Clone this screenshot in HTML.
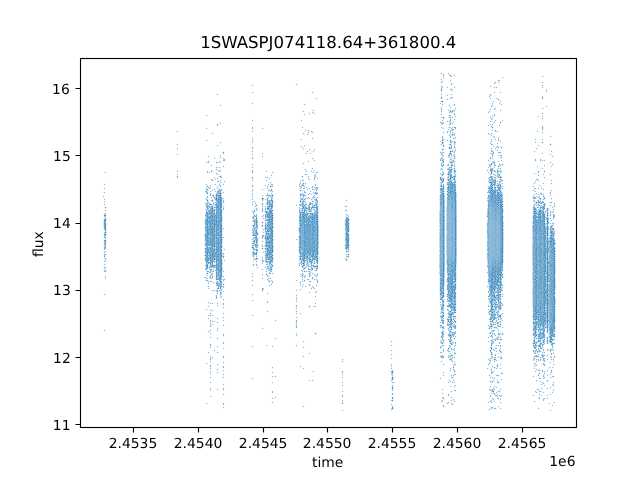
<!DOCTYPE html>
<html><head><meta charset="utf-8"><title>1SWASPJ074118.64+361800.4</title>
<style>html,body{margin:0;padding:0;background:#fff;overflow:hidden}svg{display:block}</style></head>
<body><svg width="640" height="480" viewBox="0 0 640 480">
<rect width="640" height="480" fill="#fff"/>
<g fill="none" stroke-width="1"><path stroke="#f4f8fb" d="M102.5 196v1M103.5 184v1M103.5 188v1M103.5 192v1M103.5 195v1M103.5 197v1M103.5 199v1M103.5 201v1M103.5 204v1M103.5 214v1M103.5 216v1M103.5 228v2M103.5 233v1M103.5 235v3M103.5 244v1M103.5 246v4M103.5 252v1M103.5 254v2M103.5 261v1M103.5 264v1M103.5 267v1M103.5 269v1M103.5 271v1M103.5 294v1M103.5 330v1M104.5 172v1M104.5 183v1M104.5 185v1M104.5 187v1M104.5 189v1M104.5 191v1M104.5 193v1M104.5 196v1M104.5 198v1M104.5 202v2M104.5 205v1M104.5 210v1M104.5 231v1M104.5 250v1M104.5 262v2M104.5 265v2M104.5 272v1M104.5 276v1M104.5 278v1M104.5 293v1M104.5 295v1M104.5 329v1M104.5 331v1M105.5 171v1M105.5 173v1M105.5 184v1M105.5 188v1M105.5 192v1M105.5 199v1M105.5 201v1M105.5 204v1M105.5 209v1M105.5 211v2M105.5 250v1M105.5 253v1M105.5 264v1M105.5 266v1M105.5 268v1M105.5 272v1M105.5 275v1M105.5 279v1M105.5 294v1M105.5 330v1M106.5 172v1M106.5 210v1M106.5 213v1M106.5 217v2M106.5 221v3M106.5 226v1M106.5 230v2M106.5 235v1M106.5 237v2M106.5 242v7M106.5 251v1M106.5 254v1M106.5 260v1M106.5 267v1M106.5 270v2M106.5 276v1M106.5 278v1M176.5 131v1M176.5 144v1M176.5 148v1M176.5 154v1M176.5 171v1M176.5 174v1M176.5 176v2M177.5 130v1M177.5 132v1M177.5 143v1M177.5 145v1M177.5 147v1M177.5 149v1M177.5 153v1M177.5 155v1M177.5 170v1M177.5 172v2M177.5 178v1M178.5 131v1M178.5 144v1M178.5 148v1M178.5 154v1M178.5 171v1M178.5 174v1M178.5 176v2M204.5 191v1M204.5 203v1M204.5 209v1M204.5 214v2M204.5 217v1M204.5 221v1M204.5 223v1M204.5 226v1M204.5 228v1M204.5 231v1M204.5 233v1M204.5 238v1M204.5 243v1M204.5 245v1M204.5 252v2M204.5 257v2M204.5 265v1M204.5 269v1M205.5 115v1M205.5 128v1M205.5 140v1M205.5 162v1M205.5 184v1M205.5 188v3M205.5 198v2M205.5 202v1M205.5 204v1M205.5 208v1M205.5 211v1M205.5 263v1M205.5 270v1M205.5 273v1M205.5 309v1M205.5 363v1M205.5 403v1M206.5 114v1M206.5 116v1M206.5 127v1M206.5 129v1M206.5 139v1M206.5 141v1M206.5 161v1M206.5 163v1M206.5 171v2M206.5 183v1M206.5 185v1M206.5 187v1M206.5 196v1M206.5 201v2M206.5 270v1M206.5 272v1M206.5 274v2M206.5 278v1M206.5 308v1M206.5 310v1M206.5 362v1M206.5 364v1M206.5 402v1M206.5 404v1M207.5 115v1M207.5 128v1M207.5 140v1M207.5 156v1M207.5 161v1M207.5 170v1M207.5 173v1M207.5 184v1M207.5 195v1M207.5 276v2M207.5 283v1M207.5 286v1M207.5 288v1M207.5 302v1M207.5 306v1M207.5 309v1M207.5 315v1M207.5 318v1M207.5 331v1M207.5 352v1M207.5 363v1M207.5 403v1M208.5 155v1M208.5 157v1M208.5 160v1M208.5 163v1M208.5 171v1M208.5 189v2M208.5 192v1M208.5 196v2M208.5 270v1M208.5 275v1M208.5 277v2M208.5 284v2M208.5 289v1M208.5 301v1M208.5 303v1M208.5 305v1M208.5 307v1M208.5 314v1M208.5 316v2M208.5 319v1M208.5 330v1M208.5 332v1M208.5 351v1M208.5 353v1M209.5 156v1M209.5 161v2M209.5 171v1M209.5 173v1M209.5 185v1M209.5 189v1M209.5 191v1M209.5 195v1M209.5 265v1M209.5 270v1M209.5 273v1M209.5 275v1M209.5 278v1M209.5 283v1M209.5 286v1M209.5 288v1M209.5 302v2M209.5 306v1M209.5 310v1M209.5 313v1M209.5 318v1M209.5 320v2M209.5 323v1M209.5 325v2M209.5 330v2M209.5 333v1M209.5 337v1M209.5 344v2M209.5 347v1M209.5 352v1M209.5 356v1M209.5 358v2M209.5 361v1M209.5 365v2M209.5 368v1M209.5 371v1M209.5 373v1M209.5 377v1M209.5 382v1M209.5 388v1M209.5 390v1M209.5 396v1M210.5 165v1M210.5 170v3M210.5 179v1M210.5 184v1M210.5 190v1M210.5 192v1M210.5 196v2M210.5 200v1M210.5 273v1M210.5 280v1M210.5 282v1M210.5 302v1M210.5 304v1M210.5 309v1M210.5 311v2M210.5 316v1M210.5 319v1M210.5 327v1M210.5 329v1M210.5 331v2M210.5 334v1M210.5 336v1M210.5 338v1M210.5 343v1M210.5 348v1M210.5 355v1M210.5 362v1M210.5 364v1M210.5 369v2M210.5 374v1M210.5 376v1M210.5 378v1M210.5 381v1M210.5 383v1M210.5 387v1M210.5 391v1M210.5 395v1M210.5 397v1M211.5 133v1M211.5 164v1M211.5 166v1M211.5 169v1M211.5 172v1M211.5 178v1M211.5 185v1M211.5 187v1M211.5 190v2M211.5 196v1M211.5 198v2M211.5 203v1M211.5 272v1M211.5 279v2M211.5 282v1M211.5 290v1M211.5 313v1M211.5 320v1M211.5 323v4M211.5 330v1M211.5 333v1M211.5 337v1M211.5 344v2M211.5 347v1M211.5 356v4M211.5 361v1M211.5 365v2M211.5 368v1M211.5 371v1M211.5 373v1M211.5 377v1M211.5 382v1M211.5 388v1M211.5 390v1M211.5 396v1M212.5 132v1M212.5 134v1M212.5 165v1M212.5 170v2M212.5 189v1M212.5 191v1M212.5 194v1M212.5 197v1M212.5 202v1M212.5 281v2M212.5 289v1M212.5 291v1M212.5 302v1M212.5 304v1M212.5 309v1M212.5 311v1M212.5 314v1M212.5 316v1M212.5 320v1M212.5 322v2M212.5 325v1M212.5 356v1M212.5 358v1M213.5 133v1M213.5 158v1M213.5 177v1M213.5 189v2M213.5 198v1M213.5 201v1M213.5 272v1M213.5 275v3M213.5 281v1M213.5 283v1M213.5 303v1M213.5 310v1M213.5 315v1M213.5 324v1M213.5 350v1M213.5 357v1M214.5 157v1M214.5 159v1M214.5 176v1M214.5 178v2M214.5 184v1M214.5 188v1M214.5 190v2M214.5 202v1M214.5 263v1M214.5 268v4M214.5 282v1M214.5 289v1M214.5 291v1M214.5 320v1M214.5 322v1M214.5 349v1M214.5 351v1M215.5 158v1M215.5 162v1M215.5 167v1M215.5 169v1M215.5 173v1M215.5 177v2M215.5 180v1M215.5 183v1M215.5 185v1M215.5 189v2M215.5 192v3M215.5 201v1M215.5 274v1M215.5 276v1M215.5 278v1M215.5 285v1M215.5 295v4M215.5 321v1M215.5 350v1M216.5 94v1M216.5 124v2M216.5 145v1M216.5 161v1M216.5 163v1M216.5 166v1M216.5 170v1M216.5 172v1M216.5 178v2M216.5 181v1M216.5 184v1M216.5 186v1M216.5 188v1M216.5 286v1M216.5 289v1M216.5 293v2M216.5 299v1M216.5 303v1M216.5 305v1M216.5 318v1M216.5 322v1M216.5 328v1M216.5 330v1M216.5 338v1M216.5 346v1M216.5 352v1M216.5 364v1M216.5 369v1M216.5 372v1M216.5 389v1M217.5 93v1M217.5 95v1M217.5 123v1M217.5 126v1M217.5 144v1M217.5 146v1M217.5 161v1M217.5 163v1M217.5 167v1M217.5 169v2M217.5 175v1M217.5 177v1M217.5 179v2M217.5 182v1M217.5 185v1M217.5 189v1M217.5 294v5M217.5 302v1M217.5 306v1M217.5 317v1M217.5 319v1M217.5 321v1M217.5 323v1M217.5 327v1M217.5 331v1M217.5 337v1M217.5 339v1M217.5 345v1M217.5 347v1M217.5 351v1M217.5 353v1M217.5 363v1M217.5 365v1M217.5 368v1M217.5 370v2M217.5 373v1M217.5 388v1M217.5 390v1M218.5 94v1M218.5 124v2M218.5 145v1M218.5 161v2M218.5 167v1M218.5 169v1M218.5 174v1M218.5 176v1M218.5 178v1M218.5 180v1M218.5 182v1M218.5 184v1M218.5 186v1M218.5 188v1M218.5 289v1M218.5 293v1M218.5 303v1M218.5 305v1M218.5 318v1M218.5 322v1M218.5 328v1M218.5 330v1M218.5 338v1M218.5 346v1M218.5 352v1M218.5 364v1M218.5 369v1M218.5 372v1M218.5 389v1M219.5 105v1M219.5 123v1M219.5 142v1M219.5 155v1M219.5 157v1M219.5 160v1M219.5 166v1M219.5 168v1M219.5 172v1M219.5 175v1M219.5 177v1M219.5 180v4M219.5 186v1M219.5 188v1M219.5 289v1M219.5 297v1M220.5 104v1M220.5 106v1M220.5 122v1M220.5 124v1M220.5 141v1M220.5 143v1M220.5 154v1M220.5 158v1M220.5 163v1M220.5 167v1M220.5 169v1M220.5 179v1M220.5 183v1M220.5 187v1M220.5 298v1M221.5 105v1M221.5 123v1M221.5 142v1M221.5 155v1M221.5 157v1M221.5 162v1M221.5 170v1M221.5 178v1M221.5 180v1M221.5 182v1M221.5 185v2M221.5 188v1M221.5 295v1M222.5 153v1M222.5 158v1M222.5 160v1M222.5 166v1M222.5 177v1M222.5 184v1M222.5 189v2M222.5 192v2M222.5 197v1M222.5 203v1M222.5 205v1M222.5 208v1M222.5 224v1M222.5 227v1M222.5 233v1M222.5 236v1M222.5 249v1M222.5 251v1M222.5 258v1M222.5 272v1M222.5 274v1M222.5 277v1M222.5 280v4M222.5 287v1M222.5 289v3M222.5 293v1M222.5 296v1M222.5 299v1M222.5 303v2M222.5 307v1M222.5 313v1M222.5 317v1M222.5 320v1M222.5 325v1M222.5 334v2M222.5 342v2M222.5 348v1M222.5 356v2M222.5 362v1M222.5 366v2M222.5 370v1M222.5 374v1M222.5 377v1M222.5 384v1M222.5 388v2M222.5 394v1M222.5 403v2M222.5 407v1M223.5 154v1M223.5 157v1M223.5 161v1M223.5 165v1M223.5 167v1M223.5 181v1M223.5 183v1M223.5 185v1M223.5 191v1M223.5 193v1M223.5 197v1M223.5 203v1M223.5 205v1M223.5 210v1M223.5 227v1M223.5 229v1M223.5 236v1M223.5 238v1M223.5 249v1M223.5 252v1M223.5 258v1M223.5 260v1M223.5 270v1M223.5 272v1M223.5 275v1M223.5 277v2M223.5 281v1M223.5 288v1M223.5 290v1M223.5 292v1M223.5 298v1M223.5 300v1M223.5 302v1M223.5 305v2M223.5 308v1M223.5 312v1M223.5 314v1M223.5 316v1M223.5 318v2M223.5 321v1M223.5 324v1M223.5 326v1M223.5 333v1M223.5 336v1M223.5 341v1M223.5 344v1M223.5 347v1M223.5 349v1M223.5 355v1M223.5 358v1M223.5 361v1M223.5 363v1M223.5 365v1M223.5 368v2M223.5 371v1M223.5 373v1M223.5 375v2M223.5 378v1M223.5 383v1M223.5 385v1M223.5 387v1M223.5 390v1M223.5 393v1M223.5 395v1M223.5 402v1M223.5 405v2M223.5 408v1M224.5 153v1M224.5 161v1M224.5 166v1M224.5 180v1M224.5 182v1M224.5 184v1M224.5 192v1M224.5 198v1M224.5 200v3M224.5 206v1M224.5 208v2M224.5 228v1M224.5 237v1M224.5 248v1M224.5 250v1M224.5 253v2M224.5 257v1M224.5 259v1M224.5 261v1M224.5 271v1M224.5 276v1M224.5 278v1M224.5 286v2M224.5 291v1M224.5 299v1M224.5 303v2M224.5 307v1M224.5 313v1M224.5 317v1M224.5 320v1M224.5 325v1M224.5 334v2M224.5 342v2M224.5 348v1M224.5 356v2M224.5 362v1M224.5 366v2M224.5 370v1M224.5 374v1M224.5 377v1M224.5 384v1M224.5 388v2M224.5 394v1M224.5 403v2M224.5 407v1M225.5 159v2M225.5 181v1M225.5 249v1M225.5 260v1M225.5 279v1M251.5 85v1M251.5 92v1M251.5 103v1M251.5 120v1M251.5 127v2M251.5 131v1M251.5 138v1M251.5 140v1M251.5 142v1M251.5 147v2M251.5 151v1M251.5 154v1M251.5 157v2M251.5 164v1M251.5 167v1M251.5 170v3M251.5 177v2M251.5 180v1M251.5 185v2M251.5 193v1M251.5 195v1M251.5 197v1M251.5 199v1M251.5 202v1M251.5 204v1M251.5 211v1M251.5 217v1M251.5 225v1M251.5 228v1M251.5 230v1M251.5 232v1M251.5 235v1M251.5 239v1M251.5 245v2M251.5 252v1M251.5 254v1M251.5 273v1M251.5 276v1M251.5 280v1M251.5 285v1M251.5 294v1M251.5 300v1M251.5 315v1M251.5 346v1M251.5 378v1M252.5 84v1M252.5 86v1M252.5 91v1M252.5 93v1M252.5 102v1M252.5 104v1M252.5 119v1M252.5 121v1M252.5 126v1M252.5 129v2M252.5 132v1M252.5 137v1M252.5 143v1M252.5 146v1M252.5 149v2M252.5 152v2M252.5 155v2M252.5 159v1M252.5 163v1M252.5 165v2M252.5 168v2M252.5 173v1M252.5 176v1M252.5 181v1M252.5 184v1M252.5 187v1M252.5 192v1M252.5 200v2M252.5 205v1M252.5 210v1M252.5 213v1M252.5 220v1M252.5 224v1M252.5 236v1M252.5 240v1M252.5 249v1M252.5 260v1M252.5 264v2M252.5 272v1M252.5 274v2M252.5 277v1M252.5 279v1M252.5 281v1M252.5 284v1M252.5 286v1M252.5 293v1M252.5 295v1M252.5 299v1M252.5 301v1M252.5 314v1M252.5 316v1M252.5 345v1M252.5 347v1M252.5 377v1M252.5 379v1M253.5 85v1M253.5 92v1M253.5 103v1M253.5 120v1M253.5 127v2M253.5 131v1M253.5 138v1M253.5 140v1M253.5 142v1M253.5 147v2M253.5 151v1M253.5 154v1M253.5 157v2M253.5 164v1M253.5 167v1M253.5 170v3M253.5 177v2M253.5 180v1M253.5 185v2M253.5 193v1M253.5 195v1M253.5 197v1M253.5 199v1M253.5 201v2M253.5 204v1M253.5 214v1M253.5 258v2M253.5 261v1M253.5 263v1M253.5 266v1M253.5 273v1M253.5 276v1M253.5 280v1M253.5 285v1M253.5 294v1M253.5 300v1M253.5 315v1M253.5 346v1M253.5 378v1M254.5 200v1M254.5 202v2M254.5 206v1M254.5 213v1M254.5 247v1M254.5 251v1M254.5 257v1M254.5 260v1M254.5 264v2M255.5 201v2M255.5 204v1M255.5 207v3M255.5 211v1M255.5 214v1M255.5 255v2M255.5 260v2M255.5 264v2M256.5 203v1M256.5 207v1M256.5 213v1M256.5 262v2M256.5 266v2M257.5 208v1M257.5 211v1M257.5 214v3M257.5 248v1M257.5 256v2M257.5 261v1M257.5 264v3M257.5 268v1M258.5 210v1M258.5 221v2M258.5 225v2M258.5 228v1M258.5 238v3M258.5 242v1M258.5 244v1M258.5 247v1M258.5 258v1M258.5 267v1M261.5 128v1M261.5 153v1M261.5 156v1M261.5 189v1M261.5 195v1M261.5 200v1M261.5 203v1M261.5 206v1M261.5 208v4M261.5 216v1M261.5 226v1M261.5 235v4M261.5 241v1M261.5 245v2M261.5 257v1M261.5 259v3M261.5 263v1M261.5 269v1M261.5 274v1M261.5 278v1M261.5 288v2M261.5 328v1M262.5 127v1M262.5 129v1M262.5 152v1M262.5 154v2M262.5 157v1M262.5 188v1M262.5 190v1M262.5 194v1M262.5 196v1M262.5 201v2M262.5 212v1M262.5 217v2M262.5 227v1M262.5 229v1M262.5 232v1M262.5 234v1M262.5 239v2M262.5 242v1M262.5 244v1M262.5 252v1M262.5 256v1M262.5 264v1M262.5 268v1M262.5 270v1M262.5 273v1M262.5 275v1M262.5 277v1M262.5 279v1M262.5 287v1M262.5 327v1M262.5 329v1M263.5 128v1M263.5 153v1M263.5 156v1M263.5 189v1M263.5 195v1M263.5 197v1M263.5 200v1M263.5 203v1M263.5 206v1M263.5 208v4M263.5 214v1M263.5 217v1M263.5 219v1M263.5 226v1M263.5 228v1M263.5 230v2M263.5 233v2M263.5 238v1M263.5 241v1M263.5 245v2M263.5 251v1M263.5 253v1M263.5 257v1M263.5 259v1M263.5 262v2M263.5 269v1M263.5 274v1M263.5 278v1M263.5 287v1M263.5 328v1M264.5 177v1M264.5 185v1M264.5 198v2M264.5 206v1M264.5 208v2M264.5 214v1M264.5 217v1M264.5 222v2M264.5 226v1M264.5 232v2M264.5 239v1M264.5 242v1M264.5 244v1M264.5 246v1M264.5 252v2M264.5 257v2M264.5 260v1M264.5 267v1M264.5 288v1M265.5 171v1M265.5 176v1M265.5 178v1M265.5 180v1M265.5 184v1M265.5 186v1M265.5 195v1M265.5 198v1M265.5 200v1M265.5 203v1M265.5 205v1M265.5 213v1M265.5 264v1M265.5 266v1M265.5 268v2M265.5 271v1M265.5 345v1M266.5 170v1M266.5 172v1M266.5 179v1M266.5 181v1M266.5 185v2M266.5 188v1M266.5 193v2M266.5 196v1M266.5 201v1M266.5 207v1M266.5 221v1M266.5 265v2M266.5 272v1M266.5 279v1M266.5 293v1M266.5 301v2M266.5 311v1M266.5 344v1M266.5 346v1M267.5 171v1M267.5 176v1M267.5 178v1M267.5 180v1M267.5 184v2M267.5 189v2M267.5 192v1M267.5 260v1M267.5 270v2M267.5 292v1M267.5 294v1M267.5 300v1M267.5 303v1M267.5 310v1M267.5 312v1M267.5 345v1M268.5 177v2M268.5 183v1M268.5 185v2M268.5 188v2M268.5 191v1M268.5 193v2M268.5 199v1M268.5 271v3M268.5 285v1M268.5 293v1M268.5 301v2M268.5 311v1M269.5 177v1M269.5 179v1M269.5 182v1M269.5 184v1M269.5 189v1M269.5 197v1M269.5 274v1M269.5 276v1M269.5 284v1M269.5 286v1M270.5 175v1M270.5 178v1M270.5 181v1M270.5 183v2M270.5 192v2M270.5 198v1M270.5 274v1M270.5 277v1M270.5 279v2M270.5 284v2M271.5 172v1M271.5 174v1M271.5 176v1M271.5 182v2M271.5 187v1M271.5 192v1M271.5 272v1M271.5 278v2M271.5 282v2M271.5 285v1M271.5 346v1M271.5 367v1M271.5 372v1M271.5 376v1M271.5 382v1M271.5 391v2M271.5 398v1M271.5 402v1M272.5 171v1M272.5 173v1M272.5 175v1M272.5 183v1M272.5 187v1M272.5 192v2M272.5 263v1M272.5 268v1M272.5 271v2M272.5 274v1M272.5 283v2M272.5 345v1M272.5 347v1M272.5 366v1M272.5 368v1M272.5 371v1M272.5 373v1M272.5 375v1M272.5 377v1M272.5 381v1M272.5 383v1M272.5 390v1M272.5 393v1M272.5 397v1M272.5 399v1M272.5 401v1M272.5 403v1M273.5 172v1M273.5 184v1M273.5 186v1M273.5 191v1M273.5 196v1M273.5 198v1M273.5 200v1M273.5 204v1M273.5 206v2M273.5 214v1M273.5 216v1M273.5 222v1M273.5 225v1M273.5 228v3M273.5 232v1M273.5 234v1M273.5 237v2M273.5 241v1M273.5 254v1M273.5 260v3M273.5 266v1M273.5 273v1M273.5 281v2M273.5 346v1M273.5 367v1M273.5 372v1M273.5 376v1M273.5 382v1M273.5 391v2M273.5 398v1M273.5 402v1M274.5 320v1M274.5 338v1M274.5 376v1M274.5 397v1M275.5 319v1M275.5 321v1M275.5 337v1M275.5 339v1M275.5 375v1M275.5 377v1M275.5 396v1M275.5 398v1M276.5 320v1M276.5 338v1M276.5 376v1M276.5 397v1M295.5 84v1M295.5 205v1M295.5 239v1M295.5 280v1M295.5 290v1M295.5 295v1M295.5 297v1M295.5 299v1M295.5 301v1M295.5 305v2M295.5 308v1M295.5 311v1M295.5 313v1M295.5 317v1M295.5 320v3M295.5 324v1M295.5 327v1M295.5 333v1M295.5 335v1M295.5 345v1M296.5 83v1M296.5 85v1M296.5 204v1M296.5 206v1M296.5 238v1M296.5 240v1M296.5 279v1M296.5 281v1M296.5 289v1M296.5 291v1M296.5 294v1M296.5 302v1M296.5 304v1M296.5 309v2M296.5 314v1M296.5 316v1M296.5 318v2M296.5 328v1M296.5 332v1M296.5 336v1M296.5 344v1M296.5 346v1M297.5 84v1M297.5 205v1M297.5 239v1M297.5 280v1M297.5 290v1M297.5 295v1M297.5 297v1M297.5 299v1M297.5 301v1M297.5 305v2M297.5 308v1M297.5 311v1M297.5 313v1M297.5 317v1M297.5 320v3M297.5 324v1M297.5 327v1M297.5 333v1M297.5 335v1M297.5 345v1M298.5 184v1M298.5 186v1M298.5 204v1M298.5 207v1M298.5 209v4M298.5 214v1M298.5 216v3M298.5 221v1M298.5 223v1M298.5 227v1M298.5 232v2M298.5 238v1M298.5 240v3M298.5 244v3M298.5 248v1M298.5 253v1M298.5 256v1M298.5 258v1M298.5 260v1M298.5 263v1M299.5 181v1M299.5 187v2M299.5 195v2M299.5 198v1M299.5 200v1M299.5 203v1M299.5 206v1M299.5 261v1M299.5 274v1M299.5 282v2M299.5 285v1M299.5 289v1M299.5 313v1M299.5 366v1M300.5 120v1M300.5 139v1M300.5 146v1M300.5 180v1M300.5 203v1M300.5 264v1M300.5 270v1M300.5 273v1M300.5 275v2M300.5 281v1M300.5 286v1M300.5 288v1M300.5 290v1M300.5 312v1M300.5 314v1M300.5 365v1M300.5 367v1M301.5 119v1M301.5 121v1M301.5 127v1M301.5 138v1M301.5 140v1M301.5 145v1M301.5 147v1M301.5 180v2M301.5 183v1M301.5 196v2M301.5 202v1M301.5 265v1M301.5 269v1M301.5 273v2M301.5 279v1M301.5 281v3M301.5 285v2M301.5 289v1M301.5 313v1M301.5 366v1M302.5 111v1M302.5 120v1M302.5 126v1M302.5 128v1M302.5 133v1M302.5 139v1M302.5 146v1M302.5 148v1M302.5 163v1M302.5 179v1M302.5 181v1M302.5 186v4M302.5 191v2M302.5 269v1M302.5 282v1M302.5 284v2M302.5 287v1M302.5 341v1M302.5 347v1M302.5 356v1M302.5 368v1M302.5 406v1M303.5 104v1M303.5 110v1M303.5 112v1M303.5 114v1M303.5 127v1M303.5 132v1M303.5 134v1M303.5 145v1M303.5 147v1M303.5 149v1M303.5 162v1M303.5 164v1M303.5 179v1M303.5 181v1M303.5 187v1M303.5 189v4M303.5 270v1M303.5 276v1M303.5 279v1M303.5 281v1M303.5 283v1M303.5 285v2M303.5 340v1M303.5 342v1M303.5 346v1M303.5 348v1M303.5 355v1M303.5 357v1M303.5 367v1M303.5 369v1M303.5 405v1M303.5 407v1M304.5 103v1M304.5 105v1M304.5 111v1M304.5 113v1M304.5 115v1M304.5 130v1M304.5 133v1M304.5 144v1M304.5 146v1M304.5 148v1M304.5 163v1M304.5 169v1M304.5 174v1M304.5 180v1M304.5 189v2M304.5 193v1M304.5 197v1M304.5 266v1M304.5 274v1M304.5 278v1M304.5 284v1M304.5 286v1M304.5 341v1M304.5 347v1M304.5 356v1M304.5 368v1M304.5 406v1M305.5 104v1M305.5 114v1M305.5 129v1M305.5 131v1M305.5 145v1M305.5 153v1M305.5 168v1M305.5 170v2M305.5 173v1M305.5 175v1M305.5 182v1M305.5 184v1M305.5 186v3M305.5 193v2M305.5 196v2M305.5 265v1M305.5 274v1M305.5 277v1M305.5 285v1M305.5 287v1M306.5 130v1M306.5 134v1M306.5 151v2M306.5 154v1M306.5 169v2M306.5 172v2M306.5 175v1M306.5 183v1M306.5 186v1M306.5 188v2M306.5 192v1M306.5 195v1M306.5 202v2M306.5 270v1M306.5 272v1M306.5 275v1M306.5 279v1M306.5 286v1M307.5 130v1M307.5 132v2M307.5 135v1M307.5 150v1M307.5 152v2M307.5 161v1M307.5 171v1M307.5 174v1M307.5 176v1M307.5 178v1M307.5 187v2M307.5 190v1M307.5 194v1M307.5 199v1M307.5 204v3M307.5 210v1M307.5 268v2M307.5 278v1M307.5 280v1M308.5 113v1M308.5 129v1M308.5 133v2M308.5 149v1M308.5 151v1M308.5 160v1M308.5 162v1M308.5 175v1M308.5 188v2M308.5 195v2M308.5 203v1M308.5 272v1M308.5 274v3M308.5 278v1M308.5 280v2M308.5 284v2M308.5 292v1M308.5 353v1M308.5 380v1M309.5 112v1M309.5 114v1M309.5 130v1M309.5 132v1M309.5 148v1M309.5 150v1M309.5 153v1M309.5 161v1M309.5 176v1M309.5 180v1M309.5 187v1M309.5 189v1M309.5 191v2M309.5 199v1M309.5 263v3M309.5 267v1M309.5 277v1M309.5 279v2M309.5 282v2M309.5 286v1M309.5 291v1M309.5 293v1M309.5 352v1M309.5 354v1M309.5 379v1M309.5 381v1M310.5 113v1M310.5 131v1M310.5 149v1M310.5 152v1M310.5 154v1M310.5 171v1M310.5 179v1M310.5 188v1M310.5 190v1M310.5 192v3M310.5 198v2M310.5 201v1M310.5 264v2M310.5 267v1M310.5 280v1M310.5 282v1M310.5 284v2M310.5 288v1M310.5 292v1M310.5 353v1M310.5 380v1M311.5 92v1M311.5 112v1M311.5 130v1M311.5 138v1M311.5 153v1M311.5 158v1M311.5 168v1M311.5 170v1M311.5 172v1M311.5 186v2M311.5 189v1M311.5 191v1M311.5 193v1M311.5 195v1M311.5 200v1M311.5 258v1M311.5 271v3M311.5 275v1M311.5 277v1M311.5 281v1M311.5 286v2M311.5 289v1M311.5 380v1M312.5 91v1M312.5 93v1M312.5 110v2M312.5 113v1M312.5 133v1M312.5 137v1M312.5 139v1M312.5 151v1M312.5 157v1M312.5 159v1M312.5 167v1M312.5 169v1M312.5 171v2M312.5 185v1M312.5 190v1M312.5 192v1M312.5 194v1M312.5 196v1M312.5 211v1M312.5 272v1M312.5 274v1M312.5 276v1M312.5 285v1M312.5 288v1M312.5 306v1M312.5 371v1M312.5 379v1M312.5 381v1M313.5 92v1M313.5 109v1M313.5 111v3M313.5 132v1M313.5 138v1M313.5 149v2M313.5 152v1M313.5 158v1M313.5 160v1M313.5 168v1M313.5 170v2M313.5 173v1M313.5 175v1M313.5 177v3M313.5 186v1M313.5 188v1M313.5 190v2M313.5 199v2M313.5 202v2M313.5 261v1M313.5 264v1M313.5 273v2M313.5 277v1M313.5 279v1M313.5 305v1M313.5 307v1M313.5 370v1M313.5 372v1M313.5 380v1M314.5 110v1M314.5 112v1M314.5 114v1M314.5 148v1M314.5 150v2M314.5 159v1M314.5 161v1M314.5 169v1M314.5 171v2M314.5 180v1M314.5 184v3M314.5 189v1M314.5 201v3M314.5 268v1M314.5 270v1M314.5 273v1M314.5 278v1M314.5 280v1M314.5 289v1M314.5 292v1M314.5 296v1M314.5 303v1M314.5 371v1M315.5 98v1M315.5 113v1M315.5 149v1M315.5 160v1M315.5 170v1M315.5 172v2M315.5 178v2M315.5 183v1M315.5 186v1M315.5 190v2M315.5 195v1M315.5 197v1M315.5 271v1M315.5 285v1M315.5 288v1M315.5 293v1M315.5 295v1M315.5 297v1M315.5 302v1M315.5 304v2M315.5 307v1M316.5 97v1M316.5 99v1M316.5 171v1M316.5 173v2M316.5 176v1M316.5 178v1M316.5 184v3M316.5 195v1M316.5 264v1M316.5 271v1M316.5 278v1M316.5 281v2M316.5 284v1M316.5 286v1M316.5 290v1M316.5 296v1M316.5 303v1M316.5 306v1M317.5 98v1M317.5 171v1M317.5 173v1M317.5 177v1M317.5 179v1M317.5 186v1M317.5 190v1M317.5 196v1M317.5 270v1M317.5 283v1M317.5 285v1M317.5 291v1M318.5 172v1M318.5 178v1M318.5 187v2M318.5 197v1M318.5 200v3M318.5 204v1M318.5 209v1M318.5 214v1M318.5 218v1M318.5 256v2M318.5 262v1M318.5 265v1M318.5 267v2M318.5 280v3M341.5 359v1M341.5 361v1M341.5 371v2M341.5 374v1M341.5 377v1M341.5 382v1M341.5 385v1M341.5 391v1M341.5 395v2M341.5 400v1M341.5 402v2M341.5 410v1M342.5 358v1M342.5 362v1M342.5 370v1M342.5 375v2M342.5 378v1M342.5 381v1M342.5 383v2M342.5 386v1M342.5 390v1M342.5 392v1M342.5 394v1M342.5 397v1M342.5 399v1M342.5 404v1M342.5 409v1M342.5 411v1M343.5 359v1M343.5 361v1M343.5 371v2M343.5 374v1M343.5 377v1M343.5 382v1M343.5 385v1M343.5 391v1M343.5 395v2M343.5 400v1M343.5 402v2M343.5 410v1M344.5 206v1M344.5 210v1M344.5 220v2M344.5 225v1M344.5 228v1M344.5 233v2M344.5 237v1M344.5 239v2M344.5 247v2M344.5 258v1M345.5 200v1M345.5 205v1M345.5 207v1M345.5 209v1M345.5 211v1M345.5 214v1M345.5 254v1M345.5 256v2M345.5 260v1M346.5 199v1M346.5 201v1M346.5 205v1M346.5 207v1M346.5 209v1M346.5 211v1M346.5 213v1M346.5 253v1M346.5 257v1M346.5 261v1M347.5 200v1M347.5 206v1M347.5 210v1M347.5 252v1M347.5 255v1M347.5 260v1M348.5 252v1M348.5 258v1M349.5 216v1M349.5 218v1M349.5 235v1M349.5 237v1M349.5 241v1M349.5 243v1M349.5 248v4M349.5 256v2M390.5 341v1M390.5 345v1M390.5 350v1M390.5 354v1M390.5 358v1M390.5 364v1M390.5 366v1M390.5 368v1M390.5 371v2M390.5 374v1M390.5 380v1M390.5 400v1M390.5 404v1M390.5 409v1M391.5 340v1M391.5 342v1M391.5 344v1M391.5 346v1M391.5 349v1M391.5 351v1M391.5 353v1M391.5 355v1M391.5 357v1M391.5 359v1M391.5 363v1M391.5 369v1M391.5 381v2M391.5 385v3M391.5 390v1M391.5 393v2M391.5 399v1M391.5 401v1M391.5 403v1M391.5 405v2M391.5 410v1M392.5 341v1M392.5 345v1M392.5 350v1M392.5 354v1M392.5 358v1M392.5 364v1M392.5 366v1M392.5 368v2M392.5 381v1M392.5 383v2M392.5 391v2M392.5 395v1M392.5 404v2M393.5 370v1M393.5 373v1M393.5 375v1M393.5 381v1M393.5 383v1M393.5 385v3M393.5 390v1M393.5 393v2M393.5 406v1M394.5 382v1M439.5 103v1M439.5 122v1M439.5 141v1M439.5 152v1M439.5 159v2M439.5 169v1M439.5 173v1M439.5 182v1M439.5 185v2M439.5 188v1M439.5 191v2M439.5 194v1M439.5 200v1M439.5 204v1M439.5 206v1M439.5 227v1M439.5 229v1M439.5 231v1M439.5 276v3M439.5 281v1M439.5 283v1M439.5 290v1M439.5 296v1M439.5 298v1M439.5 302v1M439.5 304v1M439.5 313v1M439.5 322v1M439.5 327v1M439.5 341v1M439.5 346v2M439.5 352v1M439.5 356v1M439.5 378v1M440.5 73v1M440.5 79v1M440.5 82v1M440.5 86v1M440.5 88v2M440.5 94v1M440.5 98v1M440.5 101v2M440.5 104v1M440.5 107v1M440.5 111v1M440.5 114v1M440.5 117v1M440.5 121v1M440.5 123v2M440.5 127v1M440.5 140v1M440.5 142v1M440.5 144v1M440.5 151v1M440.5 154v1M440.5 161v1M440.5 163v3M440.5 170v1M440.5 172v1M440.5 181v1M440.5 301v1M440.5 306v2M440.5 311v1M440.5 314v1M440.5 318v1M440.5 321v1M440.5 323v1M440.5 328v1M440.5 332v1M440.5 337v1M440.5 343v1M440.5 345v1M440.5 348v1M440.5 351v1M440.5 353v1M440.5 355v1M440.5 361v1M440.5 377v1M440.5 379v1M440.5 401v1M441.5 72v1M441.5 74v1M441.5 78v1M441.5 80v1M441.5 83v1M441.5 85v1M441.5 93v1M441.5 95v1M441.5 99v2M441.5 102v3M441.5 106v1M441.5 112v2M441.5 115v2M441.5 118v1M441.5 120v2M441.5 125v2M441.5 128v1M441.5 136v3M441.5 141v1M441.5 145v1M441.5 155v2M441.5 167v1M441.5 171v1M441.5 301v1M441.5 303v1M441.5 314v1M441.5 323v2M441.5 330v2M441.5 334v1M441.5 344v2M441.5 348v1M441.5 351v1M441.5 353v1M441.5 358v1M441.5 360v1M441.5 362v1M441.5 378v1M441.5 389v1M441.5 393v1M441.5 397v1M441.5 402v1M442.5 73v3M442.5 77v1M442.5 79v2M442.5 89v1M442.5 94v1M442.5 98v1M442.5 103v1M442.5 105v1M442.5 107v1M442.5 111v1M442.5 114v1M442.5 118v2M442.5 121v1M442.5 127v2M442.5 132v1M442.5 135v1M442.5 146v1M442.5 151v1M442.5 167v1M442.5 176v2M442.5 324v2M442.5 329v1M442.5 341v1M442.5 346v2M442.5 349v4M442.5 354v1M442.5 358v1M442.5 361v1M442.5 364v1M442.5 372v1M442.5 375v1M442.5 388v1M442.5 390v1M442.5 392v1M442.5 394v1M442.5 396v1M442.5 399v1M442.5 405v2M443.5 73v1M443.5 78v1M443.5 81v1M443.5 87v1M443.5 104v1M443.5 119v3M443.5 124v1M443.5 127v1M443.5 129v1M443.5 131v1M443.5 133v1M443.5 136v2M443.5 141v1M443.5 147v2M443.5 150v2M443.5 153v1M443.5 169v1M443.5 177v1M443.5 183v1M443.5 298v1M443.5 324v2M443.5 338v1M443.5 344v1M443.5 346v1M443.5 348v1M443.5 352v1M443.5 358v1M443.5 363v1M443.5 365v1M443.5 371v1M443.5 373v2M443.5 376v1M443.5 389v1M443.5 393v1M443.5 400v1M443.5 404v1M443.5 407v1M444.5 74v2M444.5 77v1M444.5 118v1M444.5 122v2M444.5 128v1M444.5 132v1M444.5 139v1M444.5 142v1M444.5 146v1M444.5 149v1M444.5 152v1M444.5 155v1M444.5 159v1M444.5 162v1M444.5 164v2M444.5 172v3M444.5 178v1M444.5 180v2M444.5 184v2M444.5 286v1M444.5 299v1M444.5 302v1M444.5 308v1M444.5 310v1M444.5 312v1M444.5 318v1M444.5 320v1M444.5 322v2M444.5 326v2M444.5 331v1M444.5 333v2M444.5 336v1M444.5 342v1M444.5 345v1M444.5 349v3M444.5 356v2M444.5 364v1M444.5 372v1M444.5 375v1M444.5 405v2M446.5 87v1M446.5 95v1M446.5 99v1M446.5 121v1M446.5 131v2M446.5 140v1M446.5 165v1M446.5 169v1M446.5 174v1M446.5 177v1M446.5 179v1M446.5 182v2M446.5 188v2M446.5 193v1M446.5 195v1M446.5 204v1M446.5 222v1M446.5 270v1M446.5 272v1M446.5 274v1M446.5 277v2M446.5 280v1M446.5 284v2M446.5 287v1M446.5 295v1M446.5 301v1M446.5 305v2M446.5 321v1M446.5 323v3M446.5 350v1M446.5 403v1M447.5 73v1M447.5 86v1M447.5 88v1M447.5 94v1M447.5 96v1M447.5 98v1M447.5 100v1M447.5 110v1M447.5 120v1M447.5 122v1M447.5 129v2M447.5 133v1M447.5 139v1M447.5 141v1M447.5 155v2M447.5 166v1M447.5 170v3M447.5 175v1M447.5 181v1M447.5 276v1M447.5 302v3M447.5 307v1M447.5 312v3M447.5 316v2M447.5 326v1M447.5 328v2M447.5 334v2M447.5 339v1M447.5 355v1M447.5 357v1M447.5 382v1M447.5 394v2M447.5 404v1M448.5 72v1M448.5 74v2M448.5 87v1M448.5 95v1M448.5 99v1M448.5 105v1M448.5 109v1M448.5 111v2M448.5 115v1M448.5 117v1M448.5 124v1M448.5 128v1M448.5 130v3M448.5 135v1M448.5 140v1M448.5 144v1M448.5 153v1M448.5 161v1M448.5 163v1M448.5 166v1M448.5 331v1M448.5 338v1M448.5 340v1M448.5 345v1M448.5 352v1M448.5 354v1M448.5 358v2M448.5 380v2M448.5 383v1M448.5 393v1M448.5 396v1M448.5 401v1M449.5 73v2M449.5 76v1M449.5 80v1M449.5 89v1M449.5 98v1M449.5 104v1M449.5 106v2M449.5 113v2M449.5 118v2M449.5 125v1M449.5 129v4M449.5 137v1M449.5 142v2M449.5 145v1M449.5 158v3M449.5 164v3M449.5 344v1M449.5 349v2M449.5 352v2M449.5 358v1M449.5 360v1M449.5 368v1M449.5 370v1M449.5 379v1M449.5 382v1M449.5 386v1M449.5 394v2M449.5 402v1M450.5 74v1M450.5 79v1M450.5 81v1M450.5 83v2M450.5 88v1M450.5 90v1M450.5 94v1M450.5 99v1M450.5 105v2M450.5 108v2M450.5 114v1M450.5 125v1M450.5 128v2M450.5 138v1M450.5 146v1M450.5 149v1M450.5 158v1M450.5 160v1M450.5 309v1M450.5 348v2M450.5 351v2M450.5 367v1M450.5 371v1M450.5 375v1M450.5 377v1M450.5 382v1M450.5 385v1M450.5 387v1M450.5 391v1M450.5 397v1M450.5 400v1M450.5 403v1M451.5 77v1M451.5 80v1M451.5 82v1M451.5 85v1M451.5 88v1M451.5 93v1M451.5 95v2M451.5 107v1M451.5 110v1M451.5 113v1M451.5 115v1M451.5 119v1M451.5 122v1M451.5 124v1M451.5 131v1M451.5 135v3M451.5 143v1M451.5 149v1M451.5 345v3M451.5 350v1M451.5 353v1M451.5 368v1M451.5 370v1M451.5 374v1M451.5 378v1M451.5 381v2M451.5 386v1M451.5 390v1M451.5 392v1M451.5 396v1M451.5 398v2M451.5 401v2M452.5 76v1M452.5 83v2M452.5 91v1M452.5 94v1M452.5 96v1M452.5 98v1M452.5 116v1M452.5 118v1M452.5 121v2M452.5 124v1M452.5 126v1M452.5 136v1M452.5 138v1M452.5 140v1M452.5 145v5M452.5 152v1M452.5 154v1M452.5 157v1M452.5 167v1M452.5 171v2M452.5 174v1M452.5 179v1M452.5 181v1M452.5 317v1M452.5 328v1M452.5 331v1M452.5 337v1M452.5 339v3M452.5 345v1M452.5 348v1M452.5 354v1M452.5 359v1M452.5 362v1M452.5 365v1M452.5 369v1M452.5 376v1M452.5 378v1M452.5 380v2M452.5 383v1M452.5 391v1M452.5 397v1M452.5 399v2M452.5 405v1M453.5 75v1M453.5 87v1M453.5 90v1M453.5 97v1M453.5 104v2M453.5 109v1M453.5 113v2M453.5 117v1M453.5 119v2M453.5 122v2M453.5 128v1M453.5 132v1M453.5 137v1M453.5 139v1M453.5 142v3M453.5 146v2M453.5 150v1M453.5 152v1M453.5 157v1M453.5 159v1M453.5 163v2M453.5 166v1M453.5 169v1M453.5 172v2M453.5 175v1M453.5 324v1M453.5 328v1M453.5 331v1M453.5 337v1M453.5 341v1M453.5 343v2M453.5 346v1M453.5 352v1M453.5 354v2M453.5 361v2M453.5 376v2M453.5 379v1M453.5 381v1M453.5 386v1M453.5 390v1M453.5 398v1M453.5 400v2M453.5 404v1M454.5 74v1M454.5 76v1M454.5 86v1M454.5 88v1M454.5 103v1M454.5 106v1M454.5 108v2M454.5 111v2M454.5 115v2M454.5 118v1M454.5 120v2M454.5 129v1M454.5 132v1M454.5 136v1M454.5 139v2M454.5 314v1M454.5 323v1M454.5 329v1M454.5 343v1M454.5 355v2M454.5 358v1M454.5 361v1M454.5 373v1M454.5 380v2M454.5 383v1M454.5 387v1M454.5 389v1M454.5 391v1M454.5 399v2M454.5 402v1M455.5 75v1M455.5 87v1M455.5 104v2M455.5 107v1M455.5 109v2M455.5 113v3M455.5 117v1M455.5 119v1M455.5 126v1M455.5 129v1M455.5 133v1M455.5 135v2M455.5 144v1M455.5 146v1M455.5 152v1M455.5 154v1M455.5 156v2M455.5 161v1M455.5 163v1M455.5 165v2M455.5 319v1M455.5 323v2M455.5 329v2M455.5 335v1M455.5 337v1M455.5 341v1M455.5 348v1M455.5 350v1M455.5 357v1M455.5 362v2M455.5 365v1M455.5 370v1M455.5 373v1M455.5 375v1M455.5 382v1M455.5 384v1M455.5 389v1M455.5 391v1M455.5 401v1M456.5 108v1M456.5 116v1M456.5 127v2M456.5 137v1M456.5 142v1M456.5 148v1M456.5 150v1M456.5 174v3M456.5 184v3M456.5 276v1M456.5 283v1M456.5 285v1M456.5 289v1M456.5 294v2M456.5 297v1M456.5 306v2M456.5 318v1M456.5 322v1M456.5 327v2M456.5 331v1M456.5 333v1M456.5 336v1M456.5 342v2M456.5 345v1M456.5 353v1M456.5 364v1M456.5 374v1M456.5 385v1M456.5 390v1M486.5 170v1M486.5 192v1M486.5 198v1M486.5 200v1M486.5 209v1M486.5 212v1M486.5 214v1M486.5 223v1M486.5 227v1M486.5 232v2M486.5 235v1M486.5 237v1M486.5 241v2M486.5 244v3M486.5 250v1M486.5 253v1M486.5 257v1M486.5 259v1M486.5 265v2M486.5 272v1M486.5 286v1M486.5 368v1M487.5 112v1M487.5 125v1M487.5 133v1M487.5 160v1M487.5 167v1M487.5 169v1M487.5 171v2M487.5 178v1M487.5 181v1M487.5 186v1M487.5 190v1M487.5 193v1M487.5 203v1M487.5 269v2M487.5 274v3M487.5 280v1M487.5 283v1M487.5 285v1M487.5 287v1M487.5 291v2M487.5 298v1M487.5 305v2M487.5 309v1M487.5 312v1M487.5 325v1M487.5 337v1M487.5 341v1M487.5 359v1M487.5 364v1M487.5 367v1M487.5 369v1M487.5 402v1M488.5 96v1M488.5 113v1M488.5 124v1M488.5 126v1M488.5 132v1M488.5 159v1M488.5 161v1M488.5 164v3M488.5 168v1M488.5 170v2M488.5 173v1M488.5 185v1M488.5 193v1M488.5 287v3M488.5 293v2M488.5 304v1M488.5 307v2M488.5 310v1M488.5 314v1M488.5 319v1M488.5 324v1M488.5 333v1M488.5 336v1M488.5 338v1M488.5 340v1M488.5 342v1M488.5 358v1M488.5 365v1M488.5 368v1M488.5 375v1M488.5 389v1M488.5 401v1M488.5 403v1M488.5 409v1M489.5 86v1M489.5 94v1M489.5 97v2M489.5 109v2M489.5 117v1M489.5 121v1M489.5 124v2M489.5 135v1M489.5 143v1M489.5 153v1M489.5 157v2M489.5 160v1M489.5 163v1M489.5 167v1M489.5 172v1M489.5 174v1M489.5 185v1M489.5 303v1M489.5 305v1M489.5 315v1M489.5 320v1M489.5 323v2M489.5 334v1M489.5 336v2M489.5 341v1M489.5 347v1M489.5 351v1M489.5 358v1M489.5 361v1M489.5 374v1M489.5 376v2M489.5 386v1M489.5 388v1M489.5 395v2M489.5 401v2M489.5 408v1M489.5 410v1M490.5 85v1M490.5 87v1M490.5 93v1M490.5 97v1M490.5 99v1M490.5 106v1M490.5 108v1M490.5 110v2M490.5 116v1M490.5 118v3M490.5 122v2M490.5 125v2M490.5 133v3M490.5 139v1M490.5 141v2M490.5 148v1M490.5 150v3M490.5 154v1M490.5 156v1M490.5 159v1M490.5 163v1M490.5 334v1M490.5 337v1M490.5 342v3M490.5 346v1M490.5 353v2M490.5 356v2M490.5 369v2M490.5 372v2M490.5 375v2M490.5 378v1M490.5 385v1M490.5 387v1M490.5 391v1M490.5 393v2M490.5 397v1M490.5 407v3M491.5 86v1M491.5 94v2M491.5 98v1M491.5 103v1M491.5 107v1M491.5 109v1M491.5 116v2M491.5 120v2M491.5 125v1M491.5 130v1M491.5 132v1M491.5 136v1M491.5 138v1M491.5 142v1M491.5 145v1M491.5 147v1M491.5 152v1M491.5 154v4M491.5 167v1M491.5 175v1M491.5 329v1M491.5 337v1M491.5 359v2M491.5 362v1M491.5 366v1M491.5 368v1M491.5 374v1M491.5 382v1M491.5 386v1M491.5 392v1M491.5 394v3M491.5 398v2M491.5 403v1M491.5 406v1M491.5 409v1M492.5 101v2M492.5 115v1M492.5 123v1M492.5 125v1M492.5 129v1M492.5 131v1M492.5 133v1M492.5 135v2M492.5 139v1M492.5 141v1M492.5 143v1M492.5 145v2M492.5 148v1M492.5 159v1M492.5 167v1M492.5 174v2M492.5 323v1M492.5 327v3M492.5 347v1M492.5 355v1M492.5 365v1M492.5 367v1M492.5 369v2M492.5 376v1M492.5 378v1M492.5 383v1M492.5 392v1M492.5 397v1M492.5 400v1M492.5 402v1M492.5 406v1M493.5 83v1M493.5 87v1M493.5 92v1M493.5 100v1M493.5 102v2M493.5 105v1M493.5 109v1M493.5 114v3M493.5 118v1M493.5 122v1M493.5 124v1M493.5 130v1M493.5 135v1M493.5 144v2M493.5 147v1M493.5 155v2M493.5 158v1M493.5 160v1M493.5 164v2M493.5 167v2M493.5 173v1M493.5 175v2M493.5 178v1M493.5 186v1M493.5 326v1M493.5 329v1M493.5 332v1M493.5 334v1M493.5 336v2M493.5 340v1M493.5 348v1M493.5 354v1M493.5 361v1M493.5 366v1M493.5 370v1M493.5 377v3M493.5 382v1M493.5 386v2M493.5 400v2M493.5 407v2M494.5 84v1M494.5 86v1M494.5 88v1M494.5 91v1M494.5 93v1M494.5 101v1M494.5 110v1M494.5 113v1M494.5 116v1M494.5 120v2M494.5 123v1M494.5 130v2M494.5 138v2M494.5 146v1M494.5 148v1M494.5 152v2M494.5 168v2M494.5 173v1M494.5 320v1M494.5 323v1M494.5 325v1M494.5 329v1M494.5 332v1M494.5 338v1M494.5 341v2M494.5 348v1M494.5 351v1M494.5 354v3M494.5 362v1M494.5 371v1M494.5 377v1M494.5 379v2M494.5 385v1M494.5 387v1M494.5 390v1M494.5 392v1M494.5 399v2M494.5 402v1M494.5 407v1M494.5 409v1M495.5 81v1M495.5 92v1M495.5 98v1M495.5 107v1M495.5 114v2M495.5 119v1M495.5 121v2M495.5 129v1M495.5 132v1M495.5 137v2M495.5 140v1M495.5 149v1M495.5 162v2M495.5 166v2M495.5 172v1M495.5 320v1M495.5 325v2M495.5 328v1M495.5 330v1M495.5 333v1M495.5 336v1M495.5 341v1M495.5 345v1M495.5 347v1M495.5 349v3M495.5 353v1M495.5 361v1M495.5 368v1M495.5 375v1M495.5 378v1M495.5 386v2M495.5 389v1M495.5 392v2M495.5 396v1M495.5 401v1M495.5 407v1M495.5 409v1M496.5 82v1M496.5 86v1M496.5 88v1M496.5 97v1M496.5 99v1M496.5 108v1M496.5 120v1M496.5 130v1M496.5 139v1M496.5 143v1M496.5 150v1M496.5 165v1M496.5 172v2M496.5 176v2M496.5 179v1M496.5 182v1M496.5 188v1M496.5 293v1M496.5 324v3M496.5 335v1M496.5 340v1M496.5 344v1M496.5 346v2M496.5 349v2M496.5 352v1M496.5 354v2M496.5 357v1M496.5 361v1M496.5 364v2M496.5 367v1M496.5 369v1M496.5 374v1M496.5 376v1M496.5 380v1M496.5 382v1M496.5 386v1M496.5 388v1M496.5 391v1M496.5 393v1M496.5 398v1M496.5 408v1M497.5 80v1M497.5 82v1M497.5 87v1M497.5 98v1M497.5 130v1M497.5 132v1M497.5 137v1M497.5 139v2M497.5 142v1M497.5 144v2M497.5 149v1M497.5 151v2M497.5 155v1M497.5 161v1M497.5 168v1M497.5 180v1M497.5 308v2M497.5 320v1M497.5 329v2M497.5 333v2M497.5 340v1M497.5 348v1M497.5 351v1M497.5 353v1M497.5 357v1M497.5 360v1M497.5 363v1M497.5 368v1M497.5 374v1M497.5 376v1M497.5 379v1M497.5 383v1M497.5 387v1M497.5 391v3M497.5 399v1M497.5 406v1M498.5 79v1M498.5 83v1M498.5 103v1M498.5 125v1M498.5 131v1M498.5 136v1M498.5 141v1M498.5 143v1M498.5 148v1M498.5 150v2M498.5 153v2M498.5 156v1M498.5 160v1M498.5 162v1M498.5 169v1M498.5 178v2M498.5 321v1M498.5 327v3M498.5 331v2M498.5 340v1M498.5 342v3M498.5 346v1M498.5 352v1M498.5 354v1M498.5 356v1M498.5 358v1M498.5 364v2M498.5 374v1M498.5 376v1M498.5 380v1M498.5 390v1M498.5 392v1M498.5 394v4M498.5 399v1M498.5 405v1M498.5 407v1M499.5 79v1M499.5 81v2M499.5 92v1M499.5 101v2M499.5 104v1M499.5 110v1M499.5 124v1M499.5 126v1M499.5 137v1M499.5 139v3M499.5 147v1M499.5 151v1M499.5 153v1M499.5 157v1M499.5 161v1M499.5 173v1M499.5 311v2M499.5 321v1M499.5 323v1M499.5 327v1M499.5 330v1M499.5 336v2M499.5 341v1M499.5 344v1M499.5 346v1M499.5 348v1M499.5 353v1M499.5 356v3M499.5 364v1M499.5 368v1M499.5 375v1M499.5 389v2M499.5 392v1M499.5 394v1M499.5 398v2M499.5 402v1M499.5 406v1M499.5 408v1M500.5 80v1M500.5 91v1M500.5 93v1M500.5 100v1M500.5 102v3M500.5 109v1M500.5 111v1M500.5 125v1M500.5 140v1M500.5 142v1M500.5 151v1M500.5 153v2M500.5 158v1M500.5 160v1M500.5 166v2M500.5 173v2M500.5 310v1M500.5 327v1M500.5 332v1M500.5 336v1M500.5 342v3M500.5 349v1M500.5 355v1M500.5 359v1M500.5 363v1M500.5 365v1M500.5 367v1M500.5 369v1M500.5 373v1M500.5 379v1M500.5 388v1M500.5 390v2M500.5 397v2M500.5 400v2M500.5 403v1M500.5 407v1M500.5 409v1M501.5 77v1M501.5 92v1M501.5 101v1M501.5 103v1M501.5 105v1M501.5 110v1M501.5 120v1M501.5 141v1M501.5 152v1M501.5 154v1M501.5 158v2M501.5 161v1M501.5 165v1M501.5 168v1M501.5 178v1M501.5 182v3M501.5 187v1M501.5 190v1M501.5 292v1M501.5 295v1M501.5 298v1M501.5 309v1M501.5 320v3M501.5 326v2M501.5 334v1M501.5 337v2M501.5 340v1M501.5 345v2M501.5 348v1M501.5 353v1M501.5 359v1M501.5 364v1M501.5 368v1M501.5 372v1M501.5 374v1M501.5 378v1M501.5 380v1M501.5 389v1M501.5 394v1M501.5 399v1M501.5 402v1M501.5 408v1M502.5 76v1M502.5 78v1M502.5 104v1M502.5 119v1M502.5 121v1M502.5 155v1M502.5 157v1M502.5 160v1M502.5 171v1M502.5 177v1M502.5 179v1M502.5 181v2M502.5 184v2M502.5 189v1M502.5 272v1M502.5 279v1M502.5 281v1M502.5 283v1M502.5 289v1M502.5 291v1M502.5 293v1M502.5 297v1M502.5 306v1M502.5 312v1M502.5 318v2M502.5 321v1M502.5 326v1M502.5 328v1M502.5 332v1M502.5 335v1M502.5 339v1M502.5 352v1M502.5 357v2M502.5 372v1M502.5 374v1M502.5 379v1M502.5 395v1M503.5 77v1M503.5 120v1M503.5 180v1M503.5 183v1M503.5 186v1M503.5 188v1M503.5 193v1M503.5 195v1M503.5 199v1M503.5 202v1M503.5 213v3M503.5 257v1M503.5 263v4M503.5 270v1M503.5 276v1M503.5 287v1M503.5 290v1M503.5 294v1M503.5 296v1M503.5 304v2M503.5 313v1M503.5 320v1M503.5 327v1M503.5 333v2M503.5 373v1M532.5 186v1M532.5 190v1M532.5 196v3M532.5 201v1M532.5 206v4M532.5 211v2M532.5 284v1M532.5 307v1M532.5 312v2M532.5 318v1M532.5 325v1M532.5 327v2M532.5 330v1M532.5 333v1M532.5 335v1M532.5 340v1M532.5 342v1M532.5 345v2M532.5 350v1M532.5 359v2M532.5 376v1M532.5 395v1M533.5 151v1M533.5 173v1M533.5 183v1M533.5 185v1M533.5 187v3M533.5 191v1M533.5 194v2M533.5 199v1M533.5 202v1M533.5 336v1M533.5 338v1M533.5 348v2M533.5 361v1M533.5 363v1M533.5 366v1M533.5 368v1M533.5 375v1M533.5 377v1M533.5 394v1M533.5 396v1M533.5 401v1M534.5 139v1M534.5 142v1M534.5 150v1M534.5 152v1M534.5 159v2M534.5 172v1M534.5 174v1M534.5 181v2M534.5 184v1M534.5 186v2M534.5 189v3M534.5 193v1M534.5 195v1M534.5 202v1M534.5 349v1M534.5 360v1M534.5 362v1M534.5 365v1M534.5 369v1M534.5 371v1M534.5 376v1M534.5 391v1M534.5 395v1M534.5 400v1M534.5 402v1M535.5 138v1M535.5 140v2M535.5 143v1M535.5 148v1M535.5 151v1M535.5 158v1M535.5 161v1M535.5 173v1M535.5 179v2M535.5 182v2M535.5 187v1M535.5 189v2M535.5 192v3M535.5 199v3M535.5 339v1M535.5 357v1M535.5 359v1M535.5 361v1M535.5 366v1M535.5 368v3M535.5 372v1M535.5 380v1M535.5 390v1M535.5 401v1M536.5 131v1M536.5 139v1M536.5 142v1M536.5 147v1M536.5 149v1M536.5 159v2M536.5 166v1M536.5 178v1M536.5 180v2M536.5 188v1M536.5 191v2M536.5 194v2M536.5 198v1M536.5 206v1M536.5 352v1M536.5 354v1M536.5 358v1M536.5 362v1M536.5 366v1M536.5 368v1M536.5 370v2M536.5 379v1M536.5 381v1M536.5 389v1M536.5 393v1M537.5 116v1M537.5 130v1M537.5 132v1M537.5 145v1M537.5 148v1M537.5 165v1M537.5 167v1M537.5 171v2M537.5 175v1M537.5 178v1M537.5 188v1M537.5 193v2M537.5 196v2M537.5 209v1M537.5 330v3M537.5 337v1M537.5 339v1M537.5 343v1M537.5 348v1M537.5 353v2M537.5 357v1M537.5 360v2M537.5 365v1M537.5 369v2M537.5 374v2M537.5 380v1M537.5 388v1M537.5 390v1M537.5 392v1M537.5 408v1M538.5 115v1M538.5 117v1M538.5 131v1M538.5 144v1M538.5 146v1M538.5 166v1M538.5 170v1M538.5 173v2M538.5 176v1M538.5 181v1M538.5 185v1M538.5 187v1M538.5 189v1M538.5 193v1M538.5 195v1M538.5 208v1M538.5 353v1M538.5 357v2M538.5 361v1M538.5 369v1M538.5 371v1M538.5 376v1M538.5 378v1M538.5 388v1M538.5 390v2M538.5 394v1M538.5 397v2M538.5 407v1M538.5 409v1M539.5 116v1M539.5 145v1M539.5 159v2M539.5 171v2M539.5 175v1M539.5 180v1M539.5 184v1M539.5 186v1M539.5 188v1M539.5 193v3M539.5 352v1M539.5 354v1M539.5 356v2M539.5 369v1M539.5 371v2M539.5 375v1M539.5 377v1M539.5 379v1M539.5 381v1M539.5 389v2M539.5 392v2M539.5 395v2M539.5 399v1M539.5 408v1M540.5 158v1M540.5 161v1M540.5 185v1M540.5 188v1M540.5 192v1M540.5 196v1M540.5 204v1M540.5 352v1M540.5 355v2M540.5 361v1M540.5 370v1M540.5 373v1M540.5 377v1M540.5 379v2M540.5 382v1M540.5 384v1M540.5 388v1M540.5 390v1M540.5 392v1M540.5 394v2M540.5 397v2M541.5 76v1M541.5 82v1M541.5 85v1M541.5 87v1M541.5 96v3M541.5 108v1M541.5 113v1M541.5 116v1M541.5 118v1M541.5 126v4M541.5 132v1M541.5 139v1M541.5 153v1M541.5 159v1M541.5 168v1M541.5 187v1M541.5 189v1M541.5 192v1M541.5 195v1M541.5 199v1M541.5 209v1M541.5 327v1M541.5 341v1M541.5 349v1M541.5 351v2M541.5 359v2M541.5 370v2M541.5 378v1M541.5 381v3M541.5 385v1M541.5 387v1M541.5 389v1M541.5 391v1M541.5 394v1M541.5 396v1M542.5 75v1M542.5 77v1M542.5 81v1M542.5 83v2M542.5 88v1M542.5 95v1M542.5 99v1M542.5 107v1M542.5 109v1M542.5 112v1M542.5 114v2M542.5 119v1M542.5 125v1M542.5 130v2M542.5 133v1M542.5 138v1M542.5 140v1M542.5 152v1M542.5 154v1M542.5 159v1M542.5 161v1M542.5 167v1M542.5 169v1M542.5 174v1M542.5 183v1M542.5 188v2M542.5 193v1M542.5 199v2M542.5 204v1M542.5 349v3M542.5 359v2M542.5 363v2M542.5 369v1M542.5 372v1M542.5 375v2M542.5 378v1M542.5 381v1M542.5 384v1M542.5 388v1M542.5 392v1M542.5 395v1M542.5 399v2M543.5 76v1M543.5 82v1M543.5 85v1M543.5 87v1M543.5 96v3M543.5 108v1M543.5 113v1M543.5 116v1M543.5 118v1M543.5 126v4M543.5 132v1M543.5 139v1M543.5 153v1M543.5 165v1M543.5 168v1M543.5 173v1M543.5 175v1M543.5 177v1M543.5 182v1M543.5 184v1M543.5 188v1M543.5 190v1M543.5 193v1M543.5 200v1M543.5 347v2M543.5 351v1M543.5 362v1M543.5 370v1M543.5 373v2M543.5 379v1M543.5 384v2M543.5 391v1M543.5 393v1M543.5 401v1M544.5 159v1M544.5 161v1M544.5 164v1M544.5 166v1M544.5 174v1M544.5 176v1M544.5 178v1M544.5 183v1M544.5 189v1M544.5 194v1M544.5 349v3M544.5 353v2M544.5 357v1M544.5 362v1M544.5 366v1M544.5 370v1M544.5 374v2M544.5 383v2M544.5 386v1M544.5 392v1M544.5 397v1M544.5 400v1M545.5 89v1M545.5 91v1M545.5 106v1M545.5 160v1M545.5 165v1M545.5 177v1M545.5 197v1M545.5 206v2M545.5 209v1M545.5 213v1M545.5 329v1M545.5 331v1M545.5 335v2M545.5 341v1M545.5 343v1M545.5 352v1M545.5 355v1M545.5 358v1M545.5 360v2M545.5 364v2M545.5 371v1M545.5 373v1M545.5 377v1M545.5 385v1M545.5 398v1M546.5 88v1M546.5 92v1M546.5 105v1M546.5 107v1M546.5 204v1M546.5 212v1M546.5 214v1M546.5 216v1M546.5 338v2M546.5 342v1M546.5 349v2M546.5 355v1M546.5 359v1M546.5 370v1M546.5 375v1M546.5 380v2M546.5 388v1M546.5 395v1M546.5 398v1M547.5 89v1M547.5 91v1M547.5 106v1M547.5 348v1M547.5 351v1M547.5 354v1M547.5 356v1M547.5 358v1M547.5 360v1M547.5 369v1M547.5 371v1M547.5 374v1M547.5 376v1M547.5 379v1M547.5 382v1M547.5 387v1M547.5 389v1M547.5 394v1M547.5 396v2M547.5 399v1M548.5 211v2M548.5 214v1M548.5 216v1M548.5 225v1M548.5 333v2M548.5 338v2M548.5 349v2M548.5 355v1M548.5 359v1M548.5 367v1M548.5 370v1M548.5 375v1M548.5 380v2M548.5 388v1M548.5 395v1M548.5 398v1M548.5 403v1M549.5 136v1M549.5 154v1M549.5 162v1M549.5 174v1M549.5 192v2M549.5 195v1M549.5 202v1M549.5 205v1M549.5 209v1M549.5 211v2M549.5 214v2M549.5 223v1M549.5 226v2M549.5 230v2M549.5 233v1M549.5 236v1M549.5 343v1M549.5 349v1M549.5 351v1M549.5 356v1M549.5 362v1M549.5 366v1M549.5 368v1M549.5 374v1M549.5 377v1M549.5 387v1M549.5 394v1M549.5 402v1M549.5 404v1M549.5 410v1M550.5 135v1M550.5 137v1M550.5 151v1M550.5 153v1M550.5 155v1M550.5 161v1M550.5 163v1M550.5 166v1M550.5 173v1M550.5 175v1M550.5 180v1M550.5 183v1M550.5 190v2M550.5 196v1M550.5 198v1M550.5 201v1M550.5 203v2M550.5 206v1M550.5 210v1M550.5 216v2M550.5 219v2M550.5 222v1M550.5 224v1M550.5 348v1M550.5 352v4M550.5 359v1M550.5 361v1M550.5 363v1M550.5 367v1M550.5 370v4M550.5 375v2M550.5 378v1M550.5 386v1M550.5 388v1M550.5 393v1M550.5 395v1M550.5 403v1M550.5 409v1M550.5 411v1M551.5 136v1M551.5 150v1M551.5 152v1M551.5 154v1M551.5 156v1M551.5 162v1M551.5 164v2M551.5 167v1M551.5 174v1M551.5 179v1M551.5 181v2M551.5 184v1M551.5 189v1M551.5 191v3M551.5 195v1M551.5 197v1M551.5 199v1M551.5 201v1M551.5 203v1M551.5 205v1M551.5 207v1M551.5 211v1M551.5 214v2M551.5 218v2M551.5 221v1M551.5 224v1M551.5 346v3M551.5 351v2M551.5 355v1M551.5 360v1M551.5 362v1M551.5 367v1M551.5 369v1M551.5 373v2M551.5 376v2M551.5 384v1M551.5 387v1M551.5 392v1M551.5 394v1M551.5 405v1M551.5 410v1M552.5 151v1M552.5 155v1M552.5 157v1M552.5 163v1M552.5 165v2M552.5 180v1M552.5 183v1M552.5 190v1M552.5 198v1M552.5 202v1M552.5 206v1M552.5 208v2M552.5 213v6M552.5 220v1M552.5 222v1M552.5 354v1M552.5 357v1M552.5 361v1M552.5 364v1M552.5 366v1M552.5 368v1M552.5 370v3M552.5 375v1M552.5 377v1M552.5 382v2M552.5 390v2M552.5 393v1M552.5 404v1M552.5 406v1M553.5 156v1M553.5 164v1M553.5 203v1M553.5 205v4M553.5 213v1M553.5 219v1M553.5 222v1M553.5 224v1M553.5 227v1M553.5 338v1M553.5 345v3M553.5 351v2M553.5 354v1M553.5 356v3M553.5 362v2M553.5 365v1M553.5 367v1M553.5 375v1M553.5 377v1M553.5 381v1M553.5 383v1M553.5 386v1M553.5 389v1M553.5 391v2M553.5 402v1M553.5 405v1M554.5 202v1M554.5 207v1M554.5 209v1M554.5 211v1M554.5 218v1M554.5 223v1M554.5 228v1M554.5 237v1M554.5 332v1M554.5 338v1M554.5 340v1M554.5 342v1M554.5 344v1M554.5 350v1M554.5 353v1M554.5 355v1M554.5 358v2M554.5 361v1M554.5 364v1M554.5 376v1M554.5 382v1M554.5 385v1M554.5 390v1M554.5 401v1M554.5 403v1M555.5 203v1M555.5 205v2M555.5 215v2M555.5 231v3M555.5 235v1M555.5 239v1M555.5 253v1M555.5 259v1M555.5 276v1M555.5 290v2M555.5 294v1M555.5 296v1M555.5 305v1M555.5 323v1M555.5 331v1M555.5 335v1M555.5 339v1M555.5 343v1M555.5 356v2M555.5 402v1"/><path stroke="#e9f1f8" d="M103.5 219v1M103.5 222v1M103.5 227v1M103.5 234v1M103.5 240v2M103.5 243v1M103.5 256v1M104.5 200v1M104.5 207v1M104.5 213v1M104.5 217v1M104.5 230v1M104.5 238v2M104.5 251v1M104.5 253v1M104.5 257v2M104.5 260v1M104.5 268v1M105.5 206v1M105.5 208v1M105.5 249v1M105.5 252v1M105.5 255v3M105.5 261v1M105.5 269v1M105.5 277v1M106.5 207v1M106.5 215v1M106.5 219v1M106.5 225v1M106.5 229v1M106.5 240v2M106.5 258v1M177.5 175v1M204.5 224v1M204.5 227v1M204.5 229v1M204.5 234v1M204.5 236v2M204.5 239v1M204.5 248v1M204.5 277v1M205.5 192v1M205.5 205v2M205.5 210v1M205.5 212v1M205.5 246v1M205.5 264v1M205.5 276v1M205.5 278v1M205.5 280v1M206.5 186v1M206.5 197v1M206.5 208v1M206.5 271v1M206.5 277v1M206.5 279v1M206.5 281v1M207.5 162v1M207.5 185v1M207.5 188v1M207.5 194v1M207.5 198v1M207.5 269v2M207.5 279v1M207.5 281v1M208.5 172v1M208.5 188v1M208.5 193v1M208.5 201v1M208.5 265v1M208.5 268v1M208.5 272v2M208.5 280v1M208.5 282v1M208.5 287v1M209.5 194v1M209.5 202v1M209.5 209v1M209.5 264v1M209.5 269v1M209.5 276v1M209.5 281v1M209.5 315v1M210.5 186v1M210.5 188v1M210.5 193v1M210.5 274v1M210.5 278v1M210.5 314v1M210.5 322v1M210.5 324v1M210.5 346v1M210.5 357v1M210.5 360v1M210.5 367v1M210.5 372v1M210.5 389v1M211.5 194v2M211.5 201v1M211.5 268v1M211.5 276v1M211.5 303v1M211.5 310v1M211.5 315v1M211.5 321v1M212.5 181v1M212.5 196v1M212.5 199v1M212.5 203v3M212.5 269v2M212.5 278v1M213.5 180v1M213.5 194v1M213.5 200v1M213.5 202v1M213.5 205v2M213.5 263v1M213.5 268v1M213.5 270v1M213.5 273v1M213.5 290v1M213.5 321v1M214.5 195v1M214.5 203v1M215.5 211v1M215.5 263v1M215.5 271v1M215.5 279v1M215.5 282v2M215.5 290v1M216.5 168v1M216.5 174v1M216.5 191v2M216.5 280v1M216.5 288v1M217.5 173v1M217.5 187v1M217.5 190v1M217.5 286v1M217.5 304v1M217.5 329v1M218.5 171v1M218.5 189v1M218.5 281v1M218.5 290v2M219.5 162v1M219.5 185v1M219.5 291v2M219.5 294v1M220.5 156v1M220.5 161v1M220.5 171v1M220.5 181v1M220.5 184v1M220.5 295v2M221.5 191v2M221.5 194v1M221.5 291v1M221.5 297v1M222.5 152v1M222.5 198v1M222.5 200v3M222.5 206v2M222.5 209v2M222.5 213v1M222.5 215v2M222.5 219v1M222.5 223v1M222.5 226v1M222.5 229v1M222.5 232v1M222.5 235v1M222.5 241v1M222.5 243v1M222.5 252v1M222.5 254v1M222.5 257v1M222.5 260v2M222.5 265v2M222.5 273v1M222.5 275v1M222.5 279v1M223.5 151v1M223.5 199v1M223.5 207v1M223.5 283v1M224.5 152v1M224.5 158v1M224.5 256v1M224.5 280v1M224.5 284v1M251.5 190v1M251.5 243v1M252.5 139v1M252.5 141v1M252.5 179v1M252.5 189v1M252.5 191v1M252.5 194v1M252.5 196v1M252.5 198v1M252.5 203v1M252.5 212v1M252.5 216v1M252.5 221v1M252.5 226v2M252.5 233v1M252.5 242v1M252.5 251v1M252.5 255v2M253.5 190v1M253.5 210v1M253.5 222v2M253.5 250v1M253.5 257v1M254.5 209v1M254.5 212v1M254.5 214v1M254.5 217v1M254.5 246v1M254.5 255v2M254.5 259v1M255.5 210v1M255.5 250v1M256.5 204v1M256.5 210v1M256.5 260v1M257.5 205v1M257.5 209v1M257.5 217v1M257.5 219v1M257.5 229v3M257.5 236v2M257.5 251v1M257.5 253v2M257.5 259v1M258.5 233v2M258.5 245v1M258.5 250v1M261.5 199v1M261.5 204v1M261.5 225v1M261.5 248v1M261.5 290v1M262.5 207v1M262.5 215v1M262.5 224v1M262.5 249v1M262.5 258v1M262.5 262v1M262.5 291v1M263.5 204v1M263.5 216v1M263.5 225v1M263.5 237v1M263.5 248v1M263.5 260v1M263.5 289v2M264.5 216v1M264.5 218v1M264.5 220v1M264.5 227v1M264.5 231v1M264.5 235v2M264.5 238v1M264.5 245v1M264.5 251v1M264.5 255v1M264.5 261v1M265.5 207v1M265.5 241v1M265.5 262v1M265.5 274v1M266.5 177v1M266.5 198v3M266.5 204v1M266.5 206v1M266.5 209v2M266.5 218v1M266.5 222v1M266.5 263v1M266.5 267v2M266.5 270v1M266.5 273v1M267.5 187v1M267.5 196v1M267.5 205v1M267.5 210v1M267.5 265v1M267.5 269v1M267.5 276v1M267.5 278v1M267.5 280v1M268.5 196v1M268.5 264v2M268.5 275v1M268.5 277v1M269.5 186v1M269.5 191v1M269.5 199v1M269.5 267v1M269.5 271v1M269.5 278v1M269.5 282v1M270.5 185v1M270.5 187v1M270.5 189v1M270.5 197v1M270.5 199v1M270.5 265v1M270.5 281v1M271.5 185v1M271.5 188v1M271.5 194v1M271.5 273v1M271.5 281v1M272.5 185v1M272.5 189v2M272.5 267v1M272.5 280v1M273.5 202v2M273.5 205v1M273.5 213v1M273.5 219v3M273.5 224v1M273.5 235v1M273.5 242v3M273.5 252v1M273.5 257v1M295.5 326v1M296.5 296v1M296.5 298v1M296.5 300v1M296.5 307v1M296.5 312v1M296.5 323v1M296.5 334v1M297.5 326v1M298.5 225v1M298.5 231v1M298.5 249v1M298.5 251v1M298.5 265v1M299.5 183v1M299.5 185v1M299.5 190v1M299.5 254v1M299.5 262v1M299.5 266v1M300.5 182v1M300.5 184v2M300.5 191v1M300.5 197v1M300.5 206v2M300.5 209v1M300.5 265v1M300.5 284v1M301.5 176v1M301.5 184v1M301.5 188v1M301.5 193v1M301.5 200v1M301.5 206v1M301.5 209v1M301.5 271v1M301.5 277v1M302.5 175v1M302.5 177v1M302.5 196v2M302.5 270v1M302.5 272v1M302.5 278v1M302.5 280v1M303.5 176v1M303.5 182v1M303.5 193v1M303.5 198v1M303.5 273v1M303.5 277v1M303.5 280v1M304.5 187v1M304.5 194v1M304.5 196v1M304.5 270v1M304.5 272v1M304.5 275v1M304.5 279v1M304.5 281v1M305.5 191v1M305.5 201v1M305.5 264v1M305.5 266v1M305.5 276v1M305.5 280v1M306.5 198v1M306.5 205v1M306.5 262v1M306.5 267v1M307.5 197v1M307.5 211v1M307.5 271v1M308.5 131v1M308.5 177v1M308.5 179v1M308.5 193v1M308.5 212v1M308.5 261v2M308.5 267v1M308.5 270v1M308.5 273v1M308.5 306v1M309.5 178v1M309.5 194v1M309.5 197v1M309.5 202v1M309.5 212v1M309.5 268v1M309.5 270v1M309.5 305v1M309.5 307v1M310.5 205v2M310.5 266v1M310.5 268v1M310.5 270v2M310.5 274v1M310.5 276v1M310.5 306v1M311.5 132v1M311.5 198v1M311.5 201v2M311.5 278v1M312.5 131v1M312.5 188v1M312.5 197v1M312.5 199v2M312.5 209v1M312.5 264v1M312.5 279v1M312.5 287v1M313.5 187v1M313.5 193v1M313.5 195v1M313.5 198v1M313.5 204v1M313.5 210v1M313.5 212v1M313.5 262v2M313.5 268v2M313.5 278v1M313.5 286v1M313.5 288v1M314.5 174v1M314.5 188v1M314.5 194v1M314.5 198v1M314.5 200v1M314.5 208v1M314.5 264v2M314.5 275v1M314.5 287v1M314.5 306v1M314.5 333v1M315.5 177v1M315.5 198v1M315.5 261v3M315.5 268v2M315.5 274v1M315.5 279v1M315.5 291v1M315.5 332v1M315.5 334v1M316.5 191v1M316.5 197v1M316.5 274v1M316.5 277v1M316.5 280v1M316.5 292v1M316.5 333v1M317.5 198v2M317.5 269v1M317.5 273v1M317.5 275v2M317.5 279v1M318.5 193v1M318.5 206v3M318.5 210v2M318.5 213v1M318.5 220v1M318.5 249v2M318.5 259v1M318.5 261v1M318.5 263v1M318.5 266v1M318.5 274v1M342.5 360v1M342.5 373v1M342.5 401v1M344.5 223v2M344.5 229v1M344.5 245v1M345.5 218v1M345.5 251v1M346.5 215v1M346.5 252v1M346.5 255v1M347.5 214v1M347.5 216v1M347.5 250v1M347.5 257v1M347.5 259v1M348.5 215v1M348.5 217v1M348.5 253v1M349.5 220v2M349.5 224v4M349.5 229v1M349.5 236v1M349.5 239v1M349.5 242v1M349.5 244v1M349.5 254v1M391.5 365v1M391.5 367v1M391.5 370v1M391.5 375v1M391.5 397v2M391.5 407v1M392.5 396v1M393.5 371v1M393.5 379v1M393.5 397v2M393.5 407v1M439.5 177v3M439.5 195v1M439.5 197v1M439.5 201v1M439.5 203v1M439.5 224v1M439.5 235v1M439.5 252v2M439.5 275v1M439.5 282v1M439.5 284v3M439.5 288v1M439.5 293v2M439.5 299v1M439.5 316v1M439.5 325v1M440.5 90v1M440.5 97v1M440.5 109v1M440.5 153v1M440.5 168v1M440.5 174v1M440.5 176v1M440.5 183v2M440.5 187v1M440.5 300v1M440.5 303v1M440.5 305v1M440.5 308v2M440.5 312v1M440.5 315v1M440.5 320v1M440.5 324v1M440.5 336v1M440.5 340v1M440.5 342v1M440.5 357v1M441.5 81v1M441.5 91v1M441.5 96v1M441.5 142v1M441.5 149v1M441.5 157v1M441.5 162v1M441.5 166v1M441.5 173v1M441.5 175v1M441.5 302v1M441.5 313v1M441.5 322v1M441.5 338v2M441.5 346v1M441.5 355v1M441.5 400v1M442.5 82v1M442.5 86v1M442.5 88v1M442.5 90v1M442.5 97v1M442.5 109v1M442.5 124v1M442.5 145v1M442.5 148v1M442.5 150v1M442.5 157v1M442.5 163v1M442.5 168v1M442.5 170v1M442.5 172v1M442.5 184v1M442.5 344v1M442.5 401v1M443.5 76v1M443.5 116v1M443.5 138v1M443.5 144v1M443.5 154v1M443.5 156v1M443.5 158v1M443.5 163v1M443.5 166v1M443.5 171v1M443.5 175v1M443.5 311v1M443.5 329v2M443.5 337v1M443.5 343v1M443.5 355v1M443.5 399v1M444.5 117v1M444.5 145v1M444.5 161v1M444.5 186v1M444.5 188v1M444.5 281v1M444.5 284v1M444.5 287v3M444.5 292v1M444.5 294v1M444.5 306v1M444.5 313v1M444.5 315v2M444.5 321v1M444.5 328v1M444.5 340v1M444.5 398v1M446.5 184v1M446.5 187v1M446.5 194v1M446.5 197v4M446.5 203v1M446.5 205v1M446.5 244v1M446.5 256v1M446.5 265v1M446.5 271v1M446.5 288v2M446.5 294v1M446.5 296v1M446.5 299v1M446.5 309v1M446.5 319v1M447.5 164v1M447.5 168v1M447.5 176v1M447.5 178v1M447.5 283v1M447.5 308v1M447.5 318v1M447.5 322v1M447.5 348v2M447.5 351v1M447.5 402v1M448.5 121v1M448.5 127v1M448.5 148v1M448.5 154v1M448.5 157v1M448.5 167v1M448.5 170v1M448.5 302v1M448.5 323v1M448.5 326v2M448.5 330v1M448.5 333v1M448.5 336v1M448.5 341v1M448.5 403v1M449.5 110v1M449.5 116v1M449.5 122v2M449.5 126v1M449.5 128v1M449.5 134v1M449.5 136v1M449.5 140v2M449.5 149v1M449.5 152v1M449.5 310v1M449.5 328v1M449.5 338v1M449.5 342v2M449.5 381v1M450.5 76v1M450.5 97v1M450.5 116v1M450.5 118v1M450.5 127v1M450.5 133v1M450.5 139v1M450.5 155v1M450.5 157v1M450.5 166v1M450.5 345v1M450.5 347v1M450.5 354v1M450.5 360v1M450.5 369v1M450.5 380v1M451.5 75v1M451.5 90v1M451.5 98v1M451.5 117v1M451.5 120v1M451.5 123v1M451.5 127v1M451.5 129v2M451.5 132v1M451.5 140v1M451.5 150v1M451.5 152v1M451.5 156v1M451.5 158v1M451.5 333v1M451.5 354v1M451.5 356v1M451.5 361v1M451.5 376v1M451.5 404v1M452.5 89v1M452.5 131v1M452.5 142v1M452.5 155v1M452.5 159v1M452.5 166v1M452.5 168v1M452.5 170v1M452.5 175v1M452.5 180v1M452.5 311v1M452.5 315v1M452.5 318v1M452.5 327v1M452.5 349v1M452.5 356v1M452.5 358v1M452.5 360v1M452.5 367v1M452.5 375v1M452.5 403v1M453.5 130v1M453.5 133v1M453.5 141v1M453.5 151v1M453.5 154v1M453.5 156v1M453.5 158v1M453.5 162v1M453.5 165v1M453.5 168v1M453.5 171v1M453.5 180v2M453.5 323v1M453.5 338v1M453.5 348v1M453.5 350v1M453.5 357v1M453.5 364v1M453.5 370v2M453.5 374v1M453.5 382v1M454.5 126v1M454.5 137v1M454.5 145v1M454.5 148v1M454.5 150v1M454.5 153v1M454.5 159v2M454.5 162v1M454.5 164v1M454.5 174v1M454.5 315v1M454.5 317v2M454.5 335v3M454.5 339v1M454.5 342v1M454.5 345v1M454.5 347v1M454.5 351v1M454.5 363v1M454.5 365v1M454.5 367v1M454.5 369v1M454.5 372v1M454.5 375v1M454.5 385v1M455.5 138v1M455.5 141v1M455.5 143v1M455.5 147v1M455.5 149v1M455.5 151v1M455.5 158v1M455.5 168v1M455.5 173v1M455.5 178v1M455.5 313v1M455.5 315v1M455.5 334v1M455.5 338v1M455.5 344v1M455.5 346v1M455.5 352v1M455.5 354v1M455.5 371v1M455.5 386v1M456.5 171v1M456.5 181v2M456.5 187v1M456.5 189v1M456.5 268v1M456.5 272v2M456.5 277v1M456.5 279v3M456.5 286v1M456.5 288v1M456.5 292v1M456.5 299v1M456.5 301v1M456.5 303v1M456.5 309v2M456.5 312v1M456.5 316v1M456.5 321v1M486.5 216v1M486.5 226v1M486.5 229v1M486.5 249v1M486.5 254v1M487.5 188v1M487.5 191v1M487.5 196v2M487.5 199v1M487.5 202v1M487.5 206v2M487.5 218v1M487.5 271v1M487.5 273v1M487.5 279v1M487.5 296v1M488.5 111v1M488.5 134v1M488.5 177v1M488.5 179v2M488.5 284v1M488.5 290v1M488.5 301v1M488.5 313v1M488.5 326v1M488.5 328v1M488.5 360v1M488.5 363v1M489.5 95v1M489.5 112v1M489.5 133v1M489.5 169v2M489.5 176v1M489.5 297v1M489.5 306v1M489.5 309v1M489.5 317v2M489.5 321v1M489.5 325v1M489.5 329v1M489.5 332v1M489.5 350v1M489.5 359v1M489.5 362v1M489.5 364v1M489.5 381v1M489.5 390v1M490.5 96v1M490.5 144v1M490.5 167v1M490.5 175v1M490.5 331v1M490.5 340v1M490.5 345v1M490.5 359v1M490.5 361v1M490.5 363v1M490.5 380v1M490.5 382v1M490.5 389v1M490.5 400v1M490.5 402v1M491.5 105v1M491.5 118v1M491.5 124v1M491.5 134v1M491.5 140v1M491.5 143v1M491.5 149v1M491.5 153v1M491.5 158v1M491.5 162v1M491.5 166v1M491.5 322v1M491.5 330v1M491.5 332v1M491.5 334v1M491.5 355v1M491.5 371v1M491.5 377v1M491.5 389v1M491.5 391v1M492.5 104v1M492.5 106v1M492.5 117v1M492.5 119v1M492.5 128v1M492.5 150v1M492.5 157v1M492.5 161v1M492.5 163v1M492.5 173v1M492.5 332v1M492.5 334v1M492.5 338v1M492.5 344v2M492.5 349v1M492.5 352v2M492.5 356v1M492.5 358v1M492.5 371v1M492.5 373v1M492.5 380v1M492.5 388v1M492.5 393v1M492.5 399v1M492.5 408v1M493.5 127v1M493.5 137v1M493.5 151v1M493.5 154v1M493.5 163v1M493.5 170v2M493.5 177v1M493.5 188v1M493.5 305v1M493.5 307v1M493.5 321v1M493.5 325v1M493.5 327v1M493.5 339v1M493.5 343v1M493.5 350v1M493.5 357v1M493.5 367v1M493.5 372v1M493.5 381v1M493.5 394v1M493.5 398v1M494.5 82v1M494.5 108v1M494.5 136v1M494.5 161v1M494.5 166v1M494.5 172v1M494.5 175v2M494.5 322v1M494.5 326v1M494.5 328v1M494.5 331v1M494.5 335v1M494.5 340v1M494.5 349v1M494.5 366v1M494.5 368v1M494.5 388v1M494.5 391v1M494.5 395v1M495.5 83v1M495.5 87v1M495.5 109v1M495.5 147v1M495.5 164v1M495.5 170v1M495.5 174v1M495.5 176v1M495.5 178v1M495.5 294v1M495.5 319v1M495.5 321v1M495.5 323v1M495.5 334v1M495.5 338v1M495.5 356v1M495.5 358v1M495.5 360v1M495.5 367v1M495.5 394v1M496.5 131v1M496.5 146v1M496.5 148v1M496.5 170v2M496.5 175v1M496.5 180v1M496.5 183v2M496.5 186v1M496.5 310v1M496.5 315v1M496.5 319v1M496.5 328v1M496.5 337v1M496.5 359v1M496.5 366v1M496.5 394v1M496.5 396v1M497.5 99v1M497.5 166v1M497.5 169v1M497.5 177v1M497.5 182v1M497.5 303v1M497.5 310v1M497.5 318v2M497.5 321v1M497.5 326v2M497.5 336v1M497.5 345v1M497.5 367v1M497.5 381v1M497.5 397v1M498.5 81v1M498.5 98v1M498.5 100v1M498.5 138v1M498.5 146v1M498.5 164v2M498.5 172v1M498.5 181v1M498.5 320v1M498.5 324v1M498.5 335v1M498.5 337v2M498.5 350v1M498.5 366v1M498.5 381v1M498.5 383v1M499.5 99v1M499.5 122v1M499.5 155v1M499.5 163v1M499.5 166v1M499.5 168v1M499.5 170v1M499.5 172v1M499.5 178v1M499.5 180v1M499.5 310v1M499.5 322v1M499.5 324v2M499.5 335v1M499.5 345v1M499.5 349v1M499.5 382v1M499.5 396v1M500.5 121v1M500.5 123v1M500.5 147v1M500.5 156v1M500.5 169v1M500.5 175v1M500.5 320v1M500.5 340v1M500.5 347v1M501.5 122v1M501.5 146v1M501.5 148v1M501.5 156v1M501.5 164v1M501.5 170v1M501.5 172v1M501.5 176v1M501.5 185v1M501.5 286v1M501.5 299v1M501.5 301v2M501.5 306v1M501.5 308v1M501.5 313v1M501.5 319v1M501.5 324v1M501.5 333v1M501.5 356v1M501.5 396v1M502.5 147v1M502.5 163v1M502.5 165v1M502.5 187v1M502.5 192v1M502.5 271v1M502.5 288v1M502.5 295v1M502.5 303v1M502.5 314v1M503.5 164v1M503.5 197v1M503.5 208v2M503.5 218v3M503.5 224v1M503.5 249v1M503.5 267v1M503.5 269v1M503.5 285v1M532.5 213v1M532.5 215v2M532.5 220v1M532.5 241v1M532.5 261v1M532.5 268v1M532.5 271v1M532.5 280v1M532.5 311v1M532.5 314v1M532.5 317v1M532.5 321v2M532.5 329v1M532.5 343v1M532.5 351v1M533.5 200v1M533.5 204v2M533.5 331v2M533.5 337v1M533.5 339v1M533.5 347v1M533.5 356v1M534.5 196v1M534.5 199v1M534.5 201v1M534.5 203v1M534.5 350v1M534.5 355v1M534.5 364v1M534.5 367v1M535.5 196v1M535.5 203v3M535.5 340v1M535.5 354v2M535.5 358v1M535.5 363v1M535.5 365v1M535.5 392v1M536.5 197v1M536.5 204v1M536.5 207v1M536.5 337v1M536.5 339v1M536.5 348v1M536.5 353v1M536.5 357v1M536.5 360v1M536.5 364v1M536.5 391v1M537.5 180v1M537.5 200v2M537.5 203v4M537.5 208v1M537.5 328v1M537.5 340v1M537.5 346v1M537.5 349v2M537.5 355v1M537.5 359v1M538.5 179v1M538.5 196v1M538.5 198v2M538.5 206v1M538.5 209v1M538.5 332v1M538.5 342v1M538.5 344v1M538.5 347v1M538.5 352v1M538.5 355v1M538.5 373v1M539.5 199v2M539.5 206v1M539.5 342v2M539.5 347v1M539.5 349v1M539.5 359v2M539.5 374v1M540.5 194v1M540.5 197v1M540.5 200v1M540.5 349v2M540.5 358v1M541.5 142v1M541.5 160v1M541.5 198v1M541.5 204v1M541.5 331v1M541.5 339v2M541.5 345v1M541.5 354v1M541.5 356v2M542.5 86v1M542.5 117v1M542.5 141v1M542.5 143v1M542.5 194v1M542.5 196v1M542.5 205v1M542.5 339v1M542.5 348v1M542.5 353v1M542.5 358v1M542.5 383v1M543.5 142v1M543.5 160v1M543.5 171v1M543.5 352v1M543.5 354v1M543.5 361v1M543.5 365v1M543.5 371v1M543.5 382v1M543.5 398v1M544.5 170v1M544.5 172v1M544.5 344v1M544.5 356v1M544.5 363v1M544.5 372v1M544.5 376v1M544.5 378v1M544.5 399v1M545.5 171v1M545.5 198v1M545.5 203v1M545.5 208v1M545.5 210v1M545.5 212v1M545.5 214v2M545.5 220v1M545.5 330v1M545.5 334v1M545.5 337v1M545.5 339v1M546.5 90v1M546.5 225v1M546.5 329v4M546.5 337v1M546.5 340v2M546.5 343v1M547.5 207v1M547.5 333v1M547.5 336v1M547.5 344v1M548.5 217v1M548.5 224v1M548.5 236v2M548.5 330v1M548.5 332v1M548.5 336v1M548.5 341v3M549.5 144v1M549.5 218v1M549.5 222v1M549.5 229v1M549.5 350v1M550.5 143v1M550.5 145v1M550.5 194v1M550.5 213v1M550.5 225v1M550.5 343v2M550.5 357v1M551.5 144v1M551.5 212v1M551.5 223v1M551.5 356v1M551.5 358v1M552.5 211v1M552.5 348v1M552.5 350v1M552.5 353v1M552.5 359v1M552.5 385v1M553.5 210v1M553.5 212v1M553.5 225v1M553.5 337v1M553.5 340v1M553.5 342v1M553.5 349v1M553.5 360v1M553.5 384v1M554.5 204v1M554.5 214v1M554.5 217v1M554.5 230v1M554.5 236v1M555.5 240v1M555.5 247v1M555.5 252v1M555.5 255v1M555.5 261v1M555.5 263v1M555.5 266v1M555.5 275v1M555.5 284v1M555.5 293v1M555.5 297v1M555.5 308v1M555.5 310v2M555.5 313v3M555.5 317v1M555.5 322v1M555.5 325v3M555.5 330v1M555.5 334v1"/><path stroke="#ddebf4" d="M103.5 215v1M103.5 220v1M103.5 224v3M104.5 218v1M104.5 245v1M104.5 270v1M105.5 236v1M105.5 239v1M105.5 259v1M106.5 220v1M106.5 224v1M106.5 227v2M106.5 234v1M204.5 220v1M204.5 222v1M204.5 240v1M204.5 249v1M204.5 259v2M205.5 213v1M205.5 216v1M205.5 218v1M205.5 247v1M205.5 262v1M205.5 266v1M206.5 190v1M206.5 193v1M206.5 209v1M207.5 187v1M207.5 191v1M207.5 202v1M207.5 274v1M208.5 186v1M208.5 200v1M208.5 203v1M208.5 246v1M208.5 264v1M208.5 267v1M209.5 187v1M209.5 205v1M209.5 208v1M209.5 266v1M209.5 271v1M210.5 205v1M210.5 268v1M211.5 180v1M211.5 271v1M211.5 273v1M211.5 275v1M211.5 277v1M212.5 179v1M212.5 272v1M213.5 197v1M213.5 264v1M214.5 196v1M214.5 199v1M214.5 204v1M214.5 206v1M214.5 208v1M214.5 264v1M215.5 196v1M215.5 203v1M215.5 208v1M215.5 212v1M215.5 260v1M215.5 262v1M215.5 269v1M215.5 272v2M215.5 275v1M215.5 277v1M216.5 281v1M216.5 291v1M217.5 280v1M217.5 287v1M217.5 289v1M217.5 292v1M218.5 280v1M219.5 170v1M219.5 282v1M220.5 175v1M220.5 189v1M220.5 290v1M221.5 196v1M221.5 292v1M221.5 294v1M222.5 199v1M222.5 211v1M222.5 217v1M222.5 221v1M222.5 228v1M222.5 230v2M222.5 234v1M222.5 238v1M222.5 240v1M222.5 245v1M222.5 247v1M222.5 255v1M222.5 259v1M222.5 262v1M222.5 264v1M222.5 270v2M222.5 276v1M222.5 284v1M222.5 286v1M223.5 159v1M223.5 255v1M223.5 285v1M251.5 247v1M252.5 218v1M252.5 229v1M252.5 234v1M252.5 238v1M252.5 241v1M252.5 244v1M253.5 211v1M253.5 215v1M253.5 224v1M253.5 236v2M253.5 239v1M253.5 246v1M254.5 218v1M254.5 236v1M254.5 239v1M254.5 245v1M254.5 250v1M255.5 205v1M255.5 217v2M255.5 226v1M255.5 242v2M255.5 247v1M256.5 206v1M256.5 255v1M256.5 257v1M257.5 218v1M257.5 235v1M257.5 243v1M257.5 252v1M261.5 198v1M261.5 222v1M262.5 197v1M262.5 205v1M262.5 221v1M262.5 223v1M262.5 247v1M263.5 199v1M263.5 222v1M264.5 211v1M264.5 215v1M265.5 221v1M265.5 234v1M265.5 250v1M265.5 252v1M266.5 202v1M266.5 223v1M266.5 275v1M267.5 194v1M267.5 197v1M267.5 263v1M267.5 274v1M268.5 198v1M268.5 260v1M268.5 263v1M268.5 267v1M268.5 269v1M268.5 279v1M268.5 281v1M269.5 194v1M269.5 232v1M269.5 266v1M269.5 270v1M269.5 280v1M270.5 190v1M270.5 272v1M271.5 191v1M272.5 197v1M272.5 199v1M272.5 209v1M273.5 210v1M273.5 247v2M273.5 255v1M273.5 258v1M273.5 265v1M296.5 325v1M298.5 220v1M298.5 228v1M298.5 230v1M298.5 239v1M298.5 250v1M299.5 194v1M299.5 205v1M299.5 208v1M299.5 255v1M299.5 257v1M299.5 264v1M300.5 187v1M300.5 189v1M300.5 193v1M300.5 199v1M300.5 210v1M300.5 260v2M300.5 263v1M301.5 186v1M301.5 190v1M301.5 195v1M301.5 211v1M301.5 251v1M301.5 266v1M301.5 275v1M302.5 183v1M302.5 262v1M302.5 264v1M303.5 186v1M303.5 209v1M303.5 271v1M303.5 275v1M304.5 183v1M304.5 185v1M304.5 198v1M304.5 202v1M304.5 269v1M305.5 199v1M305.5 203v1M305.5 212v1M305.5 261v2M305.5 268v1M305.5 271v1M306.5 263v1M306.5 265v1M307.5 207v1M307.5 266v1M308.5 198v1M308.5 215v1M308.5 263v1M308.5 265v1M309.5 214v1M310.5 207v2M310.5 212v1M310.5 273v1M311.5 206v1M311.5 212v1M312.5 202v1M312.5 212v1M312.5 263v1M312.5 267v1M312.5 270v1M313.5 208v1M313.5 267v1M314.5 176v1M314.5 192v1M314.5 196v1M314.5 204v1M314.5 260v1M315.5 175v1M315.5 187v1M315.5 189v1M315.5 194v1M315.5 201v1M315.5 208v2M315.5 260v1M315.5 265v1M315.5 267v1M315.5 276v1M316.5 263v1M316.5 275v1M317.5 189v1M317.5 192v1M317.5 194v1M317.5 203v1M317.5 264v1M318.5 215v2M345.5 217v1M345.5 249v1M345.5 259v1M346.5 216v1M346.5 258v1M347.5 249v1M347.5 254v1M348.5 255v1M349.5 230v2M349.5 240v1M391.5 373v1M391.5 379v1M392.5 374v1M392.5 380v1M392.5 401v1M393.5 372v1M393.5 400v1M393.5 408v1M439.5 189v1M439.5 196v1M439.5 208v1M439.5 210v1M439.5 223v1M439.5 245v1M439.5 248v2M439.5 256v1M439.5 262v1M439.5 269v1M439.5 279v2M439.5 287v1M439.5 291v1M440.5 158v1M440.5 193v1M440.5 317v1M441.5 87v1M441.5 108v1M441.5 110v1M441.5 123v1M441.5 140v1M441.5 143v1M441.5 152v1M441.5 159v1M441.5 169v1M441.5 177v1M441.5 304v1M441.5 315v1M441.5 321v1M441.5 341v1M442.5 100v1M442.5 102v1M442.5 117v1M442.5 122v1M442.5 144v1M442.5 153v1M442.5 155v1M442.5 164v1M442.5 173v1M442.5 183v1M442.5 185v1M442.5 398v1M443.5 101v1M443.5 143v1M443.5 182v1M443.5 309v1M443.5 319v1M443.5 339v1M443.5 341v1M443.5 397v1M444.5 179v1M444.5 187v1M444.5 189v1M444.5 290v1M444.5 301v1M444.5 304v2M446.5 191v1M446.5 213v1M446.5 231v3M446.5 255v1M446.5 258v1M446.5 262v1M446.5 264v1M446.5 268v2M446.5 279v1M447.5 173v1M447.5 180v1M447.5 291v2M447.5 298v1M447.5 310v1M448.5 147v1M448.5 178v1M448.5 309v1M448.5 311v1M448.5 315v1M448.5 318v1M448.5 347v1M448.5 350v1M448.5 356v1M449.5 111v1M449.5 120v1M449.5 146v1M449.5 151v1M449.5 156v1M449.5 162v1M449.5 303v1M449.5 318v1M449.5 320v1M449.5 329v1M449.5 332v1M449.5 337v1M449.5 346v1M449.5 348v1M449.5 355v1M449.5 357v1M450.5 135v1M450.5 143v1M450.5 145v1M450.5 150v1M450.5 163v1M450.5 165v1M450.5 168v1M450.5 328v1M450.5 333v1M450.5 344v1M450.5 356v1M450.5 358v1M451.5 134v1M451.5 144v1M451.5 160v1M451.5 173v1M451.5 330v2M451.5 334v1M451.5 338v1M451.5 341v2M451.5 357v1M452.5 128v1M452.5 133v1M452.5 163v1M452.5 178v1M452.5 320v1M452.5 326v1M452.5 329v1M452.5 336v1M453.5 127v1M453.5 135v1M453.5 280v1M453.5 311v1M453.5 320v2M453.5 327v1M453.5 366v1M453.5 368v1M454.5 128v1M454.5 134v1M454.5 155v1M454.5 167v1M454.5 283v1M454.5 313v1M454.5 319v1M454.5 322v1M454.5 331v1M454.5 349v1M454.5 353v1M455.5 172v1M455.5 177v1M455.5 180v1M455.5 317v1M455.5 320v1M456.5 190v1M456.5 198v2M456.5 265v1M456.5 267v1M456.5 270v1M456.5 275v1M456.5 293v1M456.5 296v1M456.5 304v1M486.5 224v1M486.5 231v1M487.5 195v1M487.5 201v1M487.5 204v2M487.5 208v1M487.5 219v1M487.5 260v1M487.5 263v2M487.5 267v2M487.5 281v1M488.5 182v1M488.5 189v1M488.5 194v1M488.5 277v1M488.5 295v1M488.5 297v1M488.5 299v1M488.5 311v1M489.5 166v1M489.5 178v1M489.5 183v1M489.5 194v1M489.5 292v2M489.5 302v1M490.5 165v1M490.5 168v1M490.5 173v1M490.5 178v1M490.5 308v1M490.5 312v2M490.5 315v2M490.5 322v1M490.5 335v1M490.5 349v1M490.5 352v1M491.5 127v1M491.5 165v1M491.5 174v1M491.5 323v1M491.5 333v1M491.5 339v1M491.5 346v1M491.5 350v2M491.5 357v1M491.5 381v1M491.5 401v1M492.5 126v1M492.5 152v1M492.5 164v1M492.5 171v1M492.5 325v1M492.5 331v1M492.5 335v1M492.5 348v1M493.5 169v1M493.5 301v1M493.5 308v1M493.5 323v1M493.5 333v1M493.5 359v1M493.5 389v1M493.5 392v1M494.5 178v1M494.5 308v1M495.5 186v1M495.5 293v1M495.5 311v3M496.5 181v1M496.5 187v1M496.5 189v1M496.5 289v2M496.5 300v2M496.5 305v1M496.5 311v1M496.5 313v2M496.5 317v1M496.5 322v2M496.5 339v1M497.5 147v1M497.5 184v1M497.5 189v1M497.5 301v2M497.5 316v1M497.5 395v1M498.5 167v1M498.5 170v1M498.5 173v1M498.5 183v1M498.5 309v1M498.5 313v1M498.5 318v1M499.5 165v1M499.5 182v1M499.5 300v1M499.5 314v1M499.5 319v1M499.5 339v1M500.5 164v1M500.5 183v1M500.5 293v1M500.5 314v1M500.5 323v1M500.5 325v1M500.5 334v1M500.5 338v1M500.5 352v1M500.5 357v1M500.5 395v1M501.5 179v1M501.5 181v1M501.5 186v1M501.5 188v1M501.5 191v1M501.5 278v1M501.5 291v1M501.5 294v1M501.5 296v1M501.5 304v2M501.5 307v1M501.5 315v3M501.5 351v1M502.5 278v1M502.5 284v1M502.5 286v1M503.5 201v1M503.5 211v2M503.5 217v1M503.5 227v1M503.5 231v1M503.5 247v1M503.5 253v2M503.5 258v1M503.5 260v1M503.5 262v1M503.5 274v1M503.5 277v1M532.5 232v2M532.5 285v1M532.5 290v1M532.5 297v1M532.5 302v1M532.5 305v1M532.5 308v1M532.5 310v1M532.5 315v1M532.5 319v1M532.5 323v1M532.5 334v1M533.5 344v1M533.5 352v1M533.5 358v1M534.5 353v1M534.5 359v1M535.5 338v1M535.5 349v1M536.5 201v1M536.5 208v1M536.5 341v1M536.5 351v1M537.5 210v1M537.5 336v1M537.5 338v1M537.5 342v1M537.5 345v1M538.5 350v1M539.5 197v1M539.5 203v2M539.5 207v2M539.5 330v1M539.5 348v1M540.5 205v1M541.5 201v1M541.5 342v1M541.5 346v2M542.5 203v1M542.5 341v1M542.5 343v1M542.5 346v1M543.5 195v1M543.5 197v2M543.5 201v1M543.5 338v1M543.5 345v1M543.5 357v1M543.5 377v1M544.5 196v1M544.5 199v1M544.5 202v1M544.5 211v1M544.5 359v1M545.5 205v1M545.5 219v1M545.5 221v1M546.5 208v1M546.5 210v2M546.5 222v1M546.5 224v1M546.5 236v1M546.5 328v1M548.5 208v1M548.5 210v1M548.5 282v1M548.5 328v1M548.5 331v1M548.5 337v1M548.5 340v1M549.5 228v1M551.5 345v1M551.5 350v1M552.5 224v1M552.5 226v2M552.5 337v1M552.5 341v1M553.5 344v1M554.5 229v1M554.5 234v1M554.5 337v1M555.5 242v1M555.5 244v1M555.5 249v1M555.5 264v1M555.5 268v1M555.5 273v2M555.5 278v1M555.5 288v1M555.5 304v1M555.5 306v1M555.5 309v1M555.5 312v1M555.5 316v1M555.5 318v2M555.5 328v1M555.5 336v1"/><path stroke="#d2e4f0" d="M103.5 221v1M103.5 223v1M105.5 214v1M105.5 216v1M106.5 232v1M204.5 244v1M204.5 251v1M204.5 255v1M205.5 232v1M205.5 242v1M205.5 261v1M206.5 200v1M207.5 199v1M207.5 210v2M207.5 272v1M208.5 204v1M208.5 209v1M208.5 266v1M209.5 246v1M209.5 261v1M210.5 203v1M211.5 205v1M212.5 274v1M213.5 208v1M213.5 262v1M215.5 197v1M215.5 209v1M215.5 264v1M215.5 268v1M217.5 197v1M219.5 287v2M220.5 177v1M220.5 289v1M221.5 176v1M221.5 280v1M221.5 285v1M221.5 288v1M222.5 212v1M222.5 220v1M222.5 225v1M222.5 246v1M222.5 253v1M252.5 231v1M252.5 253v1M253.5 219v1M253.5 228v1M253.5 244v1M254.5 222v1M254.5 227v1M254.5 231v2M254.5 238v1M254.5 243v1M254.5 252v1M255.5 215v1M255.5 219v1M255.5 224v2M255.5 229v1M255.5 252v1M255.5 258v1M257.5 220v1M257.5 223v2M257.5 227v1M257.5 246v1M264.5 225v1M264.5 228v2M264.5 248v1M265.5 210v1M265.5 219v1M265.5 240v1M265.5 243v1M265.5 256v1M265.5 259v1M267.5 218v1M268.5 205v1M268.5 210v1M269.5 196v1M270.5 201v1M270.5 207v1M270.5 264v1M271.5 196v1M271.5 263v1M272.5 194v1M272.5 253v1M272.5 269v1M273.5 195v1M273.5 201v1M273.5 218v1M273.5 226v1M273.5 236v1M273.5 240v1M273.5 245v1M273.5 249v2M273.5 259v1M298.5 229v1M298.5 236v2M298.5 243v1M298.5 247v1M299.5 201v1M299.5 213v1M299.5 222v1M299.5 224v1M299.5 226v1M299.5 259v1M300.5 202v1M301.5 203v1M301.5 205v1M301.5 257v1M302.5 194v1M302.5 200v1M302.5 267v1M302.5 274v1M302.5 276v1M303.5 268v1M304.5 200v1M304.5 267v1M305.5 205v2M305.5 211v1M305.5 259v1M306.5 259v1M307.5 209v1M307.5 212v1M308.5 204v1M308.5 206v1M308.5 210v1M308.5 260v1M309.5 272v1M310.5 209v1M310.5 263v1M311.5 204v1M311.5 210v1M312.5 205v1M312.5 266v1M313.5 260v1M314.5 211v1M315.5 205v2M315.5 210v1M316.5 202v1M317.5 205v1M318.5 222v2M318.5 225v1M318.5 240v1M318.5 245v1M318.5 248v1M318.5 254v1M318.5 260v1M345.5 232v1M345.5 243v1M346.5 250v1M348.5 232v1M349.5 219v1M349.5 228v1M349.5 234v1M349.5 247v1M391.5 377v2M391.5 388v1M391.5 408v1M392.5 409v1M393.5 377v2M393.5 388v1M439.5 202v1M439.5 205v1M439.5 207v1M439.5 216v1M439.5 222v1M439.5 228v1M439.5 238v1M439.5 241v1M439.5 246v1M439.5 258v1M439.5 268v1M439.5 270v1M439.5 273v2M439.5 289v1M440.5 180v1M440.5 297v1M440.5 326v1M441.5 160v1M441.5 181v2M441.5 300v1M441.5 310v1M441.5 319v1M441.5 327v1M441.5 333v1M441.5 335v1M442.5 187v1M442.5 311v1M442.5 318v1M442.5 326v1M442.5 328v1M442.5 331v1M442.5 340v1M443.5 140v1M443.5 317v1M443.5 332v1M443.5 335v1M444.5 191v1M444.5 278v2M444.5 285v1M444.5 293v1M444.5 295v2M446.5 202v1M446.5 210v1M446.5 242v1M446.5 257v1M446.5 260v1M446.5 263v1M446.5 267v1M446.5 281v1M446.5 286v1M447.5 185v2M447.5 293v1M447.5 297v1M447.5 300v1M447.5 320v1M448.5 299v1M448.5 304v1M448.5 307v1M448.5 322v1M449.5 176v2M449.5 302v1M449.5 307v1M449.5 312v1M449.5 325v1M450.5 112v1M450.5 121v1M450.5 161v1M450.5 308v1M450.5 325v1M450.5 330v1M450.5 342v1M451.5 141v1M451.5 153v1M451.5 179v1M452.5 110v1M452.5 112v1M452.5 161v1M452.5 310v1M452.5 316v1M452.5 322v1M452.5 324v1M452.5 343v1M453.5 111v1M453.5 170v1M453.5 315v1M453.5 317v1M453.5 325v1M453.5 333v1M454.5 175v1M455.5 179v1M455.5 183v1M455.5 291v1M455.5 332v1M456.5 193v1M456.5 197v1M456.5 263v2M456.5 266v1M456.5 269v1M456.5 274v1M456.5 284v1M456.5 287v1M456.5 326v1M487.5 252v1M488.5 282v1M488.5 286v1M489.5 181v1M489.5 186v1M489.5 283v1M489.5 291v1M489.5 298v1M489.5 300v1M489.5 310v1M489.5 312v1M489.5 327v1M490.5 164v1M490.5 171v2M490.5 179v1M490.5 296v1M490.5 304v2M490.5 307v1M490.5 320v1M490.5 325v1M490.5 328v1M490.5 348v1M491.5 180v1M491.5 327v1M491.5 336v1M491.5 341v1M492.5 172v1M492.5 177v1M492.5 324v1M492.5 340v1M492.5 342v1M493.5 187v1M493.5 298v1M493.5 303v1M493.5 313v1M493.5 320v1M493.5 390v1M494.5 310v1M494.5 358v1M494.5 360v1M495.5 185v1M495.5 290v1M495.5 316v1M496.5 294v1M496.5 303v1M496.5 308v1M497.5 174v1M497.5 188v1M497.5 293v1M497.5 307v1M497.5 324v1M498.5 191v1M498.5 283v1M498.5 304v1M499.5 176v1M499.5 186v1M499.5 293v1M499.5 317v1M499.5 333v1M499.5 351v1M500.5 171v1M500.5 180v1M500.5 297v1M500.5 300v1M500.5 318v1M500.5 350v1M501.5 280v1M502.5 194v1M502.5 198v1M503.5 204v1M503.5 221v1M503.5 228v1M503.5 237v1M503.5 240v2M503.5 250v1M503.5 252v1M503.5 256v1M532.5 218v1M532.5 222v1M532.5 228v1M532.5 235v1M532.5 240v1M532.5 256v1M532.5 264v1M532.5 266v1M532.5 269v1M532.5 275v2M532.5 286v2M532.5 295v2M532.5 299v2M532.5 304v1M532.5 316v1M533.5 210v1M534.5 206v1M534.5 320v2M534.5 351v1M534.5 357v1M535.5 207v1M535.5 337v1M535.5 341v1M535.5 352v1M536.5 320v1M536.5 330v2M536.5 344v1M536.5 347v1M537.5 202v1M537.5 212v1M537.5 215v1M537.5 326v1M537.5 329v1M537.5 335v1M538.5 333v1M539.5 201v1M539.5 331v1M539.5 339v1M541.5 206v1M541.5 208v1M541.5 326v1M541.5 328v1M541.5 330v1M541.5 344v1M542.5 331v1M543.5 203v1M543.5 339v1M543.5 343v1M544.5 212v1M544.5 332v1M544.5 338v1M544.5 342v1M545.5 216v1M545.5 225v1M545.5 306v1M545.5 325v2M545.5 328v1M546.5 215v1M546.5 217v1M546.5 220v2M546.5 282v1M546.5 326v1M548.5 215v1M548.5 220v1M548.5 231v1M548.5 326v1M549.5 232v1M549.5 235v1M549.5 338v2M552.5 342v1M553.5 231v2M554.5 245v1M554.5 333v1M555.5 250v1M555.5 270v1M555.5 277v1M555.5 279v3M555.5 285v1M555.5 292v1M555.5 299v1M555.5 303v1M555.5 307v1M555.5 320v2"/><path stroke="#c7ddec" d="M104.5 232v1M104.5 242v1M205.5 219v1M205.5 225v1M205.5 268v1M206.5 204v1M206.5 207v1M207.5 263v1M209.5 236v1M210.5 206v1M212.5 267v1M213.5 207v1M215.5 195v1M215.5 200v1M215.5 206v1M215.5 210v1M215.5 247v1M215.5 261v1M215.5 267v1M216.5 284v1M217.5 193v1M217.5 282v1M218.5 194v1M219.5 286v1M220.5 293v1M221.5 287v1M222.5 218v1M222.5 237v1M222.5 239v1M222.5 250v1M222.5 263v1M222.5 267v3M252.5 248v1M253.5 230v1M253.5 240v1M254.5 248v1M255.5 241v1M256.5 228v1M256.5 248v1M256.5 251v1M257.5 232v1M257.5 241v1M264.5 237v1M265.5 230v1M265.5 232v1M265.5 247v1M265.5 249v1M265.5 254v1M266.5 217v1M266.5 230v1M266.5 252v1M268.5 200v1M268.5 202v1M268.5 262v1M270.5 195v1M271.5 202v1M272.5 208v1M272.5 212v1M272.5 264v1M273.5 217v1M273.5 223v1M273.5 231v1M273.5 233v1M299.5 215v1M299.5 234v1M301.5 201v1M301.5 208v1M301.5 260v1M302.5 211v1M302.5 261v1M302.5 265v1M303.5 184v1M303.5 199v1M303.5 203v1M304.5 204v1M306.5 209v1M307.5 264v1M308.5 214v1M308.5 256v2M308.5 259v1M311.5 269v1M312.5 208v1M313.5 213v1M316.5 188v1M316.5 267v1M318.5 212v1M318.5 217v1M318.5 224v1M318.5 233v1M318.5 251v1M318.5 258v1M345.5 219v1M345.5 231v1M345.5 236v1M345.5 241v2M349.5 223v1M349.5 245v1M392.5 376v1M392.5 389v1M392.5 399v1M439.5 212v2M439.5 215v1M439.5 219v1M439.5 221v1M439.5 233v1M439.5 236v1M439.5 243v1M439.5 260v1M439.5 271v1M440.5 295v1M441.5 187v1M442.5 139v1M442.5 141v1M442.5 159v1M442.5 294v1M442.5 299v1M442.5 313v1M443.5 303v1M443.5 307v1M443.5 314v1M444.5 193v2M444.5 277v1M444.5 282v1M446.5 201v1M446.5 206v1M446.5 216v2M446.5 219v1M446.5 221v1M446.5 234v1M446.5 237v1M446.5 241v1M446.5 248v2M446.5 252v1M447.5 275v1M447.5 290v1M448.5 175v1M448.5 181v1M449.5 168v1M449.5 178v1M449.5 316v1M449.5 323v1M449.5 340v1M450.5 147v1M450.5 154v1M450.5 310v1M450.5 339v1M451.5 164v1M451.5 311v1M451.5 326v1M452.5 176v1M452.5 319v1M455.5 282v1M455.5 290v1M455.5 305v1M455.5 311v1M455.5 325v1M456.5 192v1M456.5 195v1M456.5 200v1M456.5 208v1M456.5 219v1M456.5 256v1M487.5 217v1M487.5 221v1M487.5 228v1M487.5 239v1M488.5 187v1M488.5 199v1M488.5 278v1M490.5 181v1M490.5 184v1M490.5 299v1M491.5 320v1M492.5 297v1M493.5 179v1M493.5 183v1M493.5 185v1M493.5 189v1M493.5 310v1M494.5 301v1M495.5 291v1M495.5 295v1M495.5 299v1M495.5 302v1M496.5 191v1M496.5 193v1M496.5 297v1M497.5 299v1M497.5 312v1M498.5 175v1M498.5 315v1M499.5 185v1M499.5 283v1M499.5 290v1M499.5 299v1M499.5 301v1M499.5 303v1M499.5 305v1M500.5 178v1M501.5 193v1M501.5 287v1M501.5 289v1M502.5 196v1M502.5 200v1M502.5 268v1M502.5 273v1M503.5 216v1M503.5 222v1M503.5 226v1M503.5 232v1M503.5 234v2M503.5 243v1M503.5 245v2M503.5 255v1M503.5 259v1M503.5 261v1M532.5 217v1M532.5 221v1M532.5 236v1M532.5 239v1M532.5 249v1M532.5 278v1M532.5 288v1M532.5 294v1M532.5 303v1M532.5 306v1M533.5 214v1M533.5 320v1M533.5 324v1M533.5 341v1M534.5 336v1M534.5 344v1M536.5 211v1M536.5 333v1M536.5 336v1M537.5 218v1M537.5 320v1M537.5 325v1M537.5 334v1M538.5 328v1M539.5 344v1M540.5 336v1M541.5 332v1M543.5 205v1M544.5 209v1M544.5 333v1M544.5 340v1M545.5 218v1M546.5 213v1M546.5 323v1M548.5 213v1M548.5 226v1M548.5 239v1M548.5 245v1M548.5 283v1M548.5 298v1M548.5 323v1M549.5 341v1M551.5 229v1M552.5 230v1M552.5 338v1M554.5 238v1M555.5 248v1M555.5 251v1M555.5 258v1M555.5 265v1M555.5 271v1M555.5 282v1M555.5 289v1M555.5 298v1M555.5 302v1"/><path stroke="#bcd6e8" d="M204.5 235v1M205.5 254v1M205.5 256v1M206.5 217v1M207.5 205v1M208.5 207v1M208.5 212v1M208.5 224v1M208.5 236v1M208.5 253v1M208.5 256v1M209.5 215v1M209.5 260v1M210.5 246v1M211.5 263v1M213.5 212v1M213.5 247v1M214.5 211v1M214.5 260v1M215.5 213v2M215.5 239v1M215.5 244v1M215.5 248v1M215.5 250v1M216.5 201v1M217.5 196v1M217.5 219v1M217.5 236v1M217.5 262v1M217.5 271v1M217.5 273v1M217.5 277v1M218.5 276v1M218.5 284v1M219.5 192v1M219.5 281v1M221.5 195v1M221.5 208v1M221.5 278v1M222.5 204v1M222.5 242v1M222.5 256v1M253.5 242v1M254.5 234v1M255.5 223v1M255.5 234v1M255.5 240v1M255.5 249v1M257.5 249v1M265.5 224v1M266.5 208v1M266.5 215v1M266.5 225v2M266.5 247v1M266.5 251v1M266.5 258v1M266.5 260v1M267.5 221v1M267.5 247v1M267.5 261v1M268.5 203v1M268.5 211v1M268.5 232v1M268.5 244v1M269.5 208v1M269.5 260v1M270.5 203v1M270.5 255v1M270.5 269v1M271.5 209v1M271.5 265v1M271.5 270v1M272.5 211v1M273.5 215v1M273.5 227v1M273.5 239v1M273.5 246v1M273.5 251v1M299.5 219v1M301.5 214v2M301.5 255v1M303.5 205v1M303.5 210v2M303.5 266v1M304.5 263v1M305.5 213v1M305.5 223v1M305.5 257v1M306.5 207v1M306.5 213v1M307.5 216v1M307.5 254v1M309.5 205v1M310.5 219v1M312.5 261v1M313.5 206v1M314.5 255v1M316.5 211v1M318.5 219v1M318.5 228v3M318.5 232v1M318.5 234v1M318.5 236v3M318.5 241v2M318.5 244v1M318.5 246v1M318.5 252v2M345.5 230v1M345.5 235v1M345.5 238v1M347.5 217v1M348.5 233v1M349.5 238v1M439.5 199v1M439.5 214v1M439.5 217v2M439.5 220v1M439.5 226v1M439.5 234v1M439.5 237v1M439.5 239v2M439.5 242v1M439.5 247v1M439.5 250v2M439.5 254v1M439.5 264v1M439.5 267v1M439.5 272v1M440.5 190v1M440.5 292v1M441.5 191v1M441.5 277v1M441.5 296v1M442.5 161v1M442.5 179v1M442.5 289v1M442.5 306v1M442.5 336v1M443.5 160v1M443.5 291v1M443.5 300v1M444.5 195v2M444.5 199v1M444.5 274v2M444.5 280v1M444.5 283v1M446.5 207v2M446.5 211v2M446.5 214v2M446.5 218v1M446.5 220v1M446.5 224v1M446.5 227v1M446.5 229v1M446.5 235v1M446.5 239v1M446.5 247v1M446.5 253v2M446.5 259v1M446.5 261v1M447.5 190v1M447.5 196v1M449.5 170v1M449.5 174v1M449.5 180v1M450.5 180v1M450.5 303v1M450.5 336v1M451.5 111v1M451.5 178v1M451.5 312v1M452.5 299v1M452.5 305v1M453.5 177v1M453.5 183v1M453.5 283v1M453.5 300v1M454.5 169v1M455.5 170v1M455.5 298v1M455.5 300v1M455.5 302v1M455.5 308v1M456.5 194v1M456.5 201v2M456.5 204v1M456.5 206v1M456.5 247v1M456.5 259v3M456.5 278v1M487.5 210v2M487.5 220v1M487.5 240v1M487.5 251v1M487.5 261v2M489.5 189v1M490.5 300v1M492.5 180v1M492.5 182v1M492.5 302v1M492.5 319v1M493.5 290v2M493.5 306v1M493.5 312v1M493.5 316v1M494.5 181v1M494.5 304v1M494.5 315v1M495.5 305v1M496.5 192v1M496.5 194v1M496.5 286v1M497.5 287v1M497.5 291v1M497.5 296v1M498.5 186v1M498.5 190v1M498.5 289v1M499.5 191v1M499.5 280v1M499.5 286v1M499.5 296v1M500.5 189v1M501.5 197v1M501.5 276v1M502.5 203v1M502.5 275v1M503.5 206v1M503.5 210v1M503.5 223v1M503.5 225v1M503.5 229v2M503.5 236v1M503.5 238v2M503.5 242v1M503.5 244v1M503.5 248v1M503.5 251v1M532.5 223v1M532.5 226v2M532.5 234v1M532.5 242v2M532.5 248v1M532.5 250v2M532.5 253v1M532.5 258v2M532.5 265v1M532.5 267v1M532.5 272v1M532.5 274v1M532.5 281v3M532.5 291v1M532.5 293v1M532.5 301v1M533.5 326v1M534.5 318v1M534.5 325v1M534.5 342v1M535.5 343v1M535.5 346v1M536.5 215v1M536.5 326v1M537.5 213v1M537.5 313v1M537.5 315v1M538.5 211v1M539.5 326v1M540.5 209v1M540.5 328v1M541.5 214v1M541.5 219v1M541.5 334v1M542.5 209v1M542.5 327v1M543.5 210v1M544.5 324v1M544.5 327v1M545.5 226v1M545.5 274v2M545.5 288v1M545.5 311v1M546.5 223v1M546.5 227v1M546.5 231v1M546.5 234v1M546.5 237v1M546.5 245v1M546.5 255v1M546.5 283v1M546.5 324v1M547.5 209v1M548.5 219v1M548.5 221v1M548.5 227v1M548.5 230v1M548.5 232v1M548.5 234v2M548.5 238v1M548.5 253v3M548.5 260v1M548.5 273v1M548.5 292v2M548.5 315v1M548.5 318v1M548.5 322v1M548.5 324v2M548.5 329v1M549.5 237v1M549.5 239v1M549.5 332v1M549.5 335v1M550.5 234v1M550.5 334v1M551.5 340v1M551.5 343v1M553.5 332v1M554.5 329v1M555.5 243v1M555.5 256v1M555.5 262v1M555.5 267v1M555.5 269v1M555.5 272v1M555.5 283v1M555.5 286v2M555.5 301v1"/><path stroke="#b1cfe5" d="M105.5 233v1M205.5 230v1M205.5 250v1M206.5 267v1M208.5 215v1M208.5 225v1M208.5 227v1M208.5 248v1M208.5 254v1M208.5 257v1M208.5 261v1M211.5 207v1M211.5 225v1M211.5 237v1M213.5 248v1M213.5 259v1M214.5 232v1M214.5 266v1M215.5 198v1M215.5 205v1M215.5 228v1M215.5 230v1M215.5 233v1M215.5 236v1M215.5 242v1M215.5 245v1M215.5 251v1M215.5 257v1M217.5 231v1M217.5 245v1M219.5 194v1M219.5 245v1M219.5 273v1M221.5 248v1M255.5 236v1M266.5 228v1M266.5 236v1M267.5 227v1M267.5 232v1M267.5 234v1M267.5 240v1M268.5 207v1M268.5 235v1M268.5 240v1M268.5 256v1M269.5 239v1M269.5 258v1M272.5 256v1M299.5 235v1M299.5 252v1M301.5 217v1M301.5 250v1M301.5 258v1M302.5 207v1M304.5 207v1M305.5 255v1M306.5 251v1M310.5 256v1M310.5 258v1M310.5 260v1M311.5 215v1M311.5 253v1M311.5 257v1M311.5 259v1M313.5 257v1M314.5 214v1M315.5 213v1M317.5 255v1M318.5 221v1M318.5 226v2M318.5 239v1M318.5 243v1M345.5 222v1M345.5 226v2M345.5 244v1M345.5 246v1M347.5 248v1M348.5 222v1M439.5 211v1M439.5 225v1M439.5 232v1M439.5 244v1M439.5 255v1M439.5 257v1M439.5 259v1M439.5 261v1M439.5 263v1M439.5 265v2M441.5 286v1M442.5 188v1M442.5 298v1M443.5 190v1M443.5 192v1M443.5 297v1M444.5 197v2M444.5 203v2M444.5 206v1M444.5 208v1M444.5 213v1M444.5 224v1M444.5 226v1M444.5 232v1M444.5 241v1M444.5 243v2M444.5 252v1M444.5 270v2M444.5 276v1M446.5 223v1M446.5 225v2M446.5 228v1M446.5 230v1M446.5 236v1M446.5 240v1M446.5 243v1M446.5 245v2M446.5 250v2M447.5 192v1M447.5 266v1M447.5 273v1M447.5 282v1M448.5 276v1M448.5 296v1M449.5 185v1M449.5 289v1M449.5 321v1M450.5 182v1M450.5 318v1M450.5 322v1M451.5 181v1M451.5 321v1M452.5 302v1M453.5 278v2M453.5 281v1M453.5 285v1M453.5 295v1M453.5 303v1M454.5 284v1M455.5 188v1M455.5 191v1M455.5 271v1M456.5 196v1M456.5 205v1M456.5 207v1M456.5 209v3M456.5 213v1M456.5 215v1M456.5 218v1M456.5 223v1M456.5 227v1M456.5 229v1M456.5 231v1M456.5 237v1M456.5 240v1M456.5 243v2M456.5 252v2M456.5 258v1M456.5 262v1M487.5 213v1M487.5 215v1M487.5 222v1M487.5 234v1M487.5 236v1M487.5 238v1M487.5 247v2M487.5 255v2M487.5 258v1M489.5 191v1M489.5 193v1M489.5 279v1M489.5 282v1M489.5 285v1M491.5 169v1M492.5 186v1M492.5 293v1M492.5 311v1M493.5 278v1M493.5 280v1M493.5 285v1M494.5 292v1M495.5 296v1M496.5 273v1M496.5 278v1M499.5 276v1M500.5 288v1M501.5 274v1M501.5 277v1M501.5 282v1M501.5 285v1M503.5 233v1M532.5 225v1M532.5 229v1M532.5 231v1M532.5 237v2M532.5 244v4M532.5 252v1M532.5 254v2M532.5 257v1M532.5 260v1M532.5 262v2M532.5 270v1M532.5 273v1M532.5 277v1M532.5 279v1M532.5 289v1M532.5 292v1M532.5 298v1M533.5 309v1M534.5 329v1M534.5 334v1M535.5 210v1M536.5 218v1M537.5 307v1M537.5 317v1M540.5 345v1M541.5 211v1M541.5 215v1M541.5 217v1M541.5 325v1M542.5 335v1M545.5 223v1M545.5 230v1M545.5 240v1M545.5 263v1M545.5 294v1M545.5 308v2M546.5 219v1M546.5 228v2M546.5 232v1M546.5 239v1M546.5 243v1M546.5 254v1M546.5 256v2M546.5 260v2M546.5 266v5M546.5 274v2M546.5 287v1M546.5 297v1M546.5 304v1M546.5 306v1M546.5 311v1M546.5 315v1M548.5 223v1M548.5 229v1M548.5 233v1M548.5 240v1M548.5 256v2M548.5 259v1M548.5 264v1M548.5 267v1M548.5 271v1M548.5 286v1M548.5 288v1M548.5 291v1M548.5 295v1M548.5 297v1M548.5 308v1M548.5 311v2M549.5 245v1M549.5 253v1M549.5 283v1M549.5 325v1M549.5 327v1M552.5 235v1M552.5 237v1M554.5 241v1M554.5 246v1M555.5 254v1M555.5 260v1M555.5 300v1"/><path stroke="#a5c9e1" d="M205.5 241v1M208.5 219v1M208.5 223v1M208.5 243v1M209.5 250v1M211.5 258v1M213.5 222v1M213.5 227v1M213.5 234v1M213.5 242v1M213.5 258v1M215.5 226v1M215.5 237v1M215.5 241v1M215.5 258v1M217.5 198v1M217.5 210v1M217.5 218v1M217.5 253v1M219.5 244v1M219.5 248v1M219.5 275v1M221.5 222v1M221.5 244v1M265.5 212v1M266.5 213v1M267.5 212v1M267.5 244v1M268.5 218v1M268.5 230v1M268.5 252v1M268.5 254v1M269.5 223v1M269.5 226v1M269.5 233v1M269.5 249v1M270.5 215v1M270.5 222v1M270.5 225v1M270.5 246v1M271.5 259v1M301.5 219v1M302.5 213v1M303.5 257v1M305.5 217v1M309.5 223v1M313.5 252v1M316.5 258v1M318.5 231v1M318.5 235v1M318.5 247v1M347.5 220v1M439.5 230v1M440.5 198v1M444.5 200v3M444.5 209v1M444.5 211v1M444.5 215v1M444.5 217v1M444.5 219v1M444.5 223v1M444.5 227v1M444.5 234v1M444.5 237v2M444.5 240v1M444.5 246v1M444.5 250v2M444.5 253v1M444.5 258v1M444.5 262v1M444.5 266v2M444.5 272v2M446.5 209v1M446.5 238v1M448.5 272v1M449.5 288v1M449.5 292v1M449.5 299v1M452.5 189v1M453.5 187v1M453.5 288v1M456.5 203v1M456.5 212v1M456.5 214v1M456.5 220v1M456.5 222v1M456.5 224v2M456.5 228v1M456.5 230v1M456.5 232v1M456.5 234v1M456.5 236v1M456.5 238v2M456.5 241v1M456.5 246v1M456.5 250v2M456.5 254v1M456.5 257v1M487.5 225v1M487.5 243v1M489.5 273v1M490.5 284v1M492.5 190v1M492.5 305v1M496.5 197v1M499.5 188v1M501.5 266v1M502.5 205v1M502.5 207v1M532.5 230v1M533.5 219v1M537.5 269v1M537.5 282v1M539.5 316v1M539.5 319v1M539.5 324v1M541.5 218v1M541.5 228v1M541.5 322v1M542.5 219v1M544.5 316v1M544.5 322v1M545.5 234v1M545.5 242v1M545.5 261v1M545.5 272v1M545.5 318v1M546.5 233v1M546.5 235v1M546.5 241v1M546.5 244v1M546.5 247v1M546.5 262v1M546.5 264v1M546.5 271v1M546.5 276v1M546.5 278v1M546.5 280v1M546.5 286v1M546.5 292v1M546.5 296v1M546.5 301v2M546.5 309v1M546.5 313v1M546.5 317v1M546.5 319v1M546.5 321v1M546.5 327v1M548.5 244v1M548.5 246v2M548.5 250v1M548.5 252v1M548.5 261v1M548.5 265v1M548.5 269v1M548.5 277v1M548.5 284v2M548.5 287v1M548.5 305v1M548.5 307v1M548.5 309v1M548.5 313v1M548.5 317v1M548.5 319v1M548.5 321v1M548.5 327v1M549.5 243v1M549.5 248v1M549.5 259v1M549.5 267v1M549.5 271v1M549.5 273v1M549.5 277v1M549.5 311v1M549.5 330v1M553.5 239v1M554.5 257v1M554.5 295v1"/><path stroke="#9ac2dd" d="M211.5 248v1M212.5 218v1M215.5 223v1M217.5 261v1M217.5 266v1M218.5 233v1M219.5 197v1M219.5 216v1M219.5 230v1M219.5 267v1M221.5 214v1M270.5 234v1M271.5 236v1M301.5 223v1M301.5 237v1M304.5 216v1M305.5 225v1M305.5 242v1M305.5 247v1M307.5 222v1M310.5 246v1M311.5 219v1M314.5 234v1M315.5 220v1M347.5 225v1M348.5 246v1M440.5 209v1M444.5 205v1M444.5 207v1M444.5 210v1M444.5 212v1M444.5 214v1M444.5 216v1M444.5 218v1M444.5 220v3M444.5 225v1M444.5 228v4M444.5 233v1M444.5 235v2M444.5 239v1M444.5 242v1M444.5 245v1M444.5 247v3M444.5 254v4M444.5 259v3M444.5 263v3M444.5 268v2M448.5 191v1M451.5 192v1M456.5 216v2M456.5 221v1M456.5 226v1M456.5 233v1M456.5 235v1M456.5 242v1M456.5 245v1M456.5 248v2M456.5 255v1M487.5 230v1M489.5 211v1M499.5 273v1M501.5 204v1M501.5 219v1M533.5 224v1M536.5 279v1M536.5 293v1M537.5 222v1M537.5 248v1M537.5 259v1M537.5 276v1M541.5 265v1M541.5 306v1M543.5 318v1M544.5 222v1M545.5 277v1M545.5 285v1M546.5 248v1M546.5 279v1M546.5 284v1M548.5 258v1M548.5 279v1M548.5 299v1M548.5 301v1M548.5 303v1M548.5 314v1M549.5 249v1M549.5 254v1M549.5 264v1M549.5 293v1M549.5 302v1M549.5 305v1M549.5 315v1M549.5 320v1M549.5 328v1M550.5 262v1M554.5 324v1"/><path stroke="#8fbbda" d="M103.5 196v1M104.5 184v1M104.5 188v1M104.5 192v1M104.5 199v1M104.5 201v1M104.5 204v1M104.5 229v1M104.5 235v1M104.5 237v1M104.5 244v1M104.5 246v1M104.5 249v1M104.5 252v1M104.5 254v1M104.5 261v1M104.5 264v1M104.5 267v1M104.5 269v1M104.5 271v1M104.5 294v1M104.5 330v1M105.5 172v1M105.5 210v1M105.5 213v1M105.5 218v1M105.5 238v1M105.5 251v1M105.5 260v1M105.5 270v1M105.5 276v1M105.5 278v1M177.5 131v1M177.5 144v1M177.5 148v1M177.5 154v1M177.5 171v1M177.5 174v1M177.5 177v1M205.5 191v1M205.5 203v1M205.5 209v1M205.5 215v1M205.5 217v1M205.5 221v1M205.5 226v1M205.5 228v1M205.5 231v1M205.5 233v1M205.5 243v1M205.5 252v1M205.5 257v1M205.5 265v1M205.5 269v1M206.5 115v1M206.5 128v1M206.5 140v1M206.5 162v1M206.5 184v1M206.5 189v1M206.5 192v1M206.5 198v1M206.5 231v1M206.5 246v2M206.5 257v1M206.5 273v1M206.5 309v1M206.5 363v1M206.5 403v1M207.5 171v1M207.5 190v1M207.5 197v1M207.5 209v1M207.5 275v1M207.5 278v1M208.5 156v1M208.5 161v1M208.5 187v1M208.5 202v1M208.5 205v1M208.5 281v1M208.5 283v1M208.5 286v1M208.5 288v1M208.5 302v1M208.5 306v1M208.5 315v1M208.5 318v1M208.5 331v1M208.5 352v1M209.5 172v1M209.5 188v1M209.5 204v1M209.5 207v1M209.5 225v1M209.5 235v1M209.5 241v1M209.5 263v1M209.5 267v1M209.5 272v1M209.5 277v1M210.5 185v1M210.5 187v1M210.5 191v1M210.5 208v1M210.5 270v1M210.5 275v1M210.5 281v1M210.5 303v1M210.5 310v1M210.5 313v1M210.5 315v1M210.5 320v1M210.5 323v1M210.5 326v1M210.5 330v1M210.5 333v1M210.5 337v1M210.5 345v1M210.5 347v1M210.5 356v1M210.5 359v1M210.5 361v1M210.5 365v1M210.5 368v1M210.5 371v1M210.5 373v1M210.5 377v1M210.5 382v1M210.5 388v1M210.5 390v1M210.5 396v1M211.5 165v1M211.5 170v1M211.5 179v1M211.5 197v1M211.5 200v1M211.5 274v1M211.5 278v1M212.5 133v1M212.5 190v1M212.5 195v1M212.5 214v1M212.5 271v1M212.5 276v1M212.5 290v1M212.5 303v1M212.5 310v1M212.5 315v1M212.5 321v1M212.5 324v1M212.5 357v1M213.5 269v1M213.5 282v1M214.5 158v1M214.5 177v1M214.5 189v1M214.5 205v1M214.5 290v1M214.5 321v1M214.5 350v1M215.5 179v1M215.5 184v1M215.5 191v1M215.5 202v1M215.5 204v1M215.5 229v1M215.5 240v1M215.5 266v1M215.5 270v1M216.5 162v1M216.5 167v1M216.5 169v1M216.5 173v1M216.5 193v1M216.5 202v1M216.5 276v1M216.5 278v1M216.5 285v1M216.5 290v1M216.5 295v1M216.5 298v1M217.5 94v1M217.5 124v1M217.5 145v1M217.5 174v1M217.5 178v1M217.5 181v1M217.5 186v1M217.5 188v1M217.5 192v1M217.5 203v1M217.5 278v1M217.5 281v1M217.5 285v1M217.5 293v1M217.5 303v1M217.5 305v1M217.5 318v1M217.5 322v1M217.5 328v1M217.5 330v1M217.5 338v1M217.5 346v1M217.5 352v1M217.5 364v1M217.5 369v1M217.5 372v1M217.5 389v1M218.5 170v1M218.5 191v1M218.5 277v1M218.5 287v1M219.5 161v1M219.5 167v1M219.5 171v1M219.5 176v1M219.5 184v1M219.5 189v1M219.5 211v1M219.5 219v1M219.5 225v1M219.5 258v1M219.5 274v1M219.5 276v1M219.5 280v1M219.5 284v1M219.5 290v1M220.5 105v1M220.5 123v1M220.5 142v1M220.5 155v1M220.5 157v1M220.5 162v1M220.5 170v1M220.5 180v1M220.5 182v1M220.5 186v1M220.5 283v1M220.5 291v1M220.5 297v1M221.5 177v1M221.5 290v1M221.5 293v1M221.5 296v1M223.5 158v1M223.5 160v1M223.5 166v1M223.5 184v1M223.5 192v1M223.5 198v1M223.5 200v1M223.5 202v1M223.5 206v1M223.5 208v1M223.5 228v1M223.5 237v1M223.5 253v1M223.5 271v1M223.5 276v1M223.5 279v1M223.5 287v1M223.5 291v1M223.5 299v1M223.5 303v1M223.5 307v1M223.5 313v1M223.5 317v1M223.5 320v1M223.5 325v1M223.5 334v1M223.5 342v1M223.5 348v1M223.5 356v1M223.5 362v1M223.5 366v1M223.5 370v1M223.5 374v1M223.5 377v1M223.5 384v1M223.5 389v1M223.5 394v1M223.5 404v1M223.5 407v1M224.5 159v1M224.5 181v1M224.5 249v1M224.5 260v1M252.5 85v1M252.5 92v1M252.5 103v1M252.5 120v1M252.5 127v1M252.5 131v1M252.5 138v1M252.5 140v1M252.5 142v1M252.5 148v1M252.5 151v1M252.5 154v1M252.5 157v1M252.5 164v1M252.5 167v1M252.5 171v1M252.5 177v1M252.5 180v1M252.5 186v1M252.5 193v1M252.5 195v1M252.5 197v1M252.5 199v1M252.5 202v1M252.5 204v1M252.5 211v1M252.5 217v1M252.5 225v1M252.5 228v1M252.5 230v1M252.5 232v1M252.5 235v1M252.5 239v1M252.5 245v1M252.5 252v1M252.5 254v1M252.5 273v1M252.5 276v1M252.5 280v1M252.5 285v1M252.5 294v1M252.5 300v1M252.5 315v1M252.5 346v1M252.5 378v1M253.5 212v1M253.5 216v1M253.5 220v1M253.5 226v1M253.5 229v1M253.5 233v1M253.5 255v1M253.5 260v1M253.5 265v1M254.5 201v1M254.5 216v1M254.5 219v1M254.5 230v1M254.5 237v1M254.5 242v1M254.5 244v1M254.5 258v1M255.5 203v1M255.5 206v1M255.5 220v1M255.5 222v1M255.5 227v1M255.5 231v2M255.5 238v1M255.5 254v1M255.5 259v1M256.5 208v1M256.5 214v1M256.5 229v1M256.5 245v1M256.5 247v1M256.5 256v1M256.5 261v1M256.5 264v1M257.5 210v1M257.5 228v1M257.5 267v1M262.5 128v1M262.5 153v1M262.5 156v1M262.5 189v1M262.5 195v1M262.5 200v1M262.5 203v1M262.5 206v1M262.5 208v1M262.5 216v1M262.5 235v1M262.5 238v1M262.5 241v1M262.5 246v1M262.5 257v1M262.5 259v1M262.5 263v1M262.5 269v1M262.5 274v1M262.5 278v1M262.5 288v1M262.5 328v1M263.5 215v1M263.5 218v1M263.5 229v1M263.5 232v1M263.5 252v1M265.5 177v1M265.5 185v1M265.5 199v1M265.5 206v1M265.5 209v1M265.5 214v1M265.5 217v1M265.5 222v1M265.5 233v1M265.5 235v1M265.5 239v1M265.5 242v1M265.5 244v1M265.5 246v1M265.5 253v1M265.5 258v1M265.5 261v1M265.5 267v1M266.5 171v1M266.5 180v1M266.5 195v1M266.5 203v1M266.5 214v1M266.5 224v1M266.5 233v1M266.5 250v1M266.5 262v1M266.5 264v1M266.5 269v1M266.5 271v1M266.5 345v1M267.5 177v1M267.5 186v1M267.5 188v1M267.5 193v1M267.5 204v1M267.5 222v1M267.5 258v1M267.5 267v1M267.5 275v1M267.5 279v1M267.5 293v1M267.5 301v1M267.5 311v1M268.5 184v1M268.5 190v1M268.5 197v1M268.5 261v1M268.5 270v1M268.5 276v1M268.5 278v1M268.5 280v1M269.5 178v1M269.5 204v1M269.5 207v1M269.5 213v1M269.5 264v1M269.5 272v1M269.5 285v1M270.5 182v1M270.5 191v1M270.5 196v1M270.5 208v2M270.5 266v1M270.5 271v1M270.5 278v1M271.5 175v1M271.5 184v1M271.5 193v1M271.5 195v1M271.5 197v1M271.5 201v1M271.5 214v1M271.5 280v1M271.5 284v1M272.5 172v1M272.5 191v1M272.5 214v1M272.5 273v1M272.5 281v1M272.5 346v1M272.5 367v1M272.5 372v1M272.5 376v1M272.5 382v1M272.5 391v1M272.5 398v1M272.5 402v1M275.5 320v1M275.5 338v1M275.5 376v1M275.5 397v1M296.5 84v1M296.5 205v1M296.5 239v1M296.5 280v1M296.5 290v1M296.5 295v1M296.5 297v1M296.5 299v1M296.5 301v1M296.5 305v1M296.5 308v1M296.5 311v1M296.5 313v1M296.5 317v1M296.5 321v1M296.5 324v1M296.5 327v1M296.5 333v1M296.5 335v1M296.5 345v1M299.5 184v1M299.5 186v1M299.5 204v1M299.5 207v1M299.5 209v1M299.5 212v1M299.5 214v1M299.5 216v3M299.5 223v1M299.5 232v2M299.5 241v1M299.5 245v1M299.5 248v1M299.5 253v1M299.5 256v1M299.5 258v1M299.5 260v1M299.5 263v1M300.5 181v1M300.5 183v1M300.5 188v1M300.5 198v1M300.5 204v1M300.5 208v1M300.5 254v1M300.5 262v1M300.5 274v1M300.5 282v1M300.5 285v1M300.5 289v1M300.5 313v1M300.5 366v1M301.5 120v1M301.5 139v1M301.5 146v1M301.5 185v1M301.5 187v1M301.5 210v1M301.5 229v1M301.5 231v1M301.5 240v1M301.5 246v1M301.5 254v1M301.5 263v1M301.5 270v1M301.5 276v1M302.5 127v1M302.5 180v1M302.5 185v1M302.5 190v1M302.5 193v1M302.5 195v1M302.5 201v1M302.5 251v1M302.5 257v1M302.5 263v1M302.5 271v1M302.5 273v1M302.5 277v1M302.5 279v1M302.5 281v1M302.5 286v1M303.5 111v1M303.5 133v1M303.5 148v1M303.5 163v1M303.5 188v1M303.5 197v1M303.5 201v1M303.5 217v1M303.5 262v1M303.5 264v1M303.5 267v1M303.5 269v1M303.5 274v1M303.5 284v1M303.5 341v1M303.5 347v1M303.5 356v1M303.5 368v1M303.5 406v1M304.5 104v1M304.5 114v1M304.5 145v1M304.5 186v1M304.5 192v1M304.5 276v1M305.5 130v1M305.5 169v1M305.5 174v1M305.5 183v1M305.5 198v1M305.5 202v1M305.5 267v1M305.5 275v1M305.5 286v1M306.5 153v1M306.5 171v1M306.5 187v1M306.5 206v1M306.5 217v1M306.5 264v1M306.5 266v1M306.5 271v1M307.5 134v1M307.5 151v1M307.5 189v1M307.5 198v1M307.5 265v1M307.5 279v1M308.5 130v1M308.5 132v1M308.5 161v1M308.5 176v1M308.5 178v1M308.5 194v1M308.5 197v1M308.5 205v1M308.5 211v1M308.5 264v1M308.5 266v1M308.5 268v1M308.5 271v1M309.5 113v1M309.5 149v1M309.5 179v1M309.5 188v1M309.5 193v1M309.5 198v1M309.5 210v1M309.5 215v1M309.5 245v1M309.5 261v1M309.5 275v1M309.5 281v1M309.5 285v1M309.5 292v1M309.5 353v1M309.5 380v1M310.5 153v1M310.5 191v1M310.5 202v1M310.5 272v1M311.5 131v1M311.5 171v1M311.5 194v1M311.5 199v1M311.5 207v1M311.5 237v1M311.5 260v1M311.5 265v1M311.5 267v1M311.5 270v1M311.5 288v1M312.5 92v1M312.5 112v1M312.5 132v1M312.5 138v1M312.5 158v1M312.5 168v1M312.5 187v1M312.5 189v1M312.5 198v1M312.5 204v1M312.5 258v1M312.5 273v1M312.5 286v1M312.5 380v1M313.5 110v1M313.5 151v1M313.5 172v1M313.5 192v1M313.5 197v1M313.5 205v1M313.5 209v1M313.5 239v1M313.5 287v1M313.5 306v1M313.5 371v1M314.5 113v1M314.5 149v1M314.5 160v1M314.5 170v1M314.5 175v1M314.5 178v1M314.5 187v1M314.5 193v1M314.5 195v1M314.5 199v1M314.5 206v1M314.5 224v1M314.5 274v1M314.5 279v1M314.5 288v1M315.5 174v1M315.5 176v1M315.5 184v1M315.5 188v1M315.5 202v1M315.5 231v1M315.5 241v1M315.5 256v1M315.5 258v1M315.5 270v1M315.5 275v1M315.5 292v1M315.5 296v1M315.5 303v1M315.5 306v1M316.5 98v1M316.5 172v1M316.5 187v1M316.5 194v1M316.5 206v1M316.5 239v1M316.5 262v1M316.5 265v1M316.5 279v1M316.5 285v1M316.5 291v1M317.5 178v1M317.5 197v1M317.5 267v1M317.5 280v1M317.5 282v1M342.5 359v1M342.5 361v1M342.5 371v1M342.5 374v1M342.5 377v1M342.5 382v1M342.5 385v1M342.5 391v1M342.5 396v1M342.5 400v1M342.5 403v1M342.5 410v1M345.5 206v1M345.5 210v1M345.5 220v2M345.5 228v1M345.5 233v2M345.5 237v1M345.5 239v2M345.5 247v2M345.5 258v1M346.5 200v1M346.5 214v1M346.5 254v1M346.5 256v1M347.5 215v1M348.5 216v1M348.5 257v1M391.5 341v1M391.5 345v1M391.5 350v1M391.5 354v1M391.5 358v1M391.5 364v1M391.5 366v1M391.5 368v1M391.5 371v2M391.5 374v1M391.5 380v1M391.5 400v1M391.5 404v1M391.5 409v1M392.5 375v1M392.5 382v1M392.5 385v1M392.5 390v1M392.5 393v1M392.5 406v1M440.5 103v1M440.5 122v1M440.5 141v1M440.5 152v1M440.5 159v1M440.5 169v1M440.5 173v1M440.5 182v1M440.5 186v1M440.5 191v1M440.5 194v1M440.5 206v1M440.5 210v1M440.5 277v1M440.5 281v1M440.5 296v1M440.5 302v1M440.5 304v1M440.5 313v1M440.5 322v1M440.5 327v1M440.5 341v1M440.5 347v1M440.5 352v1M440.5 356v1M440.5 378v1M441.5 73v1M441.5 79v1M441.5 82v1M441.5 86v1M441.5 89v1M441.5 94v1M441.5 101v1M441.5 107v1M441.5 111v1M441.5 114v1M441.5 117v1M441.5 124v1M441.5 127v1M441.5 144v1M441.5 153v1M441.5 163v1M441.5 165v1M441.5 168v1M441.5 174v1M441.5 184v1M441.5 211v1M441.5 237v1M441.5 239v1M441.5 264v1M441.5 290v1M441.5 305v1M441.5 311v1M441.5 317v1M441.5 332v1M441.5 340v1M441.5 342v1M441.5 361v1M441.5 401v1M442.5 81v1M442.5 87v1M442.5 104v1M442.5 120v1M442.5 123v1M442.5 136v1M442.5 138v1M442.5 152v1M442.5 156v1M442.5 162v1M442.5 166v1M442.5 169v1M442.5 171v1M442.5 197v1M442.5 212v1M442.5 218v1M442.5 220v3M442.5 225v1M442.5 230v1M442.5 233v1M442.5 236v1M442.5 247v3M442.5 254v4M442.5 259v2M442.5 269v1M442.5 296v1M442.5 302v1M442.5 305v1M442.5 310v1M442.5 315v1M442.5 321v1M442.5 330v1M442.5 339v1M442.5 345v1M442.5 355v1M442.5 389v1M442.5 393v1M442.5 397v1M442.5 400v1M443.5 75v1M443.5 77v1M443.5 118v1M443.5 122v1M443.5 128v1M443.5 132v1M443.5 139v1M443.5 155v1M443.5 159v1M443.5 173v1M443.5 184v1M443.5 299v1M443.5 318v1M443.5 326v1M443.5 331v1M443.5 336v1M443.5 350v1M443.5 364v1M443.5 372v1M443.5 375v1M443.5 406v1M447.5 87v1M447.5 95v1M447.5 99v1M447.5 121v1M447.5 131v1M447.5 140v1M447.5 165v1M447.5 169v1M447.5 174v1M447.5 177v1M447.5 179v1M447.5 182v2M447.5 188v1M447.5 193v1M447.5 195v1M447.5 205v1M447.5 209v1M447.5 211v1M447.5 213v1M447.5 219v1M447.5 221v1M447.5 224v1M447.5 226v1M447.5 228v1M447.5 231v1M447.5 234v2M447.5 239v1M447.5 242v1M447.5 244v1M447.5 274v1M447.5 277v1M447.5 280v1M447.5 284v2M447.5 295v1M447.5 301v1M447.5 305v2M447.5 321v1M447.5 323v1M447.5 350v1M447.5 403v1M448.5 73v1M448.5 110v1M448.5 129v1M448.5 156v1M448.5 168v1M448.5 176v1M448.5 182v1M448.5 211v1M448.5 213v1M448.5 218v1M448.5 220v2M448.5 225v1M448.5 229v1M448.5 233v1M448.5 235v1M448.5 237v1M448.5 241v1M448.5 243v1M448.5 245v2M448.5 248v1M448.5 251v1M448.5 298v1M448.5 300v1M448.5 303v1M448.5 310v1M448.5 313v1M448.5 316v1M448.5 328v1M448.5 334v1M448.5 339v1M448.5 351v1M448.5 355v1M448.5 357v1M448.5 382v1M448.5 394v1M448.5 402v1M449.5 75v1M449.5 105v1M449.5 112v1M449.5 115v1M449.5 117v1M449.5 121v1M449.5 124v1M449.5 135v1M449.5 144v1M449.5 153v1M449.5 157v1M449.5 161v1M449.5 167v1M449.5 172v1M449.5 175v1M449.5 183v1M449.5 189v1M449.5 203v1M449.5 205v3M449.5 209v38M449.5 248v7M449.5 256v1M449.5 263v1M449.5 265v1M449.5 271v1M449.5 311v1M449.5 315v1M449.5 322v1M449.5 327v1M449.5 330v1M449.5 345v1M449.5 347v1M449.5 356v1M449.5 359v1M449.5 380v1M450.5 80v1M450.5 89v1M450.5 98v1M450.5 107v1M450.5 119v1M450.5 123v1M450.5 130v1M450.5 132v1M450.5 134v1M450.5 137v1M450.5 159v1M450.5 174v1M450.5 204v1M450.5 206v1M450.5 209v2M450.5 212v4M450.5 217v19M450.5 237v2M450.5 240v8M450.5 249v4M450.5 255v1M450.5 261v1M450.5 302v1M450.5 312v1M450.5 329v1M450.5 338v1M450.5 346v1M450.5 353v1M450.5 355v1M450.5 357v1M450.5 368v1M450.5 370v1M450.5 381v1M450.5 386v1M451.5 76v1M451.5 84v1M451.5 94v1M451.5 97v1M451.5 112v1M451.5 128v1M451.5 145v1M451.5 155v1M451.5 157v1M451.5 161v1M451.5 163v1M451.5 166v1M451.5 168v1M451.5 208v1M451.5 216v1M451.5 220v2M451.5 225v1M451.5 232v1M451.5 235v1M451.5 242v2M451.5 308v2M451.5 336v1M451.5 339v1M451.5 348v1M451.5 358v1M451.5 375v1M451.5 377v1M451.5 391v1M451.5 397v1M451.5 400v1M451.5 403v1M452.5 90v1M452.5 117v1M452.5 123v1M452.5 127v1M452.5 129v1M452.5 132v1M452.5 135v1M452.5 141v1M452.5 160v1M452.5 164v1M452.5 294v1M452.5 301v1M452.5 309v1M452.5 321v1M452.5 342v1M452.5 357v1M452.5 361v1M452.5 382v1M452.5 404v1M453.5 110v1M453.5 121v1M453.5 138v1M453.5 155v1M453.5 176v1M453.5 179v1M453.5 189v1M453.5 203v1M453.5 205v2M453.5 211v3M453.5 215v5M453.5 222v3M453.5 226v2M453.5 229v8M453.5 238v1M453.5 240v9M453.5 251v1M453.5 253v4M453.5 259v1M453.5 294v1M453.5 298v1M453.5 302v1M453.5 305v1M453.5 322v1M453.5 349v1M453.5 365v1M453.5 369v1M453.5 375v1M453.5 380v1M453.5 399v1M454.5 75v1M454.5 87v1M454.5 105v1M454.5 114v1M454.5 119v1M454.5 133v1M454.5 135v1M454.5 141v1M454.5 143v1M454.5 147v1M454.5 151v1M454.5 154v1M454.5 156v1M454.5 163v1M454.5 165v1M454.5 173v1M454.5 181v2M454.5 216v1M454.5 225v1M454.5 245v1M454.5 248v1M454.5 272v1M454.5 311v1M454.5 321v1M454.5 325v1M454.5 328v1M454.5 346v1M454.5 348v1M454.5 350v1M454.5 352v1M454.5 354v1M454.5 357v1M454.5 362v1M454.5 364v1M454.5 370v1M454.5 374v1M454.5 382v1M454.5 386v1M454.5 390v1M454.5 401v1M455.5 108v1M455.5 116v1M455.5 137v1M455.5 148v1M455.5 150v1M455.5 175v1M455.5 318v1M455.5 331v1M455.5 336v1M455.5 342v1M455.5 345v1M455.5 353v1M455.5 385v1M487.5 170v1M487.5 192v1M487.5 198v1M487.5 200v1M487.5 209v1M487.5 212v1M487.5 214v1M487.5 227v1M487.5 232v2M487.5 235v1M487.5 237v1M487.5 241v2M487.5 244v3M487.5 250v1M487.5 253v1M487.5 257v1M487.5 259v1M487.5 265v1M487.5 272v1M487.5 286v1M487.5 368v1M488.5 112v1M488.5 125v1M488.5 133v1M488.5 160v1M488.5 167v1M488.5 172v1M488.5 178v1M488.5 181v1M488.5 186v1M488.5 190v1M488.5 197v1M488.5 228v1M488.5 239v1M488.5 270v1M488.5 274v1M488.5 276v1M488.5 283v1M488.5 292v1M488.5 298v1M488.5 305v1M488.5 309v1M488.5 312v1M488.5 325v1M488.5 337v1M488.5 341v1M488.5 359v1M488.5 364v1M488.5 402v1M489.5 96v1M489.5 111v1M489.5 134v1M489.5 165v1M489.5 177v1M489.5 179v1M489.5 204v1M489.5 209v1M489.5 213v2M489.5 220v5M489.5 226v6M489.5 233v17M489.5 251v3M489.5 255v4M489.5 261v1M489.5 284v1M489.5 288v1M489.5 295v1M489.5 313v1M489.5 319v1M489.5 326v1M489.5 333v1M489.5 360v1M489.5 363v1M489.5 375v1M489.5 389v1M489.5 409v1M490.5 86v1M490.5 94v1M490.5 98v1M490.5 109v1M490.5 117v1M490.5 121v1M490.5 124v1M490.5 143v1M490.5 153v1M490.5 158v1M490.5 174v1M490.5 183v1M490.5 185v1M490.5 202v1M490.5 205v1M490.5 207v55M490.5 263v2M490.5 266v1M490.5 277v1M490.5 295v1M490.5 298v1M490.5 303v1M490.5 306v1M490.5 309v1M490.5 324v1M490.5 327v1M490.5 336v1M490.5 347v1M490.5 358v1M490.5 362v1M490.5 377v1M490.5 386v1M490.5 390v1M490.5 396v1M490.5 401v1M491.5 106v1M491.5 119v1M491.5 126v1M491.5 133v1M491.5 135v1M491.5 139v1M491.5 141v1M491.5 144v1M491.5 148v1M491.5 151v1M491.5 163v1M491.5 168v1M491.5 178v1M491.5 181v1M491.5 187v1M491.5 213v1M491.5 215v2M491.5 218v3M491.5 222v34M491.5 257v1M491.5 259v2M491.5 262v2M491.5 297v1M491.5 312v1M491.5 316v1M491.5 318v1M491.5 328v1M491.5 331v1M491.5 342v1M491.5 347v1M491.5 353v1M491.5 356v1M491.5 369v1M491.5 373v1M491.5 393v1M491.5 400v1M491.5 402v1M491.5 408v1M492.5 103v1M492.5 105v1M492.5 116v1M492.5 118v1M492.5 124v1M492.5 130v1M492.5 153v1M492.5 156v1M492.5 158v1M492.5 162v1M492.5 221v1M492.5 227v1M492.5 229v2M492.5 236v1M492.5 239v1M492.5 243v2M492.5 254v1M492.5 322v1M492.5 330v1M492.5 337v1M492.5 339v1M492.5 341v1M492.5 357v1M492.5 366v1M492.5 377v1M492.5 382v1M492.5 398v1M493.5 101v1M493.5 136v1M493.5 146v1M493.5 161v1M493.5 174v1M493.5 182v1M493.5 205v1M493.5 208v1M493.5 215v1M493.5 217v1M493.5 220v1M493.5 222v12M493.5 235v4M493.5 240v6M493.5 247v3M493.5 251v6M493.5 258v1M493.5 260v1M493.5 297v1M493.5 302v1M493.5 311v1M493.5 318v1M493.5 342v1M493.5 349v1M493.5 371v1M493.5 380v1M493.5 388v1M493.5 393v1M493.5 399v1M494.5 83v1M494.5 87v1M494.5 92v1M494.5 109v1M494.5 115v1M494.5 122v1M494.5 137v1M494.5 165v1M494.5 167v1M494.5 170v1M494.5 183v1M494.5 186v1M494.5 188v1M494.5 220v3M494.5 225v1M494.5 227v2M494.5 232v1M494.5 236v1M494.5 238v2M494.5 241v3M494.5 246v3M494.5 250v2M494.5 253v2M494.5 275v1M494.5 313v1M494.5 333v1M494.5 339v1M494.5 350v1M494.5 357v1M494.5 361v1M494.5 378v1M494.5 386v1M494.5 389v1M494.5 394v1M494.5 401v1M494.5 408v1M495.5 82v1M495.5 108v1M495.5 120v1M495.5 130v1M495.5 139v1M495.5 148v1M495.5 175v1M495.5 188v1M495.5 213v1M495.5 229v1M495.5 236v1M495.5 253v1M495.5 301v1M495.5 310v1M495.5 315v1M495.5 322v1M495.5 335v1M495.5 340v1M495.5 348v1M495.5 354v1M495.5 395v1M496.5 87v1M496.5 98v1M496.5 147v1M496.5 185v1M496.5 220v1M496.5 223v1M496.5 226v3M496.5 231v1M496.5 233v1M496.5 235v1M496.5 239v3M496.5 243v5M496.5 251v1M496.5 256v1M496.5 259v1M496.5 262v1M496.5 288v1M496.5 291v1M496.5 296v1M496.5 299v1M496.5 306v1M496.5 320v1M496.5 338v1M496.5 345v1M496.5 351v1M496.5 360v1M496.5 368v1M496.5 375v1M496.5 387v1M496.5 392v1M497.5 131v1M497.5 143v1M497.5 146v1M497.5 150v1M497.5 171v1M497.5 176v1M497.5 181v1M497.5 183v1M497.5 185v1M497.5 187v1M497.5 201v1M497.5 217v1M497.5 224v2M497.5 228v2M497.5 231v7M497.5 239v1M497.5 241v3M497.5 245v2M497.5 250v4M497.5 259v1M497.5 261v1M497.5 275v1M497.5 286v1M497.5 297v1M497.5 300v1M497.5 305v1M497.5 311v1M497.5 314v1M497.5 317v1M497.5 322v1M497.5 325v1M497.5 328v1M497.5 339v1M497.5 364v1M497.5 380v1M497.5 382v1M497.5 394v1M497.5 396v1M497.5 398v1M498.5 80v1M498.5 82v1M498.5 137v1M498.5 139v1M498.5 147v1M498.5 152v1M498.5 155v1M498.5 161v1M498.5 168v1M498.5 177v1M498.5 219v1M498.5 226v1M498.5 238v1M498.5 252v1M498.5 255v1M498.5 293v1M498.5 302v1M498.5 310v1M498.5 312v1M498.5 316v1M498.5 326v1M498.5 330v1M498.5 334v1M498.5 336v1M498.5 345v1M498.5 353v1M498.5 357v1M498.5 391v1M498.5 406v1M499.5 103v1M499.5 125v1M499.5 175v1M499.5 177v1M499.5 179v1M499.5 181v1M499.5 183v1M499.5 216v3M499.5 220v3M499.5 224v5M499.5 230v8M499.5 239v4M499.5 244v2M499.5 247v5M499.5 253v4M499.5 261v1M499.5 277v1M499.5 304v1M499.5 307v1M499.5 309v1M499.5 316v1M499.5 342v1M499.5 395v1M500.5 92v1M500.5 101v1M500.5 110v1M500.5 141v1M500.5 155v1M500.5 157v1M500.5 165v1M500.5 168v1M500.5 170v1M500.5 172v1M500.5 295v1M500.5 302v1M500.5 304v1M500.5 319v1M500.5 321v1M500.5 333v1M500.5 337v1M500.5 345v1M500.5 348v1M500.5 356v1M500.5 358v1M500.5 364v1M500.5 368v1M500.5 389v1M500.5 396v1M500.5 399v1M500.5 402v1M500.5 408v1M501.5 104v1M501.5 160v1M501.5 171v1M501.5 288v1M501.5 314v1M501.5 318v1M501.5 352v1M501.5 357v1M501.5 373v1M501.5 379v1M501.5 395v1M502.5 77v1M502.5 120v1M502.5 183v1M502.5 186v1M502.5 188v1M502.5 193v1M502.5 287v1M502.5 294v1M502.5 296v1M502.5 305v1M502.5 313v1M502.5 320v1M502.5 327v1M502.5 333v1M533.5 186v1M533.5 190v1M533.5 198v1M533.5 201v1M533.5 206v2M533.5 209v1M533.5 211v2M533.5 261v1M533.5 313v1M533.5 325v1M533.5 327v1M533.5 333v1M533.5 340v1M533.5 346v1M533.5 360v1M533.5 376v1M533.5 395v1M534.5 151v1M534.5 173v1M534.5 183v1M534.5 188v1M534.5 194v1M534.5 200v1M534.5 205v1M534.5 312v1M534.5 331v1M534.5 347v2M534.5 352v1M534.5 363v1M534.5 366v1M534.5 368v1M534.5 401v1M535.5 139v1M535.5 142v1M535.5 159v1M535.5 181v1M535.5 191v1M535.5 202v1M535.5 325v1M535.5 335v1M535.5 342v1M535.5 345v1M535.5 351v1M535.5 364v1M535.5 371v1M535.5 391v1M536.5 148v1M536.5 179v1M536.5 193v1M536.5 196v1M536.5 203v1M536.5 205v1M536.5 210v1M536.5 346v1M536.5 359v1M536.5 361v1M536.5 365v1M536.5 369v1M536.5 380v1M536.5 392v1M537.5 131v1M537.5 166v1M537.5 211v1M537.5 224v1M537.5 234v1M537.5 294v1M537.5 300v1M537.5 302v2M537.5 341v1M537.5 352v1M537.5 389v1M538.5 116v1M538.5 145v1M538.5 172v1M538.5 175v1M538.5 180v1M538.5 188v1M538.5 194v1M538.5 197v1M538.5 203v1M538.5 210v1M538.5 313v1M538.5 322v1M538.5 331v1M538.5 337v1M538.5 346v1M538.5 349v1M538.5 354v1M538.5 359v1M538.5 370v1M538.5 375v1M538.5 408v1M539.5 185v1M539.5 196v1M539.5 198v1M539.5 313v1M539.5 318v1M539.5 322v1M539.5 332v1M539.5 337v1M539.5 350v1M539.5 373v1M539.5 378v1M539.5 391v1M539.5 394v1M539.5 398v1M540.5 159v1M540.5 193v1M540.5 202v1M540.5 206v1M540.5 337v1M540.5 339v1M540.5 357v1M540.5 360v1M540.5 381v1M541.5 188v1M541.5 202v1M541.5 205v1M541.5 315v1M541.5 355v1M541.5 384v1M541.5 388v1M541.5 395v1M542.5 76v1M542.5 82v1M542.5 85v1M542.5 87v1M542.5 96v1M542.5 108v1M542.5 113v1M542.5 116v1M542.5 118v1M542.5 126v1M542.5 132v1M542.5 139v1M542.5 153v1M542.5 160v1M542.5 168v1M542.5 201v1M542.5 206v1M542.5 208v1M542.5 236v1M542.5 325v1M542.5 332v1M542.5 334v1M542.5 340v1M542.5 342v1M542.5 347v1M542.5 352v1M542.5 356v1M542.5 370v1M542.5 382v1M543.5 174v1M543.5 183v1M543.5 189v1M543.5 194v1M543.5 199v1M543.5 204v1M543.5 329v1M543.5 341v1M543.5 350v1M543.5 358v1M543.5 360v1M543.5 363v1M543.5 375v1M543.5 378v1M543.5 383v1M543.5 392v1M543.5 400v1M544.5 160v1M544.5 165v1M544.5 177v1M544.5 203v1M544.5 343v1M544.5 352v1M544.5 361v1M544.5 371v1M544.5 373v1M544.5 377v1M544.5 385v1M544.5 398v1M546.5 89v1M546.5 91v1M546.5 106v1M546.5 209v1M546.5 226v1M546.5 230v1M546.5 238v1M546.5 240v1M546.5 242v1M546.5 246v1M546.5 249v1M546.5 258v1M546.5 263v1M546.5 265v1M546.5 277v1M546.5 281v1M546.5 288v1M546.5 305v1M546.5 308v1M546.5 310v1M546.5 314v1M546.5 318v1M546.5 322v1M546.5 325v1M547.5 216v1M547.5 225v1M547.5 282v1M547.5 342v1M547.5 350v1M547.5 355v1M547.5 359v1M547.5 370v1M547.5 375v1M547.5 381v1M547.5 388v1M547.5 395v1M547.5 398v1M548.5 209v1M549.5 240v1M549.5 242v1M549.5 268v2M549.5 272v1M549.5 280v1M549.5 282v1M549.5 284v1M549.5 288v1M549.5 290v1M549.5 298v1M549.5 300v1M549.5 306v1M549.5 310v1M549.5 316v1M549.5 322v1M549.5 324v1M549.5 326v1M549.5 331v1M549.5 333v1M549.5 337v1M549.5 340v1M549.5 342v1M549.5 367v1M549.5 403v1M550.5 136v1M550.5 154v1M550.5 162v1M550.5 174v1M550.5 192v1M550.5 195v1M550.5 202v1M550.5 205v1M550.5 212v1M550.5 215v1M550.5 218v1M550.5 223v1M550.5 226v1M550.5 228v1M550.5 230v1M550.5 233v1M550.5 351v1M550.5 356v1M550.5 362v1M550.5 374v1M550.5 377v1M550.5 387v1M550.5 394v1M550.5 410v1M551.5 151v1M551.5 166v1M551.5 180v1M551.5 183v1M551.5 190v1M551.5 198v1M551.5 220v1M551.5 225v1M551.5 234v1M551.5 354v1M551.5 357v1M551.5 359v1M551.5 371v1M552.5 156v1M552.5 164v1M552.5 207v1M552.5 212v1M552.5 223v1M552.5 229v1M552.5 346v1M552.5 367v1M552.5 376v1M552.5 384v1M552.5 392v1M552.5 405v1M553.5 209v1M553.5 211v1M553.5 215v1M553.5 217v1M553.5 230v1M553.5 300v1M553.5 350v1M553.5 353v1M553.5 359v1M553.5 361v1M553.5 364v1M553.5 382v1M553.5 385v1M553.5 390v1M554.5 203v1M554.5 206v1M554.5 357v1M554.5 402v1"/><path stroke="#84b4d6" d="M104.5 214v1M104.5 216v1M104.5 222v1M104.5 228v1M104.5 233v1M104.5 236v1M104.5 247v2M104.5 255v1M105.5 217v1M105.5 221v2M105.5 231v1M105.5 235v1M105.5 237v1M105.5 242v1M105.5 244v3M105.5 248v1M105.5 254v1M105.5 267v1M105.5 271v1M177.5 176v1M205.5 214v1M205.5 238v1M205.5 245v1M205.5 253v1M205.5 258v1M206.5 188v1M206.5 191v1M206.5 199v1M206.5 203v1M206.5 210v2M206.5 214v1M206.5 216v1M206.5 229v1M206.5 235v2M206.5 244v1M206.5 250v2M206.5 261v1M206.5 264v1M206.5 269v1M207.5 172v1M207.5 189v1M207.5 192v1M207.5 196v1M207.5 239v1M207.5 241v1M207.5 244v1M207.5 246v1M207.5 262v1M207.5 280v1M208.5 162v1M208.5 206v1M208.5 208v1M208.5 211v1M208.5 213v2M208.5 216v1M208.5 220v1M208.5 230v2M208.5 238v2M208.5 245v1M208.5 247v1M208.5 259v1M208.5 271v1M209.5 203v1M209.5 206v1M209.5 210v2M209.5 214v1M209.5 227v1M209.5 230v1M209.5 249v1M209.5 258v1M209.5 268v1M210.5 195v1M210.5 207v1M210.5 211v1M210.5 213v1M210.5 215v1M210.5 218v1M210.5 245v1M210.5 256v1M210.5 264v2M210.5 267v1M210.5 269v1M210.5 271v2M210.5 276v2M210.5 321v1M210.5 325v1M210.5 344v1M210.5 358v1M210.5 366v1M211.5 171v1M211.5 210v1M211.5 214v1M211.5 216v1M211.5 219v1M211.5 223v1M211.5 235v1M211.5 240v1M211.5 246v1M211.5 250v1M211.5 252v1M211.5 254v1M211.5 261v2M211.5 264v2M211.5 269v2M211.5 281v1M212.5 201v1M212.5 264v1M212.5 275v1M212.5 277v1M213.5 196v1M213.5 204v1M213.5 209v2M213.5 214v1M213.5 216v1M213.5 221v1M213.5 246v1M213.5 255v1M213.5 260v2M213.5 267v1M213.5 271v1M214.5 198v1M214.5 215v1M214.5 240v1M214.5 247v1M214.5 254v1M214.5 261v2M214.5 267v1M215.5 207v1M215.5 216v3M215.5 227v1M215.5 231v2M215.5 238v1M215.5 246v1M215.5 255v1M215.5 259v1M215.5 265v1M216.5 194v1M216.5 203v1M216.5 226v1M216.5 250v1M216.5 260v1M216.5 269v1M216.5 271v1M216.5 274v1M216.5 296v2M217.5 125v1M217.5 162v1M217.5 191v1M217.5 200v1M217.5 208v1M217.5 213v1M217.5 220v2M217.5 223v2M217.5 228v1M217.5 230v1M217.5 234v2M217.5 252v1M217.5 257v1M217.5 263v1M217.5 272v1M217.5 274v3M217.5 283v1M218.5 181v1M218.5 190v1M218.5 192v1M218.5 196v1M218.5 203v1M218.5 212v1M218.5 228v1M218.5 236v2M218.5 241v1M218.5 251v2M218.5 264v1M218.5 270v1M218.5 274v1M218.5 278v1M218.5 282v2M219.5 190v2M219.5 199v1M219.5 204v2M219.5 207v1M219.5 209v1M219.5 212v1M219.5 214v1M219.5 224v1M219.5 226v2M219.5 229v1M219.5 231v2M219.5 234v1M219.5 237v1M219.5 239v3M219.5 243v1M219.5 246v1M219.5 249v1M219.5 251v3M219.5 256v2M219.5 261v4M219.5 266v1M219.5 268v1M219.5 283v1M220.5 185v1M220.5 190v2M220.5 196v1M220.5 218v1M220.5 223v1M220.5 282v1M221.5 189v2M221.5 251v1M221.5 277v1M221.5 279v1M221.5 282v2M221.5 289v1M223.5 153v1M223.5 201v1M223.5 209v1M223.5 254v1M223.5 257v1M223.5 280v1M223.5 286v1M223.5 304v1M223.5 335v1M223.5 343v1M223.5 357v1M223.5 367v1M223.5 388v1M223.5 403v1M224.5 160v1M224.5 279v1M252.5 128v1M252.5 147v1M252.5 158v1M252.5 170v1M252.5 172v1M252.5 178v1M252.5 185v1M252.5 246v1M253.5 213v1M253.5 227v1M253.5 232v1M253.5 245v1M253.5 249v1M253.5 251v1M253.5 254v1M253.5 264v1M254.5 211v1M254.5 220v2M254.5 225v2M254.5 228v2M254.5 254v1M255.5 216v1M255.5 221v1M255.5 228v1M255.5 230v1M255.5 233v1M255.5 239v1M255.5 245v1M255.5 253v1M256.5 209v1M256.5 215v1M256.5 235v1M256.5 243v2M256.5 259v1M256.5 265v1M257.5 221v1M257.5 226v1M257.5 239v1M257.5 242v1M257.5 244v1M257.5 247v1M257.5 258v1M262.5 209v3M262.5 226v1M262.5 236v2M262.5 245v1M262.5 260v2M263.5 235v2M263.5 261v1M263.5 288v1M265.5 208v1M265.5 218v1M265.5 223v1M265.5 236v1M265.5 257v1M265.5 260v1M266.5 216v1M266.5 219v2M266.5 229v1M266.5 231v1M266.5 237v1M266.5 244v2M266.5 248v2M267.5 199v1M267.5 201v1M267.5 206v2M267.5 209v1M267.5 211v1M267.5 219v1M267.5 223v1M267.5 228v1M267.5 235v1M267.5 259v1M267.5 264v1M267.5 266v1M267.5 268v1M267.5 302v1M268.5 195v1M268.5 201v1M268.5 204v1M268.5 212v1M268.5 220v1M268.5 222v1M268.5 228v1M268.5 243v1M268.5 247v1M268.5 266v1M268.5 268v1M269.5 190v1M269.5 209v1M269.5 229v1M269.5 231v1M269.5 236v1M269.5 238v1M269.5 257v1M269.5 265v1M269.5 268v2M269.5 273v1M270.5 200v1M270.5 202v1M270.5 206v1M270.5 221v1M270.5 230v1M270.5 232v1M270.5 237v1M270.5 244v1M270.5 256v1M270.5 262v1M270.5 267v2M270.5 270v1M270.5 273v1M271.5 186v1M271.5 190v1M271.5 198v2M271.5 203v1M271.5 205v1M271.5 210v1M271.5 217v2M271.5 220v1M271.5 224v1M271.5 244v1M271.5 246v1M271.5 249v1M271.5 255v1M271.5 261v2M271.5 266v3M271.5 271v1M272.5 184v1M272.5 186v1M272.5 196v1M272.5 198v1M272.5 207v1M272.5 225v1M272.5 228v1M272.5 238v1M272.5 241v1M272.5 254v1M272.5 260v1M272.5 262v1M272.5 266v1M272.5 282v1M272.5 392v1M296.5 306v1M296.5 320v1M296.5 322v1M299.5 210v2M299.5 221v1M299.5 225v1M299.5 227v1M299.5 238v1M299.5 240v1M299.5 244v1M299.5 246v1M300.5 186v1M300.5 195v2M300.5 200v1M300.5 211v1M300.5 224v1M300.5 226v1M300.5 229v1M300.5 232v1M300.5 239v1M300.5 250v1M300.5 283v1M301.5 198v2M301.5 204v1M301.5 212v1M301.5 216v1M301.5 218v1M301.5 222v1M301.5 225v1M301.5 228v1M301.5 232v5M301.5 242v1M301.5 244v1M301.5 247v1M301.5 249v1M301.5 252v2M301.5 259v1M301.5 264v1M302.5 184v1M302.5 198v1M302.5 209v1M302.5 224v1M302.5 226v1M302.5 228v2M302.5 232v1M302.5 234v1M302.5 237v1M302.5 239v2M302.5 243v1M302.5 245v1M302.5 249v1M302.5 255v2M303.5 180v1M303.5 194v3M303.5 200v1M303.5 202v1M303.5 204v1M303.5 215v1M303.5 225v2M303.5 228v1M303.5 230v2M303.5 234v1M303.5 236v1M303.5 238v2M303.5 244v1M303.5 246v2M303.5 251v1M303.5 259v1M303.5 261v1M304.5 188v1M304.5 191v1M304.5 195v1M304.5 201v1M304.5 206v1M304.5 208v1M304.5 227v1M304.5 250v1M304.5 264v2M304.5 277v1M305.5 192v1M305.5 195v1M305.5 208v2M305.5 220v1M305.5 222v1M305.5 230v1M305.5 236v1M305.5 253v1M305.5 256v1M305.5 258v1M305.5 260v1M306.5 174v1M306.5 204v1M306.5 210v2M306.5 215v1M306.5 219v1M306.5 223v1M306.5 233v1M306.5 235v1M306.5 240v1M306.5 243v1M306.5 249v1M306.5 255v1M306.5 260v2M307.5 215v1M307.5 219v1M307.5 232v1M307.5 238v1M307.5 241v1M307.5 246v1M307.5 251v1M307.5 255v1M307.5 258v4M308.5 207v2M308.5 213v1M308.5 216v2M308.5 229v1M308.5 236v2M308.5 244v1M308.5 247v2M308.5 254v2M308.5 269v1M308.5 279v1M309.5 203v1M309.5 209v1M309.5 211v1M309.5 213v1M309.5 222v1M309.5 235v1M309.5 239v1M309.5 242v1M309.5 247v1M309.5 256v2M309.5 259v1M309.5 262v1M309.5 266v1M309.5 269v1M309.5 271v1M309.5 274v1M309.5 276v1M309.5 284v1M310.5 211v1M310.5 214v3M310.5 220v1M310.5 222v1M310.5 228v1M310.5 232v1M310.5 236v2M310.5 243v1M310.5 255v1M310.5 261v1M310.5 269v1M310.5 275v1M310.5 281v1M311.5 203v1M311.5 209v1M311.5 211v1M311.5 217v1M311.5 221v1M311.5 223v1M311.5 226v1M311.5 230v2M311.5 234v1M311.5 236v1M311.5 240v1M311.5 244v2M311.5 249v1M311.5 251v2M311.5 254v1M311.5 262v1M311.5 264v1M311.5 266v1M311.5 268v1M312.5 186v1M312.5 203v1M312.5 231v1M312.5 262v1M312.5 265v1M312.5 277v1M313.5 189v1M313.5 196v1M313.5 201v1M313.5 215v1M313.5 220v1M313.5 227v1M313.5 229v1M313.5 237v1M313.5 245v1M313.5 248v1M313.5 250v1M314.5 177v1M314.5 179v1M314.5 197v1M314.5 207v1M314.5 209v2M314.5 213v1M314.5 219v1M314.5 226v1M314.5 228v1M314.5 244v1M314.5 252v3M314.5 261v2M314.5 266v2M315.5 185v1M315.5 192v1M315.5 199v2M315.5 203v2M315.5 211v2M315.5 216v2M315.5 226v2M315.5 229v1M315.5 232v2M315.5 235v4M315.5 240v1M315.5 243v1M315.5 246v1M315.5 249v3M315.5 255v1M315.5 259v1M316.5 190v1M316.5 192v1M316.5 198v4M316.5 203v1M316.5 208v1M316.5 221v1M316.5 228v1M316.5 231v2M316.5 235v1M316.5 242v1M316.5 246v2M316.5 261v1M316.5 269v2M317.5 172v1M317.5 187v2M317.5 200v3M317.5 204v1M317.5 218v1M317.5 220v1M317.5 265v1M317.5 281v1M342.5 372v1M342.5 395v1M342.5 402v1M345.5 223v1M345.5 225v1M346.5 206v1M346.5 210v1M346.5 260v1M347.5 237v1M347.5 245v1M347.5 247v1M347.5 251v1M347.5 256v1M348.5 218v1M348.5 235v1M348.5 237v1M348.5 243v1M348.5 249v3M348.5 256v1M392.5 370v1M392.5 373v1M392.5 386v1M392.5 394v1M393.5 382v1M440.5 160v1M440.5 185v1M440.5 188v1M440.5 192v1M440.5 200v1M440.5 204v1M440.5 207v1M440.5 212v2M440.5 217v1M440.5 221v2M440.5 224v1M440.5 227v1M440.5 229v1M440.5 231v3M440.5 241v2M440.5 244v2M440.5 248v1M440.5 252v2M440.5 256v1M440.5 258v1M440.5 260v3M440.5 267v3M440.5 271v1M440.5 273v1M440.5 276v1M440.5 283v1M440.5 298v1M440.5 346v1M441.5 88v1M441.5 98v1M441.5 122v1M441.5 154v1M441.5 164v1M441.5 178v2M441.5 183v1M441.5 189v1M441.5 192v2M441.5 205v5M441.5 212v1M441.5 216v1M441.5 219v10M441.5 230v2M441.5 234v2M441.5 242v2M441.5 245v1M441.5 247v1M441.5 249v2M441.5 253v1M441.5 255v4M441.5 261v3M441.5 268v1M441.5 270v1M441.5 272v1M441.5 276v1M441.5 281v2M441.5 284v2M441.5 306v2M441.5 312v1M441.5 318v1M441.5 325v2M441.5 337v1M441.5 343v1M441.5 347v1M441.5 352v1M441.5 356v2M442.5 137v1M442.5 154v1M442.5 158v1M442.5 165v1M442.5 175v1M442.5 178v1M442.5 180v1M442.5 186v1M442.5 200v3M442.5 204v8M442.5 214v4M442.5 219v1M442.5 223v1M442.5 226v4M442.5 231v1M442.5 234v2M442.5 237v6M442.5 244v3M442.5 250v3M442.5 258v1M442.5 261v8M442.5 272v2M442.5 276v1M442.5 282v1M442.5 287v1M442.5 290v2M442.5 293v1M442.5 295v1M442.5 301v1M442.5 303v2M442.5 308v1M442.5 314v1M442.5 317v1M442.5 319v1M442.5 322v2M442.5 337v2M442.5 342v2M442.5 356v2M443.5 74v1M443.5 123v1M443.5 142v1M443.5 146v1M443.5 149v1M443.5 152v1M443.5 162v1M443.5 164v2M443.5 172v1M443.5 181v1M443.5 185v1M443.5 302v1M443.5 308v1M443.5 310v1M443.5 312v1M443.5 323v1M443.5 334v1M443.5 342v1M443.5 345v1M443.5 349v1M443.5 351v1M443.5 356v2M443.5 405v1M447.5 132v1M447.5 189v1M447.5 197v1M447.5 199v2M447.5 202v3M447.5 207v2M447.5 210v1M447.5 212v1M447.5 214v5M447.5 220v1M447.5 222v2M447.5 229v2M447.5 232v2M447.5 236v3M447.5 240v2M447.5 245v16M447.5 262v1M447.5 268v1M447.5 270v1M447.5 272v1M447.5 278v1M447.5 287v1M447.5 324v2M448.5 155v1M448.5 164v2M448.5 169v1M448.5 171v2M448.5 177v1M448.5 183v1M448.5 193v2M448.5 198v1M448.5 200v2M448.5 204v7M448.5 212v1M448.5 214v4M448.5 219v1M448.5 222v2M448.5 226v3M448.5 230v3M448.5 234v1M448.5 236v1M448.5 238v1M448.5 240v1M448.5 244v1M448.5 247v1M448.5 249v2M448.5 253v5M448.5 259v1M448.5 266v1M448.5 269v1M448.5 285v1M448.5 287v1M448.5 294v1M448.5 301v1M448.5 305v1M448.5 312v1M448.5 314v1M448.5 317v1M448.5 324v2M448.5 329v1M448.5 335v1M448.5 349v1M448.5 395v1M449.5 154v2M449.5 171v1M449.5 173v1M449.5 186v2M449.5 199v4M449.5 204v1M449.5 208v1M449.5 247v1M449.5 255v1M449.5 257v6M449.5 268v3M449.5 273v1M449.5 276v1M449.5 280v2M449.5 283v3M449.5 294v1M449.5 306v1M449.5 313v1M449.5 319v1M449.5 326v1M449.5 331v1M449.5 333v2M449.5 336v1M449.5 339v1M449.5 351v1M450.5 75v1M450.5 110v1M450.5 115v1M450.5 117v1M450.5 122v1M450.5 124v1M450.5 131v1M450.5 136v1M450.5 142v1M450.5 148v1M450.5 152v1M450.5 167v1M450.5 172v1M450.5 193v1M450.5 196v8M450.5 205v1M450.5 207v2M450.5 211v1M450.5 216v1M450.5 236v1M450.5 239v1M450.5 248v1M450.5 253v2M450.5 256v2M450.5 259v1M450.5 263v1M450.5 268v2M450.5 279v1M450.5 290v1M450.5 301v1M450.5 313v1M450.5 316v1M450.5 320v1M450.5 324v1M450.5 327v1M450.5 332v1M450.5 334v1M450.5 359v1M451.5 83v1M451.5 89v1M451.5 142v1M451.5 146v3M451.5 151v1M451.5 154v1M451.5 159v1M451.5 169v1M451.5 171v2M451.5 174v1M451.5 183v1M451.5 198v1M451.5 200v1M451.5 202v1M451.5 204v1M451.5 209v2M451.5 212v3M451.5 217v3M451.5 222v3M451.5 226v6M451.5 233v2M451.5 236v2M451.5 239v3M451.5 244v4M451.5 249v3M451.5 253v3M451.5 257v3M451.5 263v1M451.5 267v1M451.5 270v1M451.5 272v1M451.5 288v1M451.5 298v1M451.5 301v1M451.5 304v1M451.5 316v2M451.5 322v1M451.5 325v1M451.5 328v1M451.5 332v1M451.5 335v1M451.5 344v1M451.5 349v1M451.5 359v2M452.5 97v1M452.5 130v1M452.5 150v2M452.5 162v1M452.5 169v1M452.5 196v1M452.5 199v1M452.5 204v1M452.5 209v1M452.5 213v1M452.5 215v3M452.5 223v1M452.5 225v1M452.5 228v1M452.5 230v2M452.5 234v2M452.5 239v1M452.5 244v2M452.5 247v2M452.5 250v1M452.5 256v3M452.5 260v2M452.5 273v1M452.5 286v1M452.5 293v1M452.5 297v2M452.5 306v1M452.5 313v2M452.5 323v1M452.5 325v1M452.5 332v4M452.5 344v1M452.5 355v1M452.5 377v1M453.5 129v1M453.5 134v1M453.5 160v2M453.5 178v1M453.5 182v1M453.5 185v2M453.5 190v1M453.5 195v1M453.5 197v6M453.5 204v1M453.5 207v4M453.5 214v1M453.5 220v2M453.5 225v1M453.5 228v1M453.5 237v1M453.5 239v1M453.5 249v2M453.5 252v1M453.5 257v2M453.5 260v3M453.5 264v4M453.5 269v1M453.5 271v1M453.5 273v1M453.5 276v1M453.5 284v1M453.5 290v2M453.5 297v1M453.5 299v1M453.5 301v1M453.5 307v2M453.5 310v1M453.5 312v3M453.5 318v1M453.5 332v1M453.5 334v3M453.5 342v1M454.5 104v1M454.5 110v1M454.5 113v1M454.5 138v1M454.5 142v1M454.5 144v1M454.5 146v1M454.5 152v1M454.5 161v1M454.5 166v1M454.5 172v1M454.5 180v1M454.5 183v1M454.5 203v2M454.5 207v1M454.5 209v1M454.5 212v1M454.5 214v2M454.5 217v2M454.5 220v3M454.5 224v1M454.5 226v18M454.5 246v1M454.5 249v3M454.5 253v3M454.5 257v1M454.5 262v1M454.5 280v1M454.5 293v1M454.5 296v1M454.5 299v1M454.5 303v1M454.5 306v1M454.5 320v1M454.5 324v1M454.5 326v2M454.5 333v2M455.5 127v2M455.5 142v1M455.5 174v1M455.5 184v1M455.5 213v1M455.5 283v1M455.5 295v1M455.5 306v1M455.5 322v1M455.5 328v1M455.5 333v1M455.5 343v1M455.5 364v1M455.5 374v1M455.5 390v1M487.5 223v1M487.5 229v1M487.5 249v1M487.5 266v1M488.5 191v2M488.5 198v1M488.5 203v1M488.5 210v1M488.5 212v1M488.5 214v1M488.5 218v1M488.5 221v1M488.5 224v4M488.5 229v2M488.5 233v2M488.5 237v1M488.5 242v1M488.5 244v3M488.5 250v3M488.5 254v1M488.5 256v2M488.5 260v1M488.5 264v2M488.5 271v3M488.5 275v1M488.5 291v1M488.5 306v1M489.5 164v1M489.5 180v1M489.5 195v2M489.5 198v2M489.5 202v1M489.5 206v3M489.5 210v1M489.5 212v1M489.5 215v5M489.5 225v1M489.5 232v1M489.5 250v1M489.5 254v1M489.5 259v2M489.5 262v5M489.5 268v5M489.5 275v1M489.5 287v1M489.5 289v2M489.5 294v1M489.5 314v1M490.5 95v1M490.5 157v1M490.5 176v1M490.5 186v2M490.5 190v1M490.5 198v2M490.5 201v1M490.5 203v2M490.5 206v1M490.5 262v1M490.5 265v1M490.5 267v4M490.5 274v1M490.5 279v1M490.5 289v2M490.5 297v1M490.5 302v1M490.5 314v1M490.5 323v1M490.5 326v1M490.5 332v2M490.5 351v1M490.5 360v1M490.5 395v1M491.5 150v1M491.5 176v1M491.5 179v1M491.5 200v1M491.5 203v2M491.5 206v1M491.5 208v3M491.5 212v1M491.5 214v1M491.5 217v1M491.5 221v1M491.5 256v1M491.5 258v1M491.5 261v1M491.5 264v4M491.5 271v1M491.5 276v1M491.5 294v1M491.5 296v1M491.5 310v1M491.5 313v2M491.5 321v1M491.5 343v1M491.5 349v1M491.5 354v1M491.5 358v1M491.5 370v1M491.5 372v1M491.5 390v1M491.5 407v1M492.5 144v1M492.5 151v1M492.5 154v2M492.5 168v1M492.5 176v1M492.5 183v2M492.5 203v1M492.5 207v1M492.5 209v3M492.5 213v1M492.5 215v3M492.5 219v2M492.5 222v1M492.5 224v3M492.5 231v2M492.5 234v2M492.5 238v1M492.5 241v2M492.5 245v9M492.5 255v3M492.5 259v1M492.5 261v1M492.5 291v1M492.5 294v1M492.5 298v1M492.5 301v1M492.5 307v2M492.5 313v2M492.5 316v3M492.5 321v1M492.5 326v1M492.5 336v1M492.5 343v1M492.5 354v1M492.5 372v1M492.5 381v1M492.5 389v1M492.5 391v1M492.5 407v1M493.5 152v2M493.5 162v1M493.5 191v1M493.5 193v1M493.5 195v1M493.5 197v1M493.5 202v1M493.5 206v1M493.5 209v1M493.5 211v4M493.5 216v1M493.5 218v2M493.5 221v1M493.5 234v1M493.5 239v1M493.5 246v1M493.5 250v1M493.5 257v1M493.5 261v4M493.5 267v1M493.5 269v1M493.5 273v1M493.5 276v1M493.5 283v1M493.5 289v1M493.5 294v1M493.5 296v1M493.5 300v1M493.5 319v1M493.5 322v1M493.5 330v2M493.5 341v1M494.5 114v1M494.5 162v3M494.5 174v1M494.5 179v2M494.5 187v1M494.5 189v1M494.5 192v1M494.5 199v1M494.5 207v3M494.5 211v1M494.5 214v6M494.5 223v2M494.5 226v1M494.5 229v3M494.5 233v3M494.5 237v1M494.5 240v1M494.5 244v2M494.5 249v1M494.5 252v1M494.5 255v5M494.5 261v1M494.5 263v1M494.5 265v1M494.5 271v1M494.5 279v1M494.5 293v1M494.5 298v1M494.5 302v2M494.5 305v1M494.5 307v1M494.5 309v1M494.5 317v1M494.5 324v1M494.5 330v1M494.5 334v1M494.5 393v1M495.5 131v1M495.5 165v1M495.5 171v1M495.5 177v1M495.5 182v3M495.5 189v1M495.5 193v2M495.5 196v1M495.5 206v1M495.5 216v1M495.5 218v1M495.5 220v2M495.5 224v1M495.5 227v2M495.5 230v2M495.5 234v2M495.5 237v2M495.5 241v3M495.5 245v2M495.5 248v3M495.5 255v4M495.5 260v1M495.5 264v1M495.5 269v1M495.5 277v1M495.5 282v1M495.5 285v1M495.5 287v2M495.5 298v1M495.5 303v1M495.5 306v4M495.5 317v2M495.5 324v1M495.5 327v1M495.5 339v1M495.5 355v1M495.5 357v1M495.5 408v1M496.5 201v1M496.5 207v1M496.5 210v1M496.5 212v2M496.5 215v5M496.5 221v2M496.5 224v2M496.5 229v2M496.5 232v1M496.5 234v1M496.5 236v3M496.5 242v1M496.5 248v3M496.5 252v4M496.5 257v2M496.5 260v1M496.5 263v1M496.5 266v1M496.5 270v1M496.5 274v1M496.5 277v1M496.5 280v1M496.5 287v1M496.5 292v1M496.5 298v1M496.5 309v1M496.5 318v1M496.5 321v1M496.5 327v1M496.5 348v1M496.5 395v1M497.5 172v2M497.5 175v1M497.5 186v1M497.5 191v1M497.5 199v1M497.5 205v1M497.5 207v5M497.5 214v3M497.5 218v3M497.5 222v2M497.5 226v2M497.5 230v1M497.5 238v1M497.5 240v1M497.5 244v1M497.5 247v3M497.5 254v5M497.5 260v1M497.5 262v1M497.5 264v1M497.5 266v1M497.5 276v1M497.5 294v1M497.5 298v1M497.5 304v1M497.5 306v1M497.5 313v1M497.5 315v1M497.5 337v2M497.5 375v1M498.5 140v1M498.5 171v1M498.5 176v1M498.5 184v1M498.5 189v1M498.5 196v1M498.5 206v1M498.5 214v1M498.5 216v2M498.5 220v6M498.5 227v1M498.5 229v7M498.5 239v13M498.5 253v1M498.5 257v1M498.5 259v2M498.5 262v1M498.5 266v1M498.5 277v1M498.5 284v2M498.5 298v1M498.5 303v1M498.5 305v4M498.5 314v1M498.5 317v1M498.5 322v2M498.5 325v1M498.5 333v1M498.5 339v1M498.5 375v1M498.5 398v1M499.5 80v1M499.5 152v1M499.5 171v1M499.5 184v1M499.5 192v4M499.5 197v1M499.5 200v2M499.5 203v2M499.5 206v10M499.5 219v1M499.5 223v1M499.5 229v1M499.5 238v1M499.5 246v1M499.5 252v1M499.5 257v4M499.5 262v1M499.5 265v1M499.5 267v2M499.5 270v1M499.5 275v1M499.5 279v1M499.5 282v1M499.5 285v1M499.5 287v1M499.5 291v2M499.5 295v1M499.5 297v2M499.5 302v1M499.5 306v1M499.5 308v1M499.5 326v1M499.5 343v1M499.5 391v1M500.5 152v1M500.5 176v1M500.5 179v1M500.5 181v2M500.5 184v1M500.5 192v3M500.5 203v1M500.5 215v1M500.5 227v2M500.5 240v1M500.5 243v1M500.5 250v1M500.5 292v1M500.5 298v1M500.5 309v1M500.5 322v1M500.5 326v1M500.5 346v1M501.5 155v1M501.5 157v1M501.5 192v1M501.5 201v1M501.5 206v1M501.5 225v1M501.5 230v1M501.5 239v1M501.5 259v1M501.5 269v1M501.5 271v1M501.5 281v1M501.5 283v1M501.5 290v1M501.5 303v1M501.5 339v1M501.5 358v1M502.5 180v1M502.5 195v1M502.5 202v1M502.5 209v1M502.5 213v1M502.5 215v1M502.5 263v1M502.5 265v2M502.5 270v1M502.5 276v1M502.5 290v1M502.5 304v1M502.5 334v1M502.5 373v1M533.5 196v2M533.5 208v1M533.5 234v2M533.5 239v4M533.5 244v1M533.5 246v1M533.5 248v2M533.5 253v1M533.5 256v1M533.5 258v1M533.5 266v1M533.5 271v2M533.5 274v3M533.5 278v1M533.5 280v2M533.5 284v1M533.5 286v1M533.5 288v1M533.5 290v1M533.5 292v2M533.5 296v2M533.5 300v1M533.5 302v1M533.5 312v1M533.5 318v1M533.5 328v1M533.5 330v1M533.5 335v1M533.5 342v1M533.5 345v1M533.5 350v1M533.5 359v1M534.5 197v2M534.5 214v2M534.5 217v1M534.5 224v1M534.5 230v1M534.5 232v2M534.5 236v1M534.5 238v1M534.5 240v1M534.5 244v1M534.5 248v1M534.5 250v1M534.5 253v4M534.5 258v1M534.5 260v1M534.5 262v1M534.5 264v1M534.5 266v1M534.5 269v1M534.5 271v1M534.5 273v1M534.5 275v1M534.5 278v1M534.5 282v1M534.5 284v3M534.5 288v1M534.5 291v1M534.5 294v1M534.5 297v2M534.5 302v1M534.5 305v1M534.5 311v1M534.5 315v1M534.5 322v1M534.5 324v1M534.5 330v1M534.5 332v1M534.5 335v1M534.5 338v1M534.5 345v1M535.5 160v1M535.5 188v1M535.5 197v2M535.5 212v1M535.5 228v1M535.5 234v1M535.5 244v1M535.5 246v1M535.5 252v1M535.5 254v1M535.5 257v1M535.5 260v1M535.5 268v1M535.5 273v2M535.5 277v1M535.5 280v1M535.5 284v1M535.5 292v1M535.5 315v1M535.5 320v2M535.5 323v2M535.5 348v1M535.5 350v1M535.5 356v1M536.5 212v1M536.5 214v1M536.5 219v1M536.5 223v1M536.5 261v1M536.5 309v1M536.5 315v1M536.5 319v1M536.5 327v2M536.5 332v1M536.5 343v1M536.5 345v1M536.5 349v2M536.5 355v1M537.5 179v1M537.5 214v1M537.5 216v1M537.5 219v1M537.5 226v8M537.5 235v3M537.5 239v5M537.5 245v2M537.5 249v6M537.5 256v3M537.5 264v1M537.5 266v3M537.5 272v1M537.5 275v1M537.5 279v3M537.5 283v1M537.5 285v1M537.5 287v3M537.5 291v1M537.5 297v1M537.5 299v1M537.5 305v1M537.5 308v1M537.5 311v1M537.5 314v1M537.5 319v1M537.5 321v1M537.5 323v2M537.5 327v1M537.5 351v1M537.5 356v1M538.5 171v1M538.5 202v1M538.5 205v1M538.5 207v1M538.5 220v1M538.5 225v1M538.5 228v1M538.5 230v1M538.5 232v1M538.5 234v2M538.5 237v2M538.5 241v2M538.5 244v1M538.5 251v1M538.5 258v1M538.5 263v1M538.5 266v4M538.5 276v2M538.5 280v1M538.5 290v1M538.5 299v1M538.5 301v1M538.5 308v1M538.5 318v1M538.5 321v1M538.5 335v1M538.5 338v3M538.5 348v1M538.5 351v1M538.5 356v1M538.5 360v1M538.5 374v1M538.5 389v1M539.5 202v1M539.5 205v1M539.5 209v1M539.5 215v1M539.5 222v1M539.5 226v1M539.5 233v1M539.5 240v1M539.5 242v1M539.5 246v1M539.5 248v1M539.5 251v1M539.5 259v2M539.5 264v1M539.5 266v1M539.5 268v2M539.5 271v1M539.5 274v1M539.5 279v1M539.5 282v1M539.5 285v1M539.5 292v1M539.5 298v1M539.5 304v2M539.5 308v1M539.5 310v2M539.5 317v1M539.5 320v1M539.5 323v1M539.5 325v1M539.5 327v1M539.5 329v1M539.5 333v1M539.5 335v1M539.5 338v1M539.5 340v2M539.5 346v1M539.5 351v1M539.5 370v1M539.5 397v1M540.5 160v1M540.5 199v1M540.5 201v1M540.5 203v1M540.5 230v1M540.5 235v1M540.5 246v1M540.5 251v1M540.5 258v1M540.5 270v1M540.5 296v1M540.5 314v1M540.5 322v1M540.5 327v1M540.5 330v1M540.5 335v1M540.5 341v2M540.5 347v1M540.5 351v1M540.5 359v1M540.5 378v1M540.5 391v1M541.5 193v2M541.5 203v1M541.5 207v1M541.5 210v1M541.5 212v2M541.5 232v1M541.5 238v1M541.5 240v3M541.5 245v1M541.5 247v1M541.5 257v2M541.5 274v1M541.5 277v1M541.5 284v1M541.5 287v1M541.5 289v1M541.5 293v1M541.5 295v1M541.5 298v1M541.5 300v1M541.5 304v1M541.5 309v1M541.5 318v1M541.5 335v2M541.5 343v1M541.5 348v1M542.5 97v2M542.5 127v3M542.5 212v2M542.5 216v1M542.5 222v1M542.5 227v4M542.5 234v2M542.5 239v3M542.5 243v7M542.5 251v3M542.5 255v1M542.5 258v1M542.5 260v1M542.5 262v3M542.5 267v2M542.5 270v13M542.5 286v3M542.5 291v4M542.5 297v1M542.5 299v1M542.5 302v1M542.5 305v1M542.5 307v1M542.5 309v6M542.5 317v1M542.5 319v2M542.5 329v2M542.5 338v1M542.5 344v1M542.5 354v2M542.5 357v1M542.5 371v1M543.5 211v1M543.5 242v1M543.5 246v1M543.5 265v1M543.5 269v1M543.5 272v1M543.5 277v1M543.5 299v1M543.5 310v1M543.5 313v1M543.5 324v1M543.5 336v1M543.5 344v1M543.5 349v1M543.5 355v2M543.5 359v1M543.5 364v1M543.5 376v1M543.5 399v1M544.5 197v1M544.5 207v1M544.5 213v1M544.5 217v1M544.5 224v1M544.5 233v1M544.5 258v2M544.5 291v1M544.5 306v1M544.5 319v1M544.5 328v1M544.5 331v1M544.5 336v1M544.5 341v1M544.5 355v1M544.5 358v1M544.5 360v1M544.5 364v2M545.5 204v1M545.5 217v1M545.5 224v1M545.5 228v1M545.5 238v1M545.5 247v1M545.5 265v1M545.5 287v1M545.5 293v1M545.5 303v1M545.5 310v1M545.5 322v3M546.5 251v3M546.5 259v1M546.5 272v1M546.5 285v1M546.5 289v2M546.5 294v1M546.5 299v2M546.5 303v1M546.5 307v1M546.5 312v1M546.5 316v1M547.5 211v1M547.5 214v1M547.5 217v1M547.5 253v1M547.5 339v1M547.5 349v1M547.5 380v1M548.5 294v1M549.5 244v1M549.5 247v1M549.5 251v2M549.5 255v1M549.5 257v2M549.5 260v2M549.5 265v1M549.5 270v1M549.5 275v1M549.5 278v2M549.5 281v1M549.5 285v2M549.5 291v1M549.5 295v3M549.5 299v1M549.5 301v1M549.5 303v1M549.5 309v1M549.5 312v2M549.5 317v3M549.5 323v1M549.5 334v1M550.5 193v1M550.5 211v1M550.5 214v1M550.5 227v1M550.5 236v1M550.5 248v1M550.5 251v1M550.5 256v1M550.5 259v1M550.5 267v1M550.5 269v1M550.5 272v1M550.5 275v1M550.5 279v1M550.5 281v1M550.5 284v1M550.5 287v1M550.5 292v1M550.5 299v1M550.5 302v1M550.5 304v1M550.5 306v2M550.5 309v1M550.5 311v1M550.5 313v1M550.5 316v1M550.5 320v1M550.5 349v1M551.5 202v1M551.5 227v2M551.5 246v1M551.5 249v1M551.5 253v1M551.5 255v1M551.5 259v1M551.5 268v1M551.5 271v1M551.5 275v1M551.5 277v1M551.5 286v1M551.5 289v1M551.5 296v2M551.5 303v1M551.5 305v1M551.5 308v1M551.5 310v3M551.5 315v1M551.5 321v1M551.5 323v1M551.5 336v1M551.5 342v1M551.5 349v1M551.5 353v1M551.5 370v1M551.5 372v1M552.5 233v1M552.5 241v2M552.5 245v1M552.5 247v1M552.5 250v2M552.5 253v1M552.5 257v1M552.5 262v1M552.5 264v1M552.5 270v1M552.5 272v1M552.5 276v2M552.5 279v1M552.5 285v1M552.5 288v1M552.5 290v1M552.5 292v1M552.5 295v4M552.5 308v1M552.5 312v1M552.5 314v2M552.5 323v2M552.5 326v1M552.5 328v1M552.5 336v1M552.5 340v1M552.5 345v1M552.5 347v1M552.5 349v1M553.5 214v1M553.5 216v1M553.5 218v1M553.5 223v1M553.5 228v1M553.5 235v3M553.5 243v1M553.5 254v1M553.5 267v1M553.5 269v1M553.5 303v1M553.5 305v1M553.5 313v1M553.5 325v1M553.5 330v2M553.5 339v1M553.5 376v1M554.5 205v1M554.5 215v2M554.5 231v3M554.5 235v1M554.5 239v1M554.5 253v1M554.5 255v1M554.5 276v1M554.5 305v1M554.5 335v1M554.5 339v1M554.5 343v1M554.5 356v1"/><path stroke="#79add2" d="M104.5 219v1M104.5 224v1M104.5 227v1M105.5 226v1M105.5 230v1M105.5 243v1M105.5 247v1M205.5 223v2M205.5 236v2M205.5 240v1M206.5 219v1M206.5 222v1M206.5 224v4M206.5 232v2M206.5 239v2M206.5 252v4M206.5 263v1M207.5 201v1M207.5 203v1M207.5 218v1M207.5 222v1M207.5 225v1M207.5 258v1M207.5 268v1M208.5 221v1M208.5 240v1M208.5 252v1M208.5 263v1M209.5 219v2M209.5 222v1M209.5 231v2M209.5 238v1M209.5 240v1M209.5 243v1M209.5 251v1M209.5 254v2M209.5 262v1M210.5 209v1M210.5 219v1M210.5 221v1M210.5 229v1M210.5 232v1M210.5 234v1M210.5 236v2M210.5 239v1M210.5 247v1M210.5 251v1M211.5 204v1M211.5 211v1M211.5 213v1M211.5 221v1M211.5 226v2M211.5 231v1M211.5 233v1M211.5 239v1M211.5 242v1M211.5 244v1M211.5 253v1M211.5 257v1M211.5 260v1M211.5 267v1M212.5 224v1M212.5 238v1M212.5 249v1M213.5 213v1M213.5 215v1M213.5 218v1M213.5 223v2M213.5 226v1M213.5 230v2M213.5 245v1M213.5 251v2M214.5 209v1M214.5 212v1M214.5 219v1M214.5 221v1M214.5 227v1M214.5 229v1M214.5 235v1M214.5 252v1M214.5 257v1M215.5 199v1M215.5 219v4M215.5 235v1M215.5 249v1M215.5 252v1M215.5 256v1M216.5 208v1M216.5 211v1M216.5 233v1M216.5 236v1M216.5 239v1M216.5 241v1M216.5 243v1M216.5 248v1M216.5 254v2M216.5 257v1M216.5 263v1M216.5 267v1M217.5 194v1M217.5 202v1M217.5 204v2M217.5 215v1M217.5 217v1M217.5 222v1M217.5 240v1M217.5 242v1M217.5 247v1M217.5 250v1M217.5 258v1M217.5 269v1M217.5 290v1M218.5 201v1M218.5 209v1M218.5 214v1M218.5 216v1M218.5 226v1M218.5 231v1M218.5 255v1M218.5 271v1M218.5 286v1M218.5 288v1M219.5 195v1M219.5 200v3M219.5 206v1M219.5 210v1M219.5 218v1M219.5 220v1M219.5 222v2M219.5 228v1M219.5 233v1M219.5 235v2M219.5 238v1M219.5 247v1M219.5 254v2M219.5 259v2M219.5 270v1M219.5 278v1M219.5 285v1M220.5 192v1M220.5 220v1M220.5 228v1M220.5 239v1M220.5 242v1M220.5 259v1M220.5 272v1M220.5 277v1M220.5 280v1M220.5 285v1M221.5 193v1M221.5 202v1M221.5 206v1M221.5 233v1M221.5 236v1M221.5 249v1M221.5 254v1M221.5 258v1M221.5 274v1M221.5 284v1M253.5 217v1M254.5 224v1M256.5 216v1M256.5 221v1M256.5 226v1M256.5 233v1M256.5 237v1M256.5 239v1M256.5 246v1M257.5 222v1M257.5 225v1M257.5 238v1M257.5 240v1M262.5 289v1M263.5 198v1M265.5 226v1M266.5 234v1M266.5 239v1M266.5 241v1M266.5 256v1M267.5 225v1M267.5 241v1M267.5 246v1M267.5 250v1M267.5 257v1M268.5 214v1M268.5 217v1M268.5 225v1M268.5 236v1M268.5 248v1M269.5 201v1M269.5 205v1M269.5 234v1M269.5 245v1M269.5 248v1M269.5 250v1M269.5 255v1M269.5 262v1M270.5 205v1M270.5 214v1M270.5 219v1M270.5 227v1M270.5 239v3M270.5 243v1M270.5 251v1M270.5 259v2M270.5 263v1M271.5 227v1M271.5 231v1M271.5 239v1M271.5 243v1M271.5 251v1M271.5 253v2M271.5 257v1M272.5 200v1M272.5 202v1M272.5 204v1M272.5 216v1M272.5 234v1M272.5 237v1M272.5 244v1M272.5 261v1M299.5 228v1M299.5 230v2M299.5 237v1M299.5 242v1M300.5 227v1M300.5 234v1M300.5 236v1M300.5 242v1M300.5 248v2M300.5 257v1M301.5 194v1M301.5 213v1M301.5 221v1M301.5 230v1M301.5 238v2M301.5 241v1M301.5 243v1M301.5 245v1M301.5 248v1M301.5 262v1M302.5 202v1M302.5 205v1M302.5 216v1M302.5 220v2M302.5 223v1M302.5 227v1M302.5 231v1M302.5 233v1M302.5 235v2M302.5 238v1M302.5 242v1M302.5 244v1M302.5 246v1M302.5 248v1M303.5 208v1M303.5 222v1M303.5 229v1M303.5 232v2M303.5 241v2M303.5 245v1M303.5 248v2M303.5 252v1M304.5 209v1M304.5 212v1M304.5 214v1M304.5 223v1M304.5 235v1M304.5 237v1M304.5 259v1M305.5 210v1M305.5 219v1M305.5 229v1M305.5 231v2M305.5 234v2M305.5 245v1M305.5 248v1M305.5 251v1M306.5 220v1M306.5 228v1M306.5 230v1M306.5 239v1M306.5 247v1M306.5 253v2M306.5 257v1M307.5 218v1M307.5 226v3M307.5 230v1M307.5 233v2M307.5 240v1M307.5 243v2M307.5 262v1M308.5 220v1M308.5 241v1M308.5 246v1M308.5 253v1M309.5 208v1M309.5 217v1M309.5 224v1M309.5 226v1M309.5 231v1M309.5 233v1M309.5 238v1M309.5 240v1M309.5 249v1M309.5 251v2M309.5 254v2M310.5 203v1M310.5 218v1M310.5 223v1M310.5 225v1M310.5 229v1M310.5 242v1M311.5 214v1M311.5 225v1M311.5 227v3M311.5 232v1M311.5 235v1M311.5 239v1M311.5 241v2M311.5 247v2M311.5 255v1M312.5 216v1M312.5 222v1M312.5 226v1M312.5 233v1M312.5 236v1M312.5 240v1M313.5 217v1M313.5 219v1M313.5 221v2M313.5 225v1M313.5 232v1M313.5 235v2M313.5 259v1M313.5 265v1M314.5 223v1M314.5 232v1M314.5 239v1M314.5 248v1M314.5 258v1M315.5 219v1M315.5 223v3M315.5 228v1M315.5 242v1M315.5 244v2M315.5 247v1M315.5 252v2M316.5 193v1M316.5 205v1M316.5 207v1M316.5 212v2M316.5 223v2M316.5 226v2M316.5 230v1M316.5 234v1M316.5 236v2M316.5 243v1M316.5 252v1M316.5 254v2M316.5 260v1M317.5 213v1M317.5 233v1M317.5 257v1M317.5 262v1M317.5 268v1M345.5 229v1M346.5 229v1M346.5 236v1M346.5 238v1M346.5 246v1M347.5 223v1M347.5 228v1M347.5 231v2M347.5 238v1M348.5 241v1M440.5 195v1M440.5 201v1M440.5 208v1M440.5 215v2M440.5 218v2M440.5 225v2M440.5 228v1M440.5 235v2M440.5 238v1M440.5 240v1M440.5 243v1M440.5 246v2M440.5 249v3M440.5 255v1M440.5 263v4M440.5 272v1M440.5 275v1M440.5 278v1M441.5 185v1M441.5 196v2M441.5 200v1M441.5 204v1M441.5 213v3M441.5 217v2M441.5 232v2M441.5 238v1M441.5 240v2M441.5 244v1M441.5 246v1M441.5 248v1M441.5 251v1M441.5 254v1M441.5 259v2M441.5 265v3M441.5 269v1M441.5 274v1M441.5 279v1M441.5 287v1M441.5 291v2M441.5 294v1M442.5 190v3M442.5 194v1M442.5 198v2M442.5 203v1M442.5 213v1M442.5 224v1M442.5 232v1M442.5 243v1M442.5 253v1M442.5 270v2M442.5 274v1M442.5 278v1M442.5 280v1M442.5 309v1M442.5 316v1M442.5 334v1M443.5 174v1M443.5 178v1M443.5 213v1M443.5 252v1M443.5 286v1M443.5 320v1M443.5 322v1M443.5 327v1M443.5 333v1M447.5 198v1M447.5 201v1M447.5 206v1M447.5 225v1M447.5 227v1M447.5 243v1M447.5 264v1M447.5 288v1M448.5 173v1M448.5 197v1M448.5 202v1M448.5 224v1M448.5 239v1M448.5 242v1M448.5 252v1M448.5 258v1M448.5 261v3M448.5 267v2M448.5 271v1M448.5 274v1M448.5 283v1M448.5 293v1M448.5 320v1M449.5 191v5M449.5 197v2M449.5 266v2M449.5 272v1M449.5 275v1M449.5 277v1M449.5 287v1M449.5 296v1M450.5 169v1M450.5 173v1M450.5 188v3M450.5 194v1M450.5 260v1M450.5 262v1M450.5 264v4M450.5 270v1M450.5 272v1M450.5 275v1M450.5 282v1M450.5 285v2M450.5 291v2M450.5 297v1M451.5 162v1M451.5 167v1M451.5 170v1M451.5 185v1M451.5 187v1M451.5 194v3M451.5 201v1M451.5 203v1M451.5 205v2M451.5 211v1M451.5 215v1M451.5 238v1M451.5 248v1M451.5 252v1M451.5 256v1M451.5 260v1M451.5 268v1M451.5 273v1M451.5 278v1M451.5 285v1M451.5 291v1M451.5 294v1M451.5 305v1M451.5 318v1M451.5 323v1M451.5 337v1M451.5 340v1M452.5 165v1M452.5 182v1M452.5 186v1M452.5 193v1M452.5 200v1M452.5 202v1M452.5 207v1M452.5 210v3M452.5 214v1M452.5 219v3M452.5 224v1M452.5 226v2M452.5 229v1M452.5 232v1M452.5 236v3M452.5 240v3M452.5 246v1M452.5 249v1M452.5 252v4M452.5 264v1M452.5 266v1M452.5 275v1M452.5 308v1M453.5 192v1M453.5 196v1M453.5 268v1M453.5 270v1M453.5 274v2M453.5 277v1M453.5 292v1M454.5 157v1M454.5 190v1M454.5 193v2M454.5 196v1M454.5 201v2M454.5 205v2M454.5 210v2M454.5 213v1M454.5 223v1M454.5 244v1M454.5 247v1M454.5 252v1M454.5 256v1M454.5 258v3M454.5 264v1M454.5 270v1M454.5 274v1M454.5 277v2M454.5 286v1M454.5 305v1M455.5 176v1M455.5 185v2M455.5 277v1M455.5 285v1M455.5 289v1M455.5 327v1M487.5 226v1M487.5 231v1M487.5 254v1M488.5 201v1M488.5 207v3M488.5 219v2M488.5 222v2M488.5 231v2M488.5 236v1M488.5 240v2M488.5 243v1M488.5 247v1M488.5 253v1M488.5 258v2M488.5 263v1M488.5 266v2M488.5 269v1M488.5 280v1M489.5 197v1M489.5 200v2M489.5 203v1M489.5 205v1M489.5 267v1M489.5 276v1M489.5 286v1M489.5 296v1M490.5 188v1M490.5 192v3M490.5 196v2M490.5 200v1M490.5 272v1M490.5 282v2M490.5 285v1M490.5 288v1M490.5 293v2M490.5 318v1M491.5 183v1M491.5 185v1M491.5 191v1M491.5 194v2M491.5 202v1M491.5 207v1M491.5 211v1M491.5 268v3M491.5 272v1M491.5 281v1M491.5 283v1M491.5 286v1M491.5 288v1M491.5 292v1M491.5 303v1M491.5 311v1M491.5 317v1M491.5 319v1M491.5 344v1M492.5 178v1M492.5 185v1M492.5 201v1M492.5 208v1M492.5 214v1M492.5 218v1M492.5 223v1M492.5 228v1M492.5 233v1M492.5 237v1M492.5 258v1M492.5 278v1M493.5 181v1M493.5 199v3M493.5 203v2M493.5 207v1M493.5 210v1M493.5 259v1M493.5 266v1M493.5 270v1M493.5 274v1M493.5 277v1M493.5 279v1M493.5 286v2M493.5 293v1M493.5 299v1M493.5 304v1M493.5 315v1M494.5 184v1M494.5 197v1M494.5 201v1M494.5 204v2M494.5 212v2M494.5 260v1M494.5 262v1M494.5 268v1M494.5 278v1M494.5 280v1M494.5 284v1M494.5 286v1M494.5 312v1M494.5 319v1M495.5 179v1M495.5 203v3M495.5 207v1M495.5 209v1M495.5 211v2M495.5 222v2M495.5 225v2M495.5 232v2M495.5 240v1M495.5 247v1M495.5 251v2M495.5 254v1M495.5 261v1M495.5 273v1M495.5 284v1M495.5 289v1M495.5 300v1M495.5 359v1M496.5 200v1M496.5 206v1M496.5 208v2M496.5 214v1M496.5 261v1M496.5 264v1M496.5 267v3M496.5 272v1M496.5 275v1M496.5 279v1M496.5 282v1M496.5 285v1M496.5 304v1M497.5 195v1M497.5 202v2M497.5 212v2M497.5 221v1M497.5 263v1M497.5 265v1M497.5 268v1M497.5 278v2M497.5 289v1M497.5 365v1M498.5 194v1M498.5 203v1M498.5 205v1M498.5 207v2M498.5 210v2M498.5 213v1M498.5 215v1M498.5 218v1M498.5 228v1M498.5 236v2M498.5 254v1M498.5 256v1M498.5 258v1M498.5 269v1M498.5 274v1M498.5 282v1M498.5 290v1M498.5 311v1M499.5 174v1M499.5 202v1M499.5 205v1M499.5 243v1M499.5 264v1M499.5 266v1M499.5 272v1M499.5 278v1M500.5 190v1M500.5 199v1M500.5 214v1M500.5 216v1M500.5 222v1M500.5 224v1M500.5 226v1M500.5 230v2M500.5 233v2M500.5 236v1M500.5 238v1M500.5 244v1M500.5 246v2M500.5 252v2M500.5 259v1M500.5 261v1M500.5 265v1M500.5 281v1M500.5 283v1M500.5 290v1M501.5 177v1M501.5 212v1M501.5 222v1M501.5 229v1M501.5 233v1M501.5 235v1M501.5 237v1M501.5 242v1M501.5 244v1M501.5 251v1M501.5 255v1M501.5 257v1M501.5 261v2M501.5 272v1M501.5 279v1M501.5 284v1M502.5 199v1M502.5 257v1M533.5 220v1M533.5 228v1M533.5 230v4M533.5 238v1M533.5 243v1M533.5 245v1M533.5 247v1M533.5 251v1M533.5 254v1M533.5 260v1M533.5 262v2M533.5 267v4M533.5 273v1M533.5 282v2M533.5 287v1M533.5 289v1M533.5 295v1M533.5 298v2M533.5 301v1M533.5 303v1M533.5 305v1M533.5 307v1M533.5 310v1M533.5 314v1M534.5 208v1M534.5 213v1M534.5 221v1M534.5 223v1M534.5 225v3M534.5 229v1M534.5 235v1M534.5 239v1M534.5 242v1M534.5 246v1M534.5 249v1M534.5 252v1M534.5 259v1M534.5 261v1M534.5 263v1M534.5 265v1M534.5 270v1M534.5 276v2M534.5 279v3M534.5 289v2M534.5 295v1M534.5 299v3M534.5 304v1M534.5 306v1M534.5 313v1M534.5 317v1M534.5 327v1M534.5 339v1M534.5 346v1M535.5 222v1M535.5 225v1M535.5 227v1M535.5 232v1M535.5 236v1M535.5 241v2M535.5 247v1M535.5 250v1M535.5 261v1M535.5 264v1M535.5 283v1M535.5 289v2M535.5 295v2M535.5 298v1M535.5 300v2M535.5 303v2M535.5 306v1M535.5 312v1M535.5 318v1M535.5 330v1M536.5 209v1M536.5 221v1M536.5 229v1M536.5 231v1M536.5 237v2M536.5 242v1M536.5 253v1M536.5 263v1M536.5 275v1M536.5 311v1M536.5 323v1M537.5 217v1M537.5 223v1M537.5 238v1M537.5 244v1M537.5 247v1M537.5 255v1M537.5 260v1M537.5 262v2M537.5 265v1M537.5 270v1M537.5 274v1M537.5 278v1M537.5 284v1M537.5 290v1M537.5 292v2M537.5 295v2M537.5 301v1M537.5 309v1M537.5 316v1M537.5 318v1M537.5 322v1M538.5 212v1M538.5 218v1M538.5 236v1M538.5 240v1M538.5 243v1M538.5 249v1M538.5 252v6M538.5 259v1M538.5 262v1M538.5 265v1M538.5 270v1M538.5 272v4M538.5 279v1M538.5 282v2M538.5 286v1M538.5 289v1M538.5 291v1M538.5 293v2M538.5 297v1M538.5 300v1M538.5 302v1M538.5 306v1M538.5 309v1M538.5 315v1M538.5 327v1M538.5 330v1M539.5 213v1M539.5 217v1M539.5 220v2M539.5 223v2M539.5 232v1M539.5 234v3M539.5 239v1M539.5 241v1M539.5 244v2M539.5 249v1M539.5 252v1M539.5 255v3M539.5 263v1M539.5 267v1M539.5 276v3M539.5 281v1M539.5 284v1M539.5 286v1M539.5 288v4M539.5 293v4M539.5 299v1M539.5 301v3M539.5 312v1M539.5 314v1M540.5 212v1M540.5 227v1M540.5 232v1M540.5 234v1M540.5 237v1M540.5 249v1M540.5 253v1M540.5 268v1M540.5 273v1M540.5 275v1M540.5 281v1M540.5 285v1M540.5 290v1M540.5 292v1M540.5 298v2M540.5 310v1M540.5 317v1M540.5 321v1M540.5 332v1M540.5 340v1M541.5 223v2M541.5 226v1M541.5 233v1M541.5 239v1M541.5 244v1M541.5 246v1M541.5 249v2M541.5 252v3M541.5 256v1M541.5 259v1M541.5 261v1M541.5 266v2M541.5 271v1M541.5 273v1M541.5 278v1M541.5 280v1M541.5 282v2M541.5 285v2M541.5 291v1M541.5 296v1M541.5 299v1M541.5 302v2M541.5 310v1M541.5 313v1M541.5 317v1M541.5 338v1M542.5 223v1M542.5 225v2M542.5 231v3M542.5 237v2M542.5 242v1M542.5 250v1M542.5 254v1M542.5 256v2M542.5 259v1M542.5 265v2M542.5 269v1M542.5 283v3M542.5 289v2M542.5 295v2M542.5 298v1M542.5 300v2M542.5 304v1M542.5 308v1M542.5 315v2M542.5 323v1M542.5 326v1M542.5 337v1M543.5 208v1M543.5 219v1M543.5 223v1M543.5 225v1M543.5 228v1M543.5 232v1M543.5 235v1M543.5 237v1M543.5 239v2M543.5 243v1M543.5 247v3M543.5 251v1M543.5 254v1M543.5 256v2M543.5 259v4M543.5 266v1M543.5 275v1M543.5 279v2M543.5 283v1M543.5 289v3M543.5 294v1M543.5 307v1M543.5 309v1M543.5 311v1M543.5 320v1M543.5 328v1M543.5 331v1M544.5 204v1M544.5 251v1M544.5 256v1M544.5 266v1M544.5 268v1M544.5 281v1M544.5 287v1M544.5 298v1M544.5 314v2M544.5 317v1M544.5 326v1M544.5 329v1M544.5 335v1M545.5 231v1M545.5 236v1M545.5 249v1M545.5 280v1M545.5 304v2M545.5 313v1M545.5 317v1M545.5 319v1M546.5 250v1M546.5 291v1M546.5 293v1M546.5 295v1M546.5 298v1M546.5 320v1M547.5 212v1M547.5 222v1M547.5 289v1M547.5 328v1M547.5 338v1M548.5 218v1M548.5 241v2M548.5 251v1M548.5 270v1M548.5 274v1M548.5 276v1M548.5 289v1M548.5 296v1M548.5 304v1M548.5 306v1M548.5 316v1M549.5 241v1M549.5 246v1M549.5 250v1M549.5 256v1M549.5 263v1M549.5 266v1M549.5 276v1M549.5 289v1M549.5 292v1M549.5 294v1M549.5 304v1M549.5 307v2M549.5 314v1M549.5 321v1M550.5 231v1M550.5 239v1M550.5 246v1M550.5 249v1M550.5 253v1M550.5 255v1M550.5 257v2M550.5 260v1M550.5 273v2M550.5 276v2M550.5 283v1M550.5 289v2M550.5 294v1M550.5 296v1M550.5 298v1M550.5 308v1M550.5 314v1M550.5 318v2M550.5 322v4M550.5 331v1M550.5 338v1M551.5 226v1M551.5 230v1M551.5 243v1M551.5 248v1M551.5 250v1M551.5 252v1M551.5 256v1M551.5 260v4M551.5 266v1M551.5 270v1M551.5 272v1M551.5 278v1M551.5 281v2M551.5 287v1M551.5 291v1M551.5 293v3M551.5 300v1M551.5 302v1M551.5 306v2M551.5 309v1M551.5 317v2M551.5 320v1M551.5 322v1M551.5 324v1M551.5 331v1M551.5 334v1M552.5 240v1M552.5 254v1M552.5 256v1M552.5 259v1M552.5 263v1M552.5 267v3M552.5 274v2M552.5 286v1M552.5 293v1M552.5 299v1M552.5 301v2M552.5 304v1M552.5 306v1M552.5 310v1M552.5 317v2M552.5 334v1M552.5 344v1M553.5 234v1M553.5 247v1M553.5 260v1M553.5 262v1M553.5 265v1M553.5 271v2M553.5 284v1M553.5 286v1M553.5 294v1M553.5 308v1M553.5 334v2M554.5 259v1M554.5 290v1M554.5 294v1M554.5 308v1M554.5 323v1M554.5 331v1"/><path stroke="#6da7ce" d="M104.5 234v1M104.5 240v1M105.5 223v1M205.5 234v1M205.5 239v1M205.5 260v1M206.5 206v1M206.5 213v1M206.5 215v1M206.5 218v1M206.5 220v1M206.5 234v1M206.5 242v1M206.5 249v1M206.5 260v1M206.5 265v2M207.5 206v1M207.5 214v1M207.5 220v1M207.5 228v1M207.5 237v1M207.5 259v1M208.5 217v1M208.5 228v1M208.5 232v2M208.5 235v1M208.5 251v1M208.5 255v1M209.5 216v2M209.5 224v1M209.5 239v1M209.5 247v2M209.5 253v1M209.5 256v1M209.5 259v1M210.5 227v2M210.5 241v2M210.5 244v1M210.5 249v1M210.5 253v1M210.5 259v1M210.5 261v1M211.5 208v1M211.5 212v1M211.5 243v1M211.5 255v1M211.5 266v1M212.5 210v1M212.5 225v1M212.5 237v1M212.5 241v1M212.5 247v1M212.5 251v1M212.5 256v1M212.5 260v1M213.5 211v1M213.5 219v1M213.5 225v1M213.5 238v1M213.5 241v1M213.5 243v2M213.5 249v2M214.5 214v1M214.5 242v1M214.5 248v1M215.5 225v1M215.5 234v1M215.5 253v1M216.5 197v1M216.5 200v1M216.5 206v1M216.5 210v1M216.5 212v1M216.5 222v1M216.5 234v1M216.5 238v1M216.5 244v2M216.5 265v1M217.5 199v1M217.5 207v1M217.5 227v1M217.5 229v1M217.5 232v1M217.5 237v2M217.5 241v1M217.5 246v1M217.5 265v1M217.5 267v2M218.5 193v1M218.5 195v1M218.5 200v1M218.5 206v1M218.5 208v1M218.5 213v1M218.5 219v1M218.5 222v1M218.5 239v1M218.5 242v1M218.5 247v2M218.5 257v1M218.5 259v1M218.5 269v1M218.5 272v1M219.5 203v1M219.5 208v1M219.5 215v1M219.5 250v1M219.5 265v1M219.5 272v1M219.5 279v1M220.5 194v1M220.5 198v1M220.5 204v1M220.5 210v1M220.5 212v1M220.5 217v1M220.5 226v1M220.5 233v1M220.5 238v1M220.5 250v1M220.5 256v1M220.5 262v1M220.5 264v1M220.5 267v3M220.5 279v1M221.5 197v2M221.5 201v1M221.5 209v1M221.5 219v1M221.5 238v1M221.5 240v1M221.5 243v1M221.5 261v1M221.5 271v2M221.5 281v1M253.5 234v1M253.5 247v1M253.5 252v1M254.5 235v1M256.5 217v1M256.5 219v1M256.5 225v1M256.5 234v1M256.5 238v1M265.5 227v1M265.5 255v1M266.5 243v1M266.5 254v2M267.5 216v1M267.5 224v1M267.5 229v1M267.5 237v1M267.5 249v1M267.5 253v1M268.5 206v1M268.5 209v1M268.5 215v1M268.5 224v1M268.5 227v1M268.5 237v1M268.5 246v1M268.5 259v1M269.5 210v1M269.5 220v1M269.5 224v1M269.5 228v1M269.5 230v1M269.5 240v3M269.5 253v1M270.5 204v1M270.5 211v1M270.5 229v1M270.5 245v1M270.5 248v2M270.5 252v1M271.5 207v1M271.5 223v1M271.5 225v1M271.5 233v1M271.5 247v1M271.5 250v1M271.5 258v1M272.5 206v1M272.5 220v1M272.5 222v1M272.5 229v1M272.5 248v1M299.5 220v1M299.5 243v1M299.5 247v1M299.5 249v1M299.5 251v1M300.5 221v1M300.5 246v1M300.5 251v1M301.5 226v1M302.5 204v1M302.5 206v1M302.5 214v1M302.5 218v2M302.5 222v1M302.5 225v1M302.5 230v1M302.5 241v1M302.5 247v1M302.5 250v1M302.5 253v1M302.5 258v1M302.5 260v1M303.5 219v3M303.5 224v1M303.5 227v1M303.5 235v1M303.5 237v1M303.5 243v1M303.5 250v1M303.5 254v2M304.5 218v1M304.5 225v1M304.5 231v1M304.5 241v1M304.5 252v1M304.5 256v1M304.5 261v1M305.5 216v1M305.5 218v1M305.5 227v2M305.5 239v1M305.5 244v1M306.5 214v1M306.5 226v1M306.5 231v1M306.5 241v1M306.5 256v1M307.5 221v1M307.5 223v2M307.5 236v1M307.5 248v1M308.5 218v1M308.5 226v3M308.5 230v3M308.5 234v1M308.5 243v1M308.5 245v1M309.5 218v1M309.5 229v1M309.5 234v1M310.5 213v1M310.5 227v1M310.5 233v1M310.5 240v1M311.5 213v1M311.5 220v1M311.5 224v1M311.5 233v1M311.5 250v1M312.5 215v1M312.5 238v1M312.5 247v2M312.5 254v1M312.5 257v1M313.5 214v1M313.5 231v1M313.5 240v4M313.5 246v1M313.5 256v1M314.5 221v1M314.5 233v1M314.5 236v1M314.5 243v1M314.5 257v1M315.5 215v1M315.5 222v1M315.5 248v1M315.5 254v1M316.5 209v1M316.5 217v1M316.5 219v1M316.5 225v1M316.5 238v1M316.5 241v1M316.5 244v1M316.5 251v1M316.5 253v1M317.5 209v1M317.5 211v1M317.5 214v1M317.5 250v1M317.5 256v1M317.5 259v1M317.5 261v1M345.5 224v1M345.5 245v1M346.5 218v1M346.5 224v1M346.5 228v1M346.5 230v1M346.5 240v1M346.5 249v1M347.5 234v1M347.5 243v1M348.5 248v1M392.5 371v1M392.5 379v1M392.5 387v1M440.5 196v2M440.5 199v1M440.5 202v2M440.5 211v1M440.5 214v1M440.5 239v1M440.5 254v1M440.5 279v2M440.5 285v1M440.5 288v1M440.5 290v1M441.5 195v1M441.5 199v1M441.5 201v3M441.5 210v1M441.5 229v1M441.5 252v1M441.5 271v1M441.5 288v2M441.5 297v1M441.5 299v1M441.5 308v1M442.5 193v1M442.5 195v2M442.5 275v1M442.5 277v1M442.5 283v1M442.5 285v1M443.5 180v1M443.5 203v1M443.5 258v1M443.5 261v1M443.5 272v1M443.5 275v1M447.5 187v1M447.5 265v1M447.5 267v1M447.5 271v1M448.5 185v1M448.5 189v2M448.5 203v1M448.5 260v1M448.5 264v1M448.5 279v1M448.5 282v1M448.5 289v1M448.5 291v1M449.5 181v1M449.5 190v1M449.5 196v1M449.5 264v1M449.5 278v1M449.5 282v1M449.5 293v1M449.5 295v1M449.5 298v1M449.5 305v1M449.5 314v1M449.5 317v1M450.5 177v1M450.5 185v1M450.5 258v1M450.5 273v2M450.5 276v2M450.5 280v1M450.5 283v2M450.5 287v1M450.5 295v1M450.5 340v1M451.5 176v1M451.5 189v1M451.5 261v1M451.5 265v1M451.5 275v1M451.5 281v1M451.5 290v1M451.5 292v1M451.5 303v1M451.5 315v1M452.5 194v1M452.5 198v1M452.5 201v1M452.5 208v1M452.5 218v1M452.5 222v1M452.5 243v1M452.5 251v1M452.5 262v1M452.5 269v1M452.5 271v1M452.5 276v2M452.5 285v1M452.5 291v1M452.5 296v1M453.5 194v1M453.5 263v1M453.5 309v1M454.5 171v1M454.5 178v1M454.5 195v1M454.5 197v1M454.5 200v1M454.5 266v1M454.5 291v1M454.5 300v1M454.5 302v1M454.5 308v1M455.5 193v1M455.5 240v1M455.5 249v1M455.5 276v1M455.5 280v1M455.5 294v1M455.5 297v1M455.5 307v1M487.5 216v1M487.5 224v1M488.5 200v1M488.5 202v1M488.5 206v1M488.5 215v3M488.5 238v1M488.5 248v1M488.5 262v1M488.5 268v1M489.5 187v1M489.5 280v1M490.5 170v1M490.5 189v1M490.5 195v1M490.5 275v2M490.5 278v1M490.5 280v1M490.5 287v1M490.5 291v2M490.5 301v1M490.5 310v1M491.5 189v1M491.5 197v2M491.5 275v1M491.5 278v1M491.5 280v1M491.5 289v1M491.5 295v1M491.5 299v1M491.5 325v1M492.5 170v1M492.5 188v1M492.5 192v1M492.5 199v1M492.5 205v2M492.5 212v1M492.5 240v1M492.5 262v1M492.5 264v2M492.5 268v1M492.5 271v1M492.5 280v1M492.5 284v1M492.5 289v1M492.5 295v1M492.5 303v1M493.5 194v1M493.5 265v1M493.5 271v1M493.5 314v1M494.5 193v1M494.5 195v2M494.5 198v1M494.5 203v1M494.5 210v1M494.5 264v1M494.5 267v1M494.5 283v1M494.5 288v1M494.5 291v1M495.5 198v1M495.5 200v1M495.5 217v1M495.5 219v1M495.5 239v1M495.5 259v1M495.5 267v1M495.5 270v1M495.5 280v1M496.5 196v1M496.5 202v1M496.5 204v2M496.5 211v1M496.5 281v1M497.5 192v1M497.5 197v1M497.5 267v1M497.5 270v3M497.5 284v1M497.5 288v1M497.5 292v1M498.5 209v1M498.5 212v1M498.5 264v2M498.5 272v1M498.5 295v1M499.5 196v1M499.5 199v1M499.5 263v1M499.5 284v1M499.5 288v2M500.5 187v1M500.5 197v1M500.5 205v1M500.5 210v1M500.5 218v1M500.5 225v1M500.5 232v1M500.5 235v1M500.5 237v1M500.5 242v1M500.5 248v1M500.5 255v1M500.5 257v1M500.5 263v2M500.5 267v1M500.5 271v1M500.5 280v1M501.5 198v1M501.5 208v1M501.5 210v2M501.5 216v2M501.5 223v1M501.5 227v1M501.5 234v1M501.5 236v1M501.5 238v1M501.5 240v1M501.5 245v2M501.5 248v1M501.5 254v1M501.5 268v1M501.5 270v1M502.5 243v1M502.5 264v1M533.5 216v1M533.5 229v1M533.5 237v1M533.5 257v1M533.5 265v1M533.5 277v1M533.5 279v1M533.5 294v1M533.5 304v1M533.5 306v1M533.5 308v1M533.5 311v1M533.5 315v1M533.5 317v1M533.5 322v1M534.5 216v1M534.5 220v1M534.5 234v1M534.5 237v1M534.5 241v1M534.5 245v1M534.5 247v1M534.5 257v1M534.5 267v1M534.5 274v1M534.5 287v1M534.5 292v2M534.5 296v1M534.5 308v1M534.5 333v1M534.5 340v1M535.5 214v1M535.5 217v1M535.5 220v1M535.5 223v1M535.5 230v1M535.5 233v1M535.5 235v1M535.5 239v2M535.5 243v1M535.5 245v1M535.5 248v1M535.5 256v1M535.5 259v1M535.5 263v1M535.5 265v1M535.5 267v1M535.5 269v1M535.5 275v1M535.5 278v1M535.5 294v1M535.5 297v1M535.5 302v1M535.5 317v1M535.5 327v1M536.5 216v1M536.5 224v1M536.5 236v1M536.5 245v1M536.5 247v1M536.5 273v1M536.5 284v1M536.5 287v1M536.5 298v1M536.5 305v1M536.5 307v1M537.5 221v1M537.5 261v1M537.5 286v1M537.5 304v1M537.5 310v1M538.5 214v1M538.5 216v1M538.5 219v1M538.5 224v1M538.5 227v1M538.5 239v1M538.5 245v1M538.5 247v1M538.5 250v1M538.5 260v1M538.5 271v1M538.5 278v1M538.5 281v1M538.5 284v1M538.5 287v1M538.5 295v1M538.5 298v1M538.5 303v1M538.5 307v1M538.5 310v1M538.5 316v1M538.5 323v1M538.5 345v1M539.5 218v1M539.5 225v1M539.5 231v1M539.5 238v1M539.5 243v1M539.5 247v1M539.5 261v2M539.5 270v1M539.5 272v1M539.5 275v1M539.5 283v1M539.5 297v1M539.5 300v1M539.5 306v2M539.5 309v1M539.5 315v1M540.5 215v1M540.5 231v1M540.5 239v1M540.5 241v1M540.5 243v1M540.5 254v3M540.5 262v1M540.5 265v1M540.5 267v1M540.5 272v1M540.5 280v1M540.5 287v1M540.5 294v2M540.5 297v1M540.5 301v1M540.5 311v1M541.5 221v1M541.5 225v1M541.5 227v1M541.5 229v2M541.5 234v1M541.5 236v1M541.5 255v1M541.5 262v1M541.5 264v1M541.5 268v2M541.5 301v1M541.5 305v1M541.5 307v2M541.5 311v2M541.5 320v1M541.5 323v1M541.5 337v1M542.5 214v1M542.5 217v1M542.5 221v1M542.5 261v1M542.5 303v1M542.5 322v1M543.5 213v1M543.5 217v1M543.5 230v2M543.5 234v1M543.5 236v1M543.5 245v1M543.5 263v1M543.5 270v1M543.5 281v1M543.5 284v2M543.5 288v1M543.5 300v4M543.5 305v1M543.5 308v1M543.5 334v1M544.5 206v1M544.5 230v1M544.5 234v1M544.5 237v1M544.5 244v1M544.5 248v1M544.5 270v1M544.5 278v1M544.5 284v1M544.5 300v1M544.5 312v1M545.5 227v1M545.5 232v1M545.5 239v1M545.5 244v2M545.5 254v1M545.5 259v1M545.5 264v1M545.5 267v1M545.5 283v1M545.5 295v1M545.5 298v1M545.5 300v2M545.5 320v2M546.5 218v1M546.5 273v1M547.5 237v1M547.5 240v1M547.5 242v1M547.5 251v1M547.5 278v1M547.5 315v1M547.5 323v1M548.5 243v1M548.5 248v1M548.5 268v1M548.5 272v1M548.5 275v1M548.5 278v1M548.5 280v1M548.5 290v1M548.5 310v1M549.5 238v1M549.5 274v1M549.5 287v1M549.5 329v1M549.5 336v1M550.5 240v1M550.5 243v1M550.5 247v1M550.5 250v1M550.5 252v1M550.5 254v1M550.5 261v1M550.5 263v1M550.5 266v1M550.5 268v1M550.5 271v1M550.5 280v1M550.5 285v1M550.5 288v1M550.5 295v1M550.5 300v2M550.5 327v2M550.5 333v1M550.5 342v1M551.5 236v1M551.5 239v1M551.5 258v1M551.5 264v1M551.5 267v1M551.5 269v1M551.5 273v1M551.5 280v1M551.5 283v2M551.5 299v1M551.5 304v1M551.5 316v1M551.5 319v1M551.5 325v2M551.5 333v1M551.5 339v1M552.5 232v1M552.5 244v1M552.5 246v1M552.5 255v1M552.5 260v1M552.5 265v2M552.5 271v1M552.5 273v1M552.5 278v1M552.5 281v1M552.5 283v1M552.5 291v1M552.5 303v1M552.5 307v1M552.5 313v1M552.5 316v1M552.5 321v1M553.5 245v1M553.5 248v1M553.5 251v2M553.5 255v2M553.5 258v1M553.5 261v1M553.5 277v2M553.5 281v3M553.5 287v2M553.5 291v1M553.5 298v1M553.5 301v1M553.5 311v1M553.5 320v2M553.5 323v1M553.5 336v1M554.5 261v1M554.5 291v1M554.5 296v1"/><path stroke="#62a0ca" d="M104.5 241v1M105.5 241v1M205.5 222v1M205.5 227v1M205.5 229v1M205.5 248v2M206.5 212v1M206.5 221v1M206.5 223v1M206.5 228v1M206.5 238v1M206.5 241v1M206.5 243v1M206.5 248v1M206.5 256v1M206.5 258v2M206.5 280v1M207.5 204v1M207.5 217v1M207.5 230v1M207.5 232v1M207.5 234v1M207.5 248v1M207.5 250v2M207.5 254v1M207.5 256v1M207.5 264v1M207.5 271v1M208.5 210v1M208.5 218v1M208.5 226v1M208.5 234v1M208.5 237v1M208.5 242v1M209.5 226v1M209.5 228v2M209.5 233v2M209.5 242v1M209.5 244v1M209.5 252v1M209.5 257v1M210.5 212v1M210.5 214v1M210.5 217v1M210.5 222v2M210.5 231v1M210.5 233v1M210.5 235v1M210.5 238v1M210.5 243v1M210.5 250v1M210.5 252v1M210.5 266v1M211.5 209v1M211.5 220v1M211.5 222v1M211.5 224v1M211.5 229v2M211.5 234v1M211.5 236v1M211.5 245v1M212.5 209v1M212.5 212v1M212.5 220v2M212.5 226v1M212.5 228v3M212.5 234v1M212.5 236v1M212.5 240v1M212.5 243v1M212.5 245v1M212.5 253v1M212.5 257v1M212.5 262v1M212.5 265v2M213.5 203v1M213.5 228v1M213.5 233v1M213.5 236v2M213.5 239v2M213.5 253v2M213.5 265v1M214.5 197v1M214.5 207v1M214.5 217v2M214.5 222v1M214.5 225v1M214.5 233v1M214.5 251v1M214.5 253v1M214.5 256v1M215.5 224v1M215.5 243v1M215.5 254v1M216.5 204v1M216.5 209v1M216.5 214v3M216.5 219v1M216.5 224v1M216.5 227v1M216.5 229v2M216.5 232v1M216.5 240v1M216.5 258v1M216.5 270v1M216.5 279v1M216.5 282v1M217.5 195v1M217.5 211v1M217.5 214v1M217.5 216v1M217.5 225v2M217.5 239v1M217.5 243v2M217.5 255v2M217.5 259v1M217.5 264v1M217.5 279v1M217.5 288v1M217.5 291v1M218.5 198v2M218.5 205v1M218.5 210v1M218.5 215v1M218.5 217v2M218.5 223v1M218.5 232v1M218.5 235v1M218.5 243v1M218.5 250v1M218.5 254v1M218.5 261v3M218.5 265v1M218.5 267v1M218.5 279v1M219.5 193v1M219.5 213v1M219.5 217v1M219.5 221v1M219.5 242v1M219.5 271v1M220.5 199v1M220.5 207v1M220.5 213v1M220.5 221v1M220.5 230v1M220.5 234v1M220.5 236v1M220.5 243v1M220.5 245v3M220.5 253v1M220.5 263v1M220.5 270v1M220.5 274v1M221.5 200v1M221.5 203v1M221.5 205v1M221.5 217v1M221.5 224v1M221.5 226v2M221.5 232v1M221.5 241v1M221.5 257v1M252.5 243v1M253.5 218v1M253.5 248v1M253.5 253v1M254.5 223v1M254.5 240v1M255.5 244v1M255.5 246v1M256.5 231v1M256.5 240v1M256.5 242v1M256.5 250v1M256.5 253v1M257.5 234v1M262.5 290v1M265.5 216v1M265.5 220v1M265.5 229v1M265.5 231v1M265.5 238v1M265.5 245v1M266.5 211v1M266.5 235v1M266.5 238v1M266.5 253v1M266.5 257v1M266.5 259v1M267.5 200v1M267.5 213v1M267.5 215v1M267.5 231v1M267.5 238v2M267.5 242v2M267.5 252v1M267.5 255v2M268.5 216v1M268.5 219v1M268.5 221v1M268.5 229v1M268.5 242v1M268.5 253v1M268.5 255v1M268.5 257v1M269.5 200v1M269.5 202v1M269.5 211v1M269.5 216v1M269.5 218v2M269.5 221v1M269.5 227v1M269.5 235v1M269.5 243v2M269.5 251v1M269.5 254v1M269.5 261v1M270.5 186v1M270.5 212v2M270.5 217v1M270.5 224v1M270.5 233v1M270.5 235v1M270.5 250v1M270.5 257v1M271.5 200v1M271.5 212v1M271.5 215v2M271.5 222v1M271.5 226v1M271.5 240v2M271.5 252v1M272.5 205v1M272.5 230v1M272.5 232v1M300.5 212v1M300.5 216v1M300.5 218v1M300.5 222v1M300.5 244v1M300.5 259v1M301.5 227v1M301.5 261v1M302.5 212v1M302.5 217v1M302.5 252v1M302.5 254v1M303.5 213v1M303.5 240v1M303.5 253v1M303.5 260v1M304.5 221v1M304.5 229v1M304.5 233v1M304.5 238v3M304.5 243v1M304.5 246v2M304.5 253v1M304.5 260v1M305.5 204v1M305.5 214v2M305.5 221v1M305.5 233v1M305.5 237v2M305.5 240v1M305.5 243v1M305.5 249v1M305.5 252v1M306.5 224v1M306.5 229v1M306.5 236v3M306.5 244v2M306.5 248v1M306.5 250v1M306.5 258v1M307.5 213v1M307.5 217v1M307.5 225v1M307.5 235v1M307.5 237v1M307.5 247v1M307.5 249v2M307.5 257v1M307.5 263v1M308.5 219v1M308.5 224v2M308.5 235v1M308.5 239v1M308.5 242v1M308.5 249v2M308.5 252v1M308.5 258v1M309.5 207v1M309.5 216v1M309.5 219v1M309.5 221v1M309.5 227v1M309.5 230v1M309.5 243v2M309.5 253v1M310.5 221v1M310.5 224v1M310.5 226v1M310.5 234v2M310.5 238v1M310.5 241v1M310.5 248v1M310.5 250v2M310.5 254v1M310.5 262v1M311.5 208v1M311.5 216v1M311.5 243v1M311.5 246v1M311.5 256v1M312.5 201v1M312.5 206v1M312.5 213v1M312.5 218v1M312.5 220v1M312.5 225v1M312.5 228v1M312.5 230v1M312.5 235v1M312.5 237v1M312.5 241v6M312.5 250v2M312.5 268v1M313.5 216v1M313.5 218v1M313.5 223v2M313.5 230v1M313.5 233v2M313.5 244v1M313.5 249v1M313.5 251v1M313.5 254v1M313.5 266v1M314.5 212v1M314.5 216v1M314.5 220v1M314.5 225v1M314.5 229v2M314.5 238v1M314.5 242v1M314.5 245v1M314.5 249v1M314.5 259v1M315.5 193v1M315.5 218v1M315.5 221v1M315.5 230v1M315.5 239v1M315.5 257v1M315.5 266v1M316.5 204v1M316.5 210v1M316.5 215v2M316.5 218v1M316.5 229v1M316.5 233v1M316.5 240v1M316.5 245v1M316.5 248v2M316.5 257v1M316.5 266v1M316.5 268v1M317.5 208v1M317.5 216v1M317.5 222v1M317.5 229v1M317.5 237v1M317.5 241v1M317.5 244v1M346.5 219v1M346.5 221v1M346.5 225v1M346.5 231v1M346.5 233v1M346.5 235v1M346.5 241v1M346.5 243v3M346.5 251v1M346.5 259v1M347.5 219v1M347.5 221v1M347.5 226v2M347.5 235v1M347.5 239v3M348.5 225v1M348.5 229v1M348.5 239v1M392.5 398v1M440.5 178v2M440.5 205v1M440.5 220v1M440.5 230v1M440.5 234v1M440.5 237v1M440.5 257v1M440.5 259v1M440.5 274v1M440.5 282v1M440.5 284v1M440.5 286v1M440.5 293v2M440.5 299v1M440.5 316v1M440.5 325v1M441.5 158v1M441.5 180v1M441.5 186v1M441.5 190v1M441.5 194v1M441.5 273v1M441.5 278v1M441.5 295v1M441.5 309v1M441.5 320v1M441.5 336v1M442.5 142v2M442.5 149v1M442.5 174v1M442.5 181v1M442.5 279v1M442.5 284v1M442.5 327v1M442.5 335v1M443.5 188v1M443.5 197v1M443.5 205v1M443.5 209v1M443.5 219v1M443.5 221v1M443.5 270v1M443.5 288v1M443.5 294v1M443.5 306v1M443.5 316v1M443.5 321v1M447.5 184v1M447.5 194v1M447.5 263v1M447.5 269v1M447.5 289v1M447.5 319v1M448.5 179v1M448.5 184v1M448.5 186v1M448.5 195v2M448.5 278v1M448.5 290v1M448.5 295v1M448.5 297v1M448.5 319v1M448.5 348v1M449.5 179v1M449.5 184v1M449.5 188v1M449.5 274v1M449.5 279v1M449.5 286v1M449.5 291v1M449.5 297v1M449.5 301v1M449.5 304v1M449.5 335v1M449.5 341v1M450.5 111v1M450.5 141v1M450.5 162v1M450.5 170v1M450.5 175v2M450.5 179v1M450.5 183v2M450.5 186v1M450.5 195v1M450.5 281v1M450.5 289v1M450.5 294v1M450.5 300v1M450.5 304v1M450.5 306v1M450.5 315v1M450.5 323v1M450.5 343v1M451.5 197v1M451.5 207v1M451.5 262v1M451.5 264v1M451.5 274v1M451.5 276v1M451.5 279v1M451.5 284v1M451.5 287v1M451.5 297v1M451.5 300v1M451.5 307v1M451.5 314v1M451.5 324v1M452.5 184v1M452.5 188v1M452.5 191v1M452.5 195v1M452.5 206v1M452.5 233v1M452.5 259v1M452.5 263v1M452.5 267v2M452.5 282v1M452.5 284v1M452.5 287v1M452.5 289v1M452.5 307v1M452.5 312v1M453.5 184v1M453.5 188v1M453.5 193v1M453.5 272v1M453.5 282v1M453.5 287v1M453.5 289v1M453.5 293v1M453.5 304v1M453.5 319v1M453.5 326v1M454.5 127v1M454.5 158v1M454.5 187v1M454.5 192v1M454.5 198v1M454.5 208v1M454.5 219v1M454.5 261v1M454.5 268v2M454.5 287v3M454.5 304v1M454.5 309v2M454.5 312v1M454.5 316v1M455.5 182v1M455.5 197v1M455.5 199v1M455.5 208v1M455.5 215v1M455.5 218v1M455.5 230v1M455.5 237v1M455.5 244v1M455.5 247v1M455.5 263v1M455.5 268v1M455.5 273v1M455.5 303v1M455.5 310v1M488.5 188v1M488.5 204v1M488.5 235v1M488.5 249v1M488.5 255v1M488.5 261v1M488.5 279v1M488.5 281v1M488.5 296v1M489.5 182v1M489.5 274v1M489.5 277v1M489.5 281v1M489.5 301v1M489.5 311v1M490.5 177v1M490.5 182v1M490.5 271v1M490.5 273v1M490.5 281v1M490.5 317v1M490.5 319v1M490.5 321v1M490.5 350v1M491.5 170v1M491.5 192v2M491.5 205v1M491.5 273v1M491.5 277v1M491.5 291v1M491.5 300v1M491.5 304v1M491.5 306v2M491.5 309v1M491.5 315v1M491.5 345v1M492.5 193v1M492.5 196v2M492.5 200v1M492.5 202v1M492.5 273v2M492.5 277v1M492.5 281v3M492.5 288v1M492.5 310v1M492.5 315v1M492.5 390v1M493.5 180v1M493.5 190v1M493.5 196v1M493.5 282v1M493.5 295v1M493.5 324v1M494.5 177v1M494.5 190v1M494.5 202v1M494.5 266v1M494.5 272v1M494.5 274v1M494.5 276v1M494.5 281v1M494.5 285v1M494.5 294v1M494.5 306v1M494.5 314v1M494.5 318v1M494.5 327v1M495.5 180v1M495.5 190v2M495.5 210v1M495.5 215v1M495.5 244v1M495.5 263v1M495.5 272v1M495.5 275v1M495.5 292v1M496.5 190v1M496.5 195v1M496.5 198v2M496.5 265v1M496.5 271v1M496.5 283v1M497.5 200v1M497.5 204v1M497.5 274v1M497.5 281v1M497.5 285v1M497.5 290v1M497.5 295v1M497.5 366v1M498.5 174v1M498.5 197v3M498.5 201v1M498.5 204v1M498.5 263v1M498.5 268v1M498.5 270v2M498.5 279v1M498.5 287v1M498.5 291v1M498.5 294v1M498.5 296v1M499.5 269v1M499.5 281v1M499.5 294v1M499.5 315v1M500.5 186v1M500.5 188v1M500.5 207v1M500.5 209v1M500.5 213v1M500.5 219v1M500.5 221v1M500.5 223v1M500.5 239v1M500.5 241v1M500.5 249v1M500.5 256v1M500.5 258v1M500.5 269v1M500.5 273v1M500.5 286v1M500.5 306v1M500.5 339v1M501.5 180v1M501.5 200v1M501.5 209v1M501.5 221v1M501.5 226v1M501.5 232v1M501.5 241v1M501.5 243v1M501.5 247v1M501.5 250v1M501.5 253v1M501.5 264v2M502.5 211v1M502.5 214v1M502.5 219v2M502.5 224v1M502.5 238v1M502.5 245v1M533.5 213v1M533.5 215v1M533.5 218v1M533.5 221v3M533.5 225v1M533.5 236v1M533.5 250v1M533.5 252v1M533.5 255v1M533.5 264v1M533.5 285v1M533.5 291v1M533.5 343v1M533.5 351v1M534.5 209v2M534.5 212v1M534.5 218v2M534.5 222v1M534.5 231v1M534.5 243v1M534.5 251v1M534.5 268v1M534.5 272v1M534.5 283v1M534.5 303v1M534.5 307v1M534.5 309v2M534.5 316v1M534.5 319v1M534.5 328v1M534.5 356v1M535.5 208v1M535.5 226v1M535.5 237v2M535.5 251v1M535.5 258v1M535.5 262v1M535.5 270v3M535.5 281v1M535.5 286v1M535.5 288v1M535.5 309v2M535.5 316v1M535.5 322v1M535.5 328v1M535.5 333v1M536.5 226v1M536.5 233v3M536.5 240v2M536.5 249v3M536.5 255v1M536.5 259v1M536.5 265v2M536.5 269v3M536.5 274v1M536.5 286v1M536.5 289v3M536.5 295v2M536.5 299v1M536.5 301v1M536.5 304v1M536.5 308v1M536.5 317v1M536.5 321v2M536.5 334v1M536.5 356v1M537.5 207v1M537.5 220v1M537.5 225v1M537.5 271v1M537.5 273v1M537.5 277v1M537.5 298v1M537.5 306v1M537.5 312v1M538.5 200v1M538.5 215v1M538.5 221v1M538.5 223v1M538.5 229v1M538.5 231v1M538.5 264v1M538.5 285v1M538.5 288v1M538.5 292v1M538.5 296v1M538.5 304v2M538.5 312v1M538.5 325v1M538.5 329v1M538.5 341v1M539.5 210v2M539.5 214v1M539.5 216v1M539.5 219v1M539.5 227v4M539.5 250v1M539.5 253v2M539.5 273v1M539.5 280v1M539.5 287v1M539.5 321v1M539.5 328v1M539.5 334v1M540.5 208v1M540.5 213v1M540.5 216v1M540.5 218v1M540.5 220v1M540.5 225v1M540.5 242v1M540.5 244v1M540.5 247v1M540.5 261v1M540.5 263v2M540.5 271v1M540.5 274v1M540.5 277v1M540.5 279v1M540.5 282v1M540.5 288v2M540.5 291v1M540.5 304v1M540.5 307v1M540.5 313v1M540.5 315v1M540.5 319v1M540.5 324v2M540.5 334v1M540.5 343v1M540.5 348v1M541.5 220v1M541.5 222v1M541.5 231v1M541.5 235v1M541.5 237v1M541.5 248v1M541.5 260v1M541.5 263v1M541.5 270v1M541.5 275v2M541.5 281v1M541.5 288v1M541.5 290v1M541.5 294v1M541.5 319v1M541.5 333v1M542.5 202v1M542.5 207v1M542.5 218v1M542.5 224v1M542.5 306v1M542.5 321v1M542.5 333v1M542.5 345v1M543.5 206v2M543.5 215v2M543.5 221v2M543.5 224v1M543.5 226v2M543.5 229v1M543.5 241v1M543.5 250v1M543.5 252v2M543.5 255v1M543.5 264v1M543.5 267v1M543.5 271v1M543.5 273v2M543.5 276v1M543.5 278v1M543.5 286v1M543.5 293v1M543.5 295v3M543.5 304v1M543.5 306v1M543.5 316v1M543.5 321v1M543.5 330v1M543.5 337v1M544.5 198v1M544.5 205v1M544.5 215v1M544.5 220v1M544.5 232v1M544.5 235v1M544.5 238v1M544.5 242v1M544.5 250v1M544.5 252v2M544.5 264v1M544.5 269v1M544.5 272v1M544.5 275v1M544.5 280v1M544.5 283v1M544.5 286v1M544.5 292v1M544.5 295v3M544.5 299v1M545.5 258v1M545.5 273v1M545.5 279v1M545.5 289v1M545.5 291v1M545.5 315v2M547.5 224v1M547.5 228v1M547.5 230v1M547.5 249v1M547.5 280v1M547.5 293v1M547.5 296v1M547.5 300v1M547.5 302v1M547.5 304v1M547.5 308v1M547.5 331v1M547.5 337v1M547.5 341v1M548.5 262v1M548.5 266v1M548.5 281v1M550.5 237v2M550.5 242v1M550.5 244v2M550.5 265v1M550.5 282v1M550.5 286v1M550.5 293v1M550.5 297v1M550.5 303v1M550.5 310v1M550.5 312v1M550.5 315v1M550.5 317v1M550.5 321v1M550.5 330v1M550.5 335v1M550.5 337v1M550.5 340v1M551.5 231v3M551.5 237v2M551.5 240v1M551.5 242v1M551.5 245v1M551.5 254v1M551.5 257v1M551.5 274v1M551.5 276v1M551.5 279v1M551.5 285v1M551.5 290v1M551.5 292v1M551.5 298v1M551.5 313v2M551.5 327v1M551.5 329v1M551.5 332v1M551.5 344v1M552.5 228v1M552.5 238v1M552.5 252v1M552.5 258v1M552.5 261v1M552.5 280v1M552.5 282v1M552.5 287v1M552.5 289v1M552.5 311v1M552.5 320v1M552.5 325v1M552.5 327v1M552.5 331v1M552.5 333v1M552.5 335v1M552.5 339v1M553.5 233v1M553.5 250v1M553.5 273v2M553.5 279v2M553.5 289v2M553.5 292v1M553.5 297v1M553.5 302v1M553.5 307v1M553.5 309v1M553.5 316v1M553.5 319v1M553.5 322v1M553.5 326v2M553.5 329v1M554.5 249v1M554.5 281v1M554.5 283v1M554.5 288v1M554.5 293v1M554.5 300v1M554.5 310v1M554.5 314v1M554.5 316v1M554.5 319v1M554.5 325v1"/><path stroke="#5799c7" d="M104.5 215v1M104.5 220v2M104.5 225v1M104.5 243v1M104.5 256v1M105.5 207v1M105.5 219v1M105.5 225v1M105.5 229v1M105.5 240v1M105.5 258v1M205.5 220v1M205.5 259v1M205.5 277v1M206.5 205v1M206.5 230v1M206.5 237v1M206.5 245v1M206.5 262v1M207.5 186v1M207.5 193v1M207.5 208v1M207.5 212v2M207.5 215v1M207.5 227v1M207.5 233v1M207.5 247v1M207.5 249v1M207.5 255v1M207.5 261v1M207.5 265v1M207.5 267v1M207.5 273v1M208.5 241v1M208.5 244v1M208.5 250v1M209.5 212v2M209.5 218v1M209.5 221v1M209.5 223v1M209.5 237v1M209.5 245v1M210.5 194v1M210.5 210v1M210.5 216v1M210.5 220v1M210.5 224v2M210.5 230v1M210.5 240v1M210.5 254v2M210.5 257v1M210.5 262v2M211.5 206v1M211.5 217v2M211.5 228v1M211.5 232v1M211.5 238v1M211.5 241v1M211.5 247v1M211.5 249v1M211.5 251v1M211.5 256v1M211.5 259v1M212.5 180v1M212.5 200v1M212.5 206v2M212.5 215v1M212.5 217v1M212.5 231v3M212.5 235v1M212.5 252v1M212.5 254v1M212.5 258v1M212.5 261v1M212.5 263v1M212.5 273v1M213.5 195v1M213.5 217v1M213.5 220v1M213.5 229v1M213.5 235v1M213.5 256v2M213.5 266v1M214.5 213v1M214.5 220v1M214.5 224v1M214.5 238v1M214.5 243v2M214.5 255v1M215.5 215v1M216.5 205v1M216.5 207v1M216.5 217v1M216.5 225v1M216.5 242v1M216.5 246v2M216.5 251v2M216.5 259v1M216.5 264v1M216.5 268v1M216.5 272v1M216.5 283v1M217.5 201v1M217.5 206v1M217.5 212v1M217.5 248v2M217.5 260v1M217.5 270v1M217.5 284v1M218.5 197v1M218.5 202v1M218.5 211v1M218.5 221v1M218.5 229v2M218.5 238v1M218.5 240v1M218.5 245v1M218.5 249v1M218.5 256v1M218.5 258v1M218.5 266v1M218.5 273v1M218.5 285v1M219.5 269v1M219.5 277v1M220.5 200v1M220.5 202v2M220.5 206v1M220.5 208v1M220.5 211v1M220.5 215v2M220.5 224v2M220.5 231v2M220.5 235v1M220.5 237v1M220.5 240v1M220.5 249v1M220.5 251v1M220.5 254v2M220.5 258v1M220.5 261v1M220.5 265v2M220.5 271v1M220.5 275v1M220.5 284v1M220.5 286v2M220.5 292v1M220.5 294v1M221.5 216v1M221.5 221v1M221.5 223v1M221.5 228v2M221.5 246v1M221.5 252v1M221.5 264v2M221.5 267v1M221.5 273v1M221.5 275v1M223.5 152v1M223.5 256v1M223.5 284v1M252.5 190v1M253.5 221v1M253.5 225v1M253.5 231v1M253.5 238v1M253.5 241v1M253.5 256v1M254.5 210v1M254.5 215v1M254.5 233v1M254.5 253v1M255.5 237v1M256.5 205v1M256.5 223v1M256.5 227v1M256.5 230v1M256.5 236v1M256.5 254v1M256.5 258v1M257.5 245v1M262.5 199v1M262.5 204v1M262.5 225v1M262.5 248v1M265.5 211v1M265.5 215v1M265.5 251v1M266.5 232v1M266.5 242v1M266.5 274v1M267.5 195v1M267.5 198v1M267.5 208v1M267.5 214v1M267.5 226v1M267.5 233v1M267.5 248v1M267.5 251v1M267.5 262v1M268.5 213v1M268.5 223v1M268.5 239v1M268.5 245v1M268.5 250v2M268.5 258v1M269.5 203v1M269.5 212v1M269.5 215v1M269.5 217v1M269.5 246v1M269.5 256v1M269.5 281v1M270.5 216v1M270.5 218v1M270.5 220v1M270.5 223v1M270.5 226v1M270.5 231v1M270.5 253v1M270.5 258v1M270.5 261v1M271.5 189v1M271.5 228v2M271.5 234v2M271.5 238v1M271.5 242v1M271.5 245v1M271.5 248v1M271.5 264v1M272.5 221v1M272.5 224v1M272.5 226v1M272.5 242v1M272.5 252v1M272.5 258v1M296.5 326v1M299.5 236v1M299.5 239v1M299.5 265v1M300.5 190v1M300.5 205v1M300.5 213v2M300.5 220v1M300.5 230v2M300.5 233v1M300.5 235v1M300.5 243v1M300.5 245v1M300.5 253v1M300.5 255v2M301.5 220v1M301.5 256v1M302.5 176v1M302.5 210v1M302.5 259v1M302.5 275v1M303.5 183v1M303.5 185v1M303.5 206v1M303.5 214v1M303.5 223v1M303.5 258v1M303.5 265v1M304.5 199v1M304.5 205v1M304.5 211v1M304.5 215v1M304.5 219v1M304.5 224v1M304.5 228v1M304.5 245v1M304.5 248v2M304.5 254v1M304.5 268v1M304.5 271v1M304.5 280v1M305.5 207v1M305.5 224v1M305.5 226v1M305.5 246v1M305.5 250v1M305.5 254v1M306.5 208v1M306.5 212v1M306.5 221v1M306.5 225v1M306.5 227v1M306.5 234v1M306.5 242v1M306.5 252v1M307.5 208v1M307.5 220v1M307.5 229v1M307.5 231v1M307.5 239v1M307.5 242v1M307.5 245v1M307.5 252v2M308.5 209v1M308.5 221v2M308.5 233v1M308.5 240v1M309.5 204v1M309.5 206v1M309.5 232v1M309.5 236v2M309.5 248v1M309.5 250v1M309.5 258v1M309.5 273v1M309.5 306v1M310.5 204v1M310.5 210v1M310.5 217v1M310.5 230v2M310.5 239v1M310.5 245v1M310.5 247v1M310.5 252v1M310.5 257v1M311.5 218v1M311.5 238v1M311.5 261v1M311.5 263v1M312.5 207v1M312.5 223v2M312.5 229v1M312.5 232v1M312.5 239v1M312.5 249v1M312.5 252v2M312.5 255v1M312.5 269v1M312.5 278v1M313.5 207v1M313.5 238v1M313.5 247v1M313.5 253v1M313.5 258v1M314.5 217v2M314.5 222v1M314.5 235v1M314.5 240v1M314.5 246v2M314.5 251v1M314.5 256v1M314.5 263v1M315.5 207v1M315.5 214v1M315.5 234v1M315.5 333v1M316.5 189v1M316.5 214v1M316.5 220v1M316.5 222v1M316.5 259v1M316.5 276v1M317.5 193v1M317.5 206v2M317.5 210v1M317.5 225v2M317.5 231v1M317.5 235v1M317.5 240v1M317.5 263v1M317.5 274v1M346.5 217v1M346.5 222v2M346.5 227v1M346.5 232v1M346.5 242v1M347.5 218v1M347.5 229v2M347.5 242v1M348.5 220v2M348.5 224v1M348.5 226v1M348.5 244v1M348.5 254v1M392.5 407v1M440.5 177v1M440.5 223v1M440.5 270v1M440.5 289v1M440.5 291v1M441.5 90v1M441.5 97v1M441.5 109v1M441.5 198v1M441.5 236v1M441.5 275v1M441.5 283v1M441.5 293v1M441.5 316v1M442.5 182v1M442.5 189v1M442.5 281v1M442.5 288v1M442.5 312v1M442.5 320v1M442.5 332v2M443.5 117v1M443.5 145v1M443.5 161v1M443.5 179v1M443.5 186v1M443.5 194v1M443.5 199v1M443.5 201v1M443.5 215v1M443.5 217v1M443.5 224v1M443.5 227v1M443.5 229v1M443.5 231v1M443.5 234v1M443.5 247v1M443.5 266v1M443.5 277v1M443.5 284v1M443.5 287v1M443.5 290v1M443.5 313v1M443.5 328v1M443.5 340v1M443.5 398v1M447.5 279v1M447.5 281v1M447.5 286v1M447.5 294v1M447.5 296v1M447.5 299v1M447.5 309v1M448.5 180v1M448.5 188v1M448.5 192v1M448.5 270v1M448.5 275v1M448.5 280v1M448.5 286v1M449.5 127v1M449.5 148v1M449.5 290v1M449.5 324v1M450.5 120v1M450.5 140v1M450.5 144v1M450.5 171v1M450.5 187v1M450.5 191v1M450.5 278v1M450.5 293v1M450.5 296v1M450.5 298v2M450.5 305v1M450.5 307v1M450.5 314v1M450.5 319v1M450.5 326v1M450.5 331v1M450.5 335v1M450.5 337v1M451.5 175v1M451.5 180v1M451.5 184v1M451.5 190v2M451.5 193v1M451.5 266v1M451.5 269v1M451.5 271v1M451.5 277v1M451.5 282v2M451.5 293v1M451.5 295v2M451.5 306v1M451.5 310v1M451.5 320v1M451.5 327v1M451.5 343v1M451.5 355v1M452.5 134v1M452.5 192v1M452.5 203v1M452.5 205v1M452.5 274v1M452.5 278v1M452.5 280v2M452.5 304v1M453.5 191v1M453.5 306v1M453.5 316v1M453.5 367v1M454.5 168v1M454.5 177v1M454.5 184v3M454.5 191v1M454.5 199v1M454.5 263v1M454.5 265v1M454.5 267v1M454.5 275v1M454.5 279v1M454.5 282v1M454.5 294v1M454.5 332v1M454.5 338v1M454.5 371v1M455.5 181v1M455.5 189v1M455.5 195v1M455.5 204v1M455.5 206v1M455.5 210v1M455.5 216v1M455.5 220v1M455.5 222v1M455.5 227v2M455.5 233v1M455.5 235v1M455.5 241v1M455.5 243v1M455.5 246v1M455.5 252v1M455.5 254v1M455.5 256v1M455.5 258v1M455.5 286v1M455.5 288v1M455.5 292v1M455.5 299v1M455.5 321v1M488.5 195v2M488.5 205v1M489.5 188v1M489.5 190v1M489.5 192v1M489.5 278v1M489.5 299v1M489.5 328v1M490.5 166v1M490.5 169v1M490.5 180v1M490.5 191v1M490.5 311v1M490.5 381v1M491.5 171v2M491.5 177v1M491.5 201v1M491.5 274v1M491.5 279v1M491.5 284v2M491.5 287v1M491.5 298v1M491.5 301v1M491.5 305v1M491.5 308v1M491.5 324v1M491.5 326v1M491.5 335v1M491.5 340v1M491.5 352v1M492.5 127v1M492.5 179v1M492.5 181v1M492.5 189v1M492.5 194v1M492.5 198v1M492.5 204v1M492.5 260v1M492.5 263v1M492.5 266v1M492.5 272v1M492.5 275v1M492.5 285v1M492.5 287v1M492.5 290v1M492.5 292v1M492.5 296v1M492.5 299v1M492.5 309v1M492.5 333v1M493.5 184v1M493.5 198v1M493.5 268v1M493.5 272v1M493.5 275v1M493.5 309v1M493.5 317v1M493.5 391v1M494.5 171v1M494.5 185v1M494.5 191v1M494.5 270v1M494.5 273v1M494.5 282v1M494.5 289v1M494.5 295v1M494.5 297v1M494.5 299v1M494.5 311v1M494.5 316v1M494.5 367v1M495.5 181v1M495.5 199v1M495.5 201v2M495.5 208v1M495.5 214v1M495.5 262v1M495.5 265v2M495.5 281v1M496.5 203v1M496.5 276v1M496.5 284v1M496.5 295v1M496.5 302v1M496.5 312v1M497.5 170v1M497.5 190v1M497.5 198v1M497.5 269v1M497.5 280v1M497.5 282v2M498.5 99v1M498.5 166v1M498.5 185v1M498.5 188v1M498.5 193v1M498.5 273v1M498.5 276v1M498.5 281v1M498.5 288v1M498.5 297v1M498.5 299v2M498.5 319v1M498.5 382v1M499.5 164v1M499.5 187v1M499.5 190v1M499.5 334v1M499.5 350v1M500.5 122v1M500.5 185v1M500.5 191v1M500.5 196v1M500.5 198v1M500.5 208v1M500.5 211v2M500.5 217v1M500.5 220v1M500.5 229v1M500.5 245v1M500.5 251v1M500.5 260v1M500.5 272v1M500.5 275v2M500.5 279v1M500.5 284v1M500.5 291v1M500.5 296v1M500.5 299v1M500.5 301v1M500.5 303v1M500.5 305v1M500.5 308v1M500.5 316v2M500.5 324v1M500.5 351v1M501.5 147v1M501.5 194v3M501.5 199v1M501.5 202v1M501.5 213v1M501.5 215v1M501.5 220v1M501.5 228v1M501.5 231v1M501.5 249v1M501.5 252v1M501.5 256v1M501.5 258v1M501.5 267v1M502.5 164v1M502.5 197v1M502.5 218v1M502.5 226v2M502.5 231v2M502.5 234v2M502.5 247v1M502.5 249v2M502.5 254v2M502.5 261v1M502.5 267v1M502.5 269v1M502.5 285v1M533.5 226v2M533.5 316v1M533.5 319v1M533.5 323v1M533.5 329v1M534.5 204v1M534.5 207v1M534.5 228v1M534.5 323v1M534.5 326v1M534.5 337v1M534.5 358v1M535.5 216v1M535.5 219v1M535.5 221v1M535.5 231v1M535.5 249v1M535.5 255v1M535.5 276v1M535.5 282v1M535.5 285v1M535.5 287v1M535.5 291v1M535.5 293v1M535.5 299v1M535.5 305v1M535.5 308v1M535.5 313v2M535.5 329v1M535.5 332v1M535.5 334v1M535.5 336v1M535.5 344v1M535.5 353v1M536.5 244v1M536.5 246v1M536.5 254v1M536.5 256v2M536.5 262v1M536.5 267v1M536.5 272v1M536.5 276v3M536.5 281v1M536.5 285v1M536.5 288v1M536.5 292v1M536.5 297v1M536.5 303v1M536.5 306v1M536.5 313v2M536.5 324v2M536.5 338v1M536.5 342v1M538.5 201v1M538.5 204v1M538.5 213v1M538.5 226v1M538.5 233v1M538.5 261v1M538.5 311v1M538.5 320v1M538.5 326v1M538.5 334v1M538.5 336v1M539.5 237v1M539.5 258v1M539.5 265v1M540.5 198v1M540.5 207v1M540.5 221v4M540.5 226v1M540.5 229v1M540.5 238v1M540.5 240v1M540.5 257v1M540.5 259v1M540.5 269v1M540.5 276v1M540.5 278v1M540.5 283v2M540.5 300v1M540.5 302v2M540.5 305v1M540.5 308v1M540.5 312v1M540.5 320v1M540.5 326v1M540.5 329v1M540.5 331v1M540.5 333v1M540.5 338v1M540.5 344v1M541.5 216v1M541.5 272v1M541.5 279v1M541.5 297v1M541.5 316v1M541.5 321v1M541.5 324v1M541.5 329v1M542.5 142v1M542.5 210v1M542.5 215v1M542.5 220v1M542.5 328v1M542.5 336v1M543.5 196v1M543.5 214v1M543.5 220v1M543.5 244v1M543.5 268v1M543.5 287v1M543.5 292v1M543.5 298v1M543.5 314v2M543.5 317v1M543.5 322v2M543.5 325v3M543.5 342v1M544.5 171v1M544.5 208v1M544.5 214v1M544.5 219v1M544.5 226v1M544.5 228v2M544.5 236v1M544.5 243v1M544.5 246v2M544.5 254v1M544.5 260v2M544.5 274v1M544.5 276v2M544.5 282v1M544.5 289v2M544.5 302v3M544.5 308v1M544.5 311v1M544.5 323v1M544.5 330v1M544.5 334v1M544.5 337v1M544.5 339v1M545.5 211v1M545.5 246v1M545.5 250v2M545.5 253v1M545.5 268v2M545.5 271v1M545.5 282v1M545.5 290v1M545.5 296v2M545.5 307v1M545.5 312v1M547.5 208v1M547.5 210v1M547.5 220v1M547.5 232v1M547.5 235v2M547.5 246v1M547.5 255v2M547.5 262v1M547.5 264v3M547.5 268v1M547.5 274v1M547.5 276v1M547.5 284v1M547.5 294v1M547.5 298v1M547.5 306v1M547.5 311v1M547.5 313v1M547.5 319v2M547.5 326v1M547.5 329v2M547.5 332v1M547.5 340v1M547.5 343v1M548.5 263v1M550.5 144v1M550.5 229v1M550.5 232v1M550.5 241v1M550.5 264v1M550.5 270v1M550.5 291v1M550.5 305v1M550.5 329v1M550.5 341v1M550.5 350v1M551.5 244v1M551.5 265v1M551.5 288v1M551.5 301v1M551.5 330v1M551.5 335v1M551.5 337v1M552.5 225v1M552.5 231v1M552.5 236v1M552.5 243v1M552.5 248v2M552.5 284v1M552.5 294v1M552.5 300v1M552.5 305v1M552.5 309v1M552.5 319v1M552.5 329v2M552.5 343v1M553.5 241v2M553.5 249v1M553.5 257v1M553.5 259v1M553.5 263v2M553.5 270v1M553.5 275v1M553.5 285v1M553.5 299v1M553.5 304v1M553.5 306v1M553.5 315v1M553.5 317v2M553.5 328v1M553.5 343v1M554.5 247v1M554.5 263v1M554.5 266v1M554.5 269v1M554.5 273v1M554.5 275v1M554.5 279v1M554.5 298v1M554.5 313v1M554.5 322v1M554.5 327v1M554.5 330v1M554.5 334v1"/><path stroke="#4c92c3" d="M104.5 226v1M105.5 215v1M105.5 227v2M207.5 200v1M207.5 207v1M207.5 216v1M207.5 223v1M207.5 229v1M207.5 231v1M207.5 235v1M207.5 242v2M207.5 260v1M208.5 222v1M208.5 229v1M208.5 260v1M208.5 262v1M210.5 204v1M210.5 226v1M210.5 258v1M210.5 260v1M211.5 215v1M212.5 211v1M212.5 219v1M212.5 222v1M212.5 239v1M212.5 244v1M212.5 246v1M212.5 250v1M213.5 232v1M214.5 216v1M214.5 231v1M214.5 234v1M214.5 237v1M214.5 239v1M214.5 246v1M214.5 249v2M216.5 195v2M216.5 199v1M216.5 213v1M216.5 220v1M216.5 223v1M216.5 228v1M216.5 231v1M216.5 249v1M216.5 253v1M216.5 256v1M216.5 262v1M216.5 266v1M216.5 275v1M217.5 209v1M217.5 254v1M218.5 204v1M218.5 207v1M218.5 220v1M218.5 224v2M218.5 227v1M218.5 234v1M218.5 244v1M218.5 246v1M218.5 253v1M218.5 260v1M218.5 268v1M219.5 196v1M219.5 198v1M220.5 205v1M220.5 229v1M220.5 241v1M220.5 252v1M220.5 260v1M220.5 273v1M220.5 276v1M220.5 288v1M221.5 199v1M221.5 207v1M221.5 210v4M221.5 235v1M221.5 256v1M221.5 259v1M221.5 266v1M221.5 270v1M221.5 276v1M221.5 286v1M252.5 247v1M253.5 235v1M253.5 243v1M254.5 241v1M256.5 249v1M257.5 233v1M257.5 250v1M262.5 198v1M266.5 227v1M266.5 240v1M267.5 202v2M267.5 217v1M267.5 220v1M267.5 245v1M267.5 254v1M268.5 226v1M268.5 233v1M268.5 241v1M268.5 249v1M269.5 206v1M269.5 214v1M269.5 225v1M269.5 237v1M269.5 247v1M269.5 252v1M269.5 263v1M270.5 210v1M270.5 228v1M270.5 236v1M270.5 238v1M270.5 242v1M270.5 247v1M270.5 254v1M271.5 204v1M271.5 213v1M271.5 221v1M271.5 232v1M271.5 237v1M272.5 203v1M272.5 213v1M272.5 218v2M272.5 235v1M272.5 243v1M272.5 245v1M272.5 247v1M272.5 250v1M272.5 257v1M300.5 194v1M300.5 217v1M300.5 219v1M300.5 223v1M300.5 238v1M300.5 240v2M300.5 252v1M302.5 199v1M302.5 203v1M302.5 215v1M303.5 212v1M303.5 218v1M303.5 256v1M304.5 210v1M304.5 220v1M304.5 226v1M304.5 232v1M304.5 234v1M304.5 244v1M304.5 258v1M304.5 262v1M306.5 216v1M306.5 222v1M306.5 232v1M306.5 246v1M308.5 223v1M309.5 241v1M310.5 244v1M310.5 249v1M311.5 222v1M312.5 217v1M312.5 227v1M312.5 256v1M312.5 259v2M313.5 226v1M313.5 228v1M314.5 205v1M314.5 215v1M314.5 237v1M314.5 241v1M316.5 250v1M317.5 215v1M317.5 243v1M317.5 245v1M317.5 247v2M317.5 252v2M317.5 266v1M346.5 226v1M346.5 234v1M346.5 247v2M347.5 222v1M347.5 224v1M347.5 233v1M347.5 236v1M347.5 244v1M348.5 227v1M348.5 230v1M348.5 236v1M348.5 242v1M392.5 377v1M392.5 397v1M440.5 189v1M440.5 287v1M441.5 280v1M441.5 298v1M442.5 307v1M443.5 195v1M443.5 223v1M443.5 236v5M443.5 242v2M443.5 245v1M443.5 249v2M443.5 253v1M443.5 259v1M443.5 263v1M443.5 267v1M443.5 279v3M443.5 283v1M443.5 289v1M443.5 292v1M443.5 295v1M443.5 304v1M443.5 315v1M447.5 261v1M448.5 187v1M448.5 199v1M448.5 265v1M448.5 273v1M448.5 277v1M448.5 281v1M449.5 147v1M449.5 169v1M449.5 182v1M449.5 300v1M450.5 151v1M450.5 181v1M450.5 271v1M450.5 288v1M450.5 317v1M450.5 341v1M451.5 165v1M451.5 177v1M451.5 186v1M451.5 199v1M451.5 280v1M451.5 289v1M451.5 302v1M451.5 313v1M451.5 319v1M452.5 177v1M452.5 183v1M452.5 185v1M452.5 190v1M452.5 265v1M452.5 272v1M452.5 288v1M452.5 295v1M452.5 300v1M453.5 286v1M453.5 296v1M454.5 176v1M454.5 188v2M454.5 281v1M454.5 285v1M454.5 292v1M454.5 295v1M454.5 297v1M454.5 301v1M455.5 171v1M455.5 187v1M455.5 198v1M455.5 201v1M455.5 224v2M455.5 232v1M455.5 257v1M455.5 262v1M455.5 265v1M455.5 267v1M455.5 272v1M455.5 279v1M455.5 281v1M455.5 287v1M455.5 293v1M455.5 301v1M455.5 309v1M455.5 312v1M455.5 316v1M490.5 286v1M491.5 173v1M491.5 182v1M491.5 188v1M491.5 190v1M491.5 282v1M491.5 290v1M492.5 169v1M492.5 187v1M492.5 195v1M492.5 267v1M492.5 269v2M492.5 286v1M492.5 300v1M492.5 304v1M493.5 281v1M493.5 284v1M493.5 288v1M494.5 200v1M494.5 269v1M494.5 300v1M494.5 359v1M495.5 187v1M495.5 192v1M495.5 268v1M495.5 276v1M495.5 283v1M495.5 297v1M495.5 314v1M496.5 307v1M497.5 193v2M497.5 196v1M497.5 273v1M497.5 277v1M497.5 323v1M498.5 187v1M498.5 192v1M498.5 195v1M498.5 202v1M498.5 267v1M498.5 280v1M498.5 292v1M498.5 301v1M499.5 198v1M499.5 271v1M499.5 274v1M500.5 195v1M500.5 200v3M500.5 206v1M500.5 254v1M500.5 262v1M500.5 277v2M500.5 294v1M500.5 307v1M500.5 315v1M501.5 203v1M501.5 214v1M501.5 224v1M501.5 260v1M501.5 273v1M501.5 275v1M502.5 208v1M502.5 217v1M502.5 228v1M502.5 241v1M502.5 252v2M502.5 259v2M533.5 259v1M533.5 321v1M534.5 211v1M534.5 314v1M534.5 343v1M535.5 211v1M535.5 213v1M535.5 218v1M535.5 224v1M535.5 266v1M535.5 307v1M535.5 311v1M535.5 331v1M536.5 213v1M536.5 217v1M536.5 220v1M536.5 225v1M536.5 227v2M536.5 239v1M536.5 243v1M536.5 252v1M536.5 258v1M536.5 268v1M536.5 280v1M536.5 282v2M536.5 300v1M536.5 302v1M536.5 310v1M536.5 312v1M536.5 318v1M536.5 329v1M538.5 217v1M538.5 222v1M538.5 246v1M538.5 248v1M539.5 212v1M539.5 336v1M540.5 210v1M540.5 236v1M540.5 245v1M540.5 248v1M540.5 250v1M540.5 260v1M540.5 286v1M540.5 293v1M540.5 306v1M540.5 316v1M540.5 323v1M541.5 251v1M541.5 292v1M541.5 314v1M542.5 211v1M542.5 324v1M543.5 202v1M543.5 218v1M543.5 233v1M543.5 238v1M543.5 282v1M543.5 312v1M543.5 319v1M543.5 332v1M543.5 335v1M543.5 340v1M544.5 227v1M544.5 239v3M544.5 245v1M544.5 249v1M544.5 255v1M544.5 257v1M544.5 262v2M544.5 265v1M544.5 271v1M544.5 273v1M544.5 288v1M544.5 301v1M544.5 309v2M544.5 320v2M544.5 325v1M545.5 229v1M545.5 241v1M545.5 252v1M545.5 255v2M545.5 262v1M545.5 281v1M545.5 302v1M547.5 218v2M547.5 227v1M547.5 233v1M547.5 243v2M547.5 248v1M547.5 257v1M547.5 260v2M547.5 263v1M547.5 269v1M547.5 271v2M547.5 286v2M547.5 290v1M547.5 301v1M547.5 310v1M547.5 317v1M547.5 325v1M548.5 222v1M548.5 300v1M549.5 262v1M550.5 235v1M550.5 278v1M550.5 326v1M550.5 332v1M550.5 339v1M551.5 235v1M551.5 247v1M551.5 251v1M551.5 328v1M551.5 341v1M552.5 234v1M552.5 322v1M552.5 332v1M553.5 240v1M553.5 244v1M553.5 266v1M553.5 268v1M553.5 293v1M553.5 295v1M553.5 310v1M553.5 312v1M553.5 314v1M553.5 333v1M554.5 240v1M554.5 242v2M554.5 252v1M554.5 264v2M554.5 271v1M554.5 274v1M554.5 278v1M554.5 284v1M554.5 286v1M554.5 297v1M554.5 302v2M554.5 307v1M554.5 311v1M554.5 318v1M554.5 326v1"/><path stroke="#418bbf" d="M104.5 223v1M105.5 220v1M105.5 224v1M105.5 234v1M205.5 235v1M205.5 244v1M205.5 251v1M205.5 255v1M206.5 268v1M207.5 221v1M207.5 226v1M207.5 238v1M207.5 245v1M207.5 252v2M207.5 266v1M208.5 249v1M208.5 258v1M210.5 248v1M212.5 208v1M212.5 216v1M212.5 223v1M212.5 255v1M212.5 259v1M214.5 223v1M214.5 228v1M214.5 230v1M214.5 236v1M214.5 259v1M214.5 265v1M216.5 221v1M216.5 237v1M216.5 261v1M216.5 273v1M216.5 277v1M217.5 251v1M218.5 275v1M220.5 176v1M220.5 193v1M220.5 201v1M220.5 209v1M220.5 214v1M220.5 219v1M220.5 248v1M220.5 257v1M221.5 204v1M221.5 215v1M221.5 230v2M221.5 234v1M221.5 245v1M221.5 260v1M221.5 262v1M221.5 268v2M254.5 249v1M255.5 235v1M256.5 218v1M256.5 222v1M256.5 224v1M256.5 241v1M256.5 252v1M262.5 222v1M265.5 237v1M265.5 248v1M266.5 246v1M267.5 230v1M267.5 236v1M268.5 231v1M268.5 234v1M268.5 238v1M269.5 195v1M269.5 259v1M271.5 206v1M271.5 208v1M271.5 219v1M271.5 230v1M271.5 260v1M272.5 210v1M272.5 223v1M272.5 231v1M272.5 236v1M272.5 240v1M272.5 251v1M272.5 255v1M272.5 265v1M299.5 229v1M299.5 250v1M300.5 215v1M300.5 228v1M300.5 237v1M300.5 247v1M300.5 258v1M301.5 224v1M302.5 208v1M302.5 266v1M303.5 207v1M304.5 213v1M304.5 222v1M304.5 230v1M304.5 236v1M304.5 257v1M305.5 241v1M308.5 238v1M308.5 251v1M309.5 220v1M309.5 225v1M309.5 228v1M310.5 253v1M312.5 219v1M312.5 221v1M312.5 234v1M313.5 255v1M314.5 231v1M317.5 223v2M317.5 228v1M317.5 238v1M317.5 246v1M317.5 249v1M346.5 220v1M346.5 239v1M348.5 228v1M348.5 231v1M348.5 247v1M392.5 388v1M392.5 400v1M392.5 408v1M442.5 101v1M442.5 140v1M442.5 160v1M442.5 286v1M442.5 292v1M442.5 300v1M443.5 187v1M443.5 189v1M443.5 206v3M443.5 210v3M443.5 222v1M443.5 226v1M443.5 232v2M443.5 244v1M443.5 246v1M443.5 251v1M443.5 254v2M443.5 257v1M443.5 264v2M443.5 268v1M443.5 278v1M443.5 282v1M443.5 285v1M443.5 293v1M443.5 301v1M443.5 305v1M447.5 191v1M448.5 284v1M448.5 288v1M448.5 292v1M448.5 306v1M448.5 321v1M450.5 153v1M451.5 182v1M451.5 188v1M451.5 299v1M451.5 329v1M452.5 111v1M452.5 187v1M452.5 197v1M452.5 270v1M452.5 283v1M452.5 290v1M454.5 273v1M454.5 276v1M454.5 298v1M455.5 190v1M455.5 200v1M455.5 202v2M455.5 205v1M455.5 209v1M455.5 211v1M455.5 221v1M455.5 236v1M455.5 238v1M455.5 251v1M455.5 255v1M455.5 259v3M455.5 264v1M455.5 266v1M455.5 269v2M455.5 274v2M455.5 296v1M491.5 164v1M491.5 184v1M491.5 196v1M491.5 199v1M491.5 293v1M491.5 302v1M491.5 348v1M492.5 191v1M492.5 276v1M492.5 320v1M493.5 192v1M493.5 292v1M494.5 182v1M494.5 194v1M494.5 277v1M494.5 287v1M494.5 290v1M494.5 296v1M495.5 195v1M495.5 271v1M495.5 274v1M495.5 278v2M495.5 304v1M497.5 206v1M498.5 200v1M498.5 261v1M498.5 275v1M498.5 286v1M500.5 177v1M500.5 268v1M500.5 270v1M500.5 274v1M500.5 285v1M500.5 289v1M501.5 218v1M502.5 221v3M502.5 230v1M502.5 236v2M502.5 240v1M502.5 242v1M502.5 258v1M502.5 274v1M502.5 277v1M533.5 217v1M533.5 334v1M534.5 341v1M535.5 209v1M535.5 215v1M535.5 229v1M535.5 253v1M535.5 319v1M535.5 347v1M536.5 232v1M536.5 248v1M536.5 260v1M536.5 264v1M536.5 294v1M536.5 316v1M538.5 314v1M538.5 317v1M538.5 324v1M539.5 345v1M540.5 211v1M540.5 228v1M540.5 233v1M540.5 252v1M540.5 266v1M540.5 309v1M540.5 318v1M540.5 346v1M541.5 243v1M542.5 318v1M543.5 258v1M543.5 333v1M544.5 218v1M544.5 225v1M544.5 279v1M544.5 285v1M544.5 293v2M544.5 305v1M544.5 307v1M545.5 233v1M545.5 243v1M545.5 257v1M545.5 266v1M545.5 270v1M545.5 278v1M545.5 299v1M545.5 314v1M545.5 327v1M547.5 231v1M547.5 239v1M547.5 247v1M547.5 258v2M547.5 267v1M547.5 270v1M547.5 273v1M547.5 275v1M547.5 292v1M547.5 299v1M547.5 305v1M547.5 316v1M547.5 318v1M547.5 321v1M548.5 228v1M548.5 249v1M548.5 302v1M548.5 320v1M550.5 336v1M551.5 241v1M551.5 338v1M552.5 239v1M553.5 276v1M553.5 296v1M554.5 244v1M554.5 250v2M554.5 268v1M554.5 270v1M554.5 285v1M554.5 287v1M554.5 304v1M554.5 312v1M554.5 315v1M554.5 317v1M554.5 320v2M554.5 328v1"/><path stroke="#3585bc" d="M105.5 232v1M207.5 224v1M207.5 236v1M207.5 240v1M207.5 257v1M212.5 213v1M212.5 227v1M212.5 242v1M214.5 210v1M214.5 226v1M214.5 245v1M214.5 258v1M216.5 198v1M216.5 218v1M216.5 235v1M217.5 233v1M220.5 197v1M220.5 222v1M220.5 227v1M220.5 244v1M220.5 281v1M221.5 218v1M221.5 220v1M221.5 225v1M221.5 237v1M221.5 247v1M221.5 253v1M221.5 255v1M221.5 263v1M256.5 220v1M256.5 232v1M265.5 225v1M265.5 228v1M266.5 261v1M269.5 222v1M271.5 211v1M271.5 269v1M272.5 195v1M272.5 201v1M272.5 217v1M272.5 233v1M272.5 239v1M272.5 246v1M272.5 249v1M272.5 259v1M300.5 201v1M300.5 225v1M303.5 263v1M304.5 217v1M304.5 242v1M304.5 251v1M304.5 255v1M306.5 218v1M307.5 214v1M307.5 256v1M309.5 260v1M312.5 214v1M314.5 227v1M314.5 250v1M316.5 256v1M317.5 227v1M317.5 230v1M317.5 236v1M317.5 239v1M317.5 251v1M317.5 254v1M317.5 258v1M346.5 237v1M348.5 219v1M348.5 223v1M348.5 238v1M348.5 240v1M392.5 372v1M392.5 378v1M441.5 188v1M443.5 193v1M443.5 198v1M443.5 200v1M443.5 214v1M443.5 218v1M443.5 225v1M443.5 228v1M443.5 241v1M443.5 248v1M443.5 256v1M443.5 260v1M443.5 262v1M443.5 269v1M443.5 271v1M443.5 273v2M443.5 296v1M448.5 174v1M450.5 178v1M450.5 192v1M450.5 311v1M451.5 286v1M452.5 279v1M452.5 292v1M452.5 303v1M454.5 170v1M454.5 179v1M454.5 290v1M454.5 307v1M455.5 194v1M455.5 207v1M455.5 212v1M455.5 219v1M455.5 223v1M455.5 226v1M455.5 231v1M455.5 234v1M455.5 250v1M455.5 278v1M455.5 284v1M455.5 304v1M455.5 326v1M488.5 211v1M488.5 213v1M492.5 279v1M494.5 206v1M495.5 197v1M498.5 278v1M499.5 189v1M500.5 287v1M501.5 205v1M501.5 207v1M501.5 263v1M502.5 201v1M502.5 204v1M502.5 212v1M502.5 216v1M502.5 229v1M502.5 239v1M502.5 246v1M502.5 248v1M502.5 251v1M502.5 256v1M502.5 262v1M535.5 326v1M536.5 202v1M536.5 230v1M536.5 335v1M538.5 319v1M540.5 214v1M540.5 217v1M540.5 219v1M543.5 209v1M543.5 212v1M544.5 216v1M544.5 221v1M544.5 231v1M544.5 267v1M544.5 313v1M545.5 237v1M545.5 260v1M545.5 276v1M545.5 292v1M547.5 213v1M547.5 215v1M547.5 221v1M547.5 226v1M547.5 238v1M547.5 241v1M547.5 245v1M547.5 277v1M547.5 279v1M547.5 281v1M547.5 283v1M547.5 285v1M547.5 291v1M547.5 295v1M547.5 297v1M547.5 307v1M547.5 309v1M547.5 312v1M547.5 322v1M547.5 324v1M553.5 229v1M553.5 238v1M553.5 246v1M553.5 253v1M554.5 248v1M554.5 262v1M554.5 267v1M554.5 272v1M554.5 277v1M554.5 280v1M554.5 292v1M554.5 299v1M554.5 306v1M554.5 309v1M554.5 336v1"/><path stroke="#2a7eb8" d="M207.5 219v1M212.5 248v1M214.5 241v1M220.5 195v1M220.5 278v1M221.5 239v1M221.5 242v1M221.5 250v1M266.5 212v1M268.5 208v1M271.5 256v1M272.5 215v1M272.5 227v1M310.5 259v1M317.5 212v1M317.5 217v1M317.5 219v1M317.5 221v1M317.5 232v1M317.5 234v1M317.5 242v1M317.5 260v1M347.5 246v1M348.5 234v1M348.5 245v1M442.5 297v1M443.5 191v1M443.5 196v1M443.5 202v1M443.5 204v1M443.5 216v1M443.5 220v1M443.5 230v1M443.5 235v1M443.5 276v1M450.5 321v1M454.5 271v1M455.5 192v1M455.5 196v1M455.5 214v1M455.5 217v1M455.5 229v1M455.5 239v1M455.5 242v1M455.5 245v1M455.5 248v1M455.5 253v1M491.5 186v1M492.5 306v1M492.5 312v1M495.5 286v1M500.5 204v1M500.5 266v1M500.5 282v1M502.5 206v1M502.5 210v1M502.5 225v1M502.5 233v1M502.5 244v1M535.5 279v1M536.5 222v1M545.5 235v1M545.5 248v1M545.5 284v1M545.5 286v1M547.5 223v1M547.5 229v1M547.5 234v1M547.5 250v1M547.5 252v1M547.5 254v1M547.5 288v1M547.5 303v1M547.5 314v1M547.5 327v1M554.5 254v1M554.5 256v1M554.5 258v1M554.5 260v1M554.5 282v1M554.5 289v1M554.5 301v1"/><path stroke="#1f77b4" d="M303.5 216v1M309.5 246v1M544.5 223v1M544.5 318v1M553.5 324v1"/></g>
<rect x="80.5" y="58.5" width="496" height="369" fill="none" stroke="#000" stroke-width="1.111"/>
<path d="M133.5 427.5v5M198.5 427.5v5M263.5 427.5v5M327.5 427.5v5M392.5 427.5v5M457.5 427.5v5M522.5 427.5v5M75.5 424.5H80M75.5 357.5H80M75.5 290.5H80M75.5 223.5H80M75.5 155.5H80M75.5 88.5H80" stroke="#000" stroke-width="1.111" fill="none"/>
<g style="font-family:'DejaVu Sans','Liberation Sans',sans-serif" font-size="13.889" fill="#000" text-rendering="geometricPrecision"><text x="133.00" y="447.73" text-anchor="middle">2.4535</text><text x="198.05" y="447.73" text-anchor="middle">2.4540</text><text x="263.10" y="447.73" text-anchor="middle">2.4545</text><text x="327.15" y="447.73" text-anchor="middle">2.4550</text><text x="391.95" y="447.73" text-anchor="middle">2.4555</text><text x="457.00" y="447.73" text-anchor="middle">2.4560</text><text x="522.05" y="447.73" text-anchor="middle">2.4565</text><text x="70.53" y="429.73" text-anchor="end">11</text><text x="70.78" y="362.53" text-anchor="end">12</text><text x="70.78" y="294.58" text-anchor="end">13</text><text x="70.78" y="227.63" text-anchor="end">14</text><text x="70.78" y="160.68" text-anchor="end">15</text><text x="69.78" y="93.73" text-anchor="end">16</text><text x="327.75" y="466.72" text-anchor="middle">time</text><text x="575.50" y="465.58" text-anchor="end">1e6</text><text transform="translate(42.66 244.15) rotate(-90)" text-anchor="middle">flux</text><text x="328.25" y="47.52" text-anchor="middle" font-size="16.6">1SWASPJ074118.64+361800.4</text></g>
</svg></body></html>
